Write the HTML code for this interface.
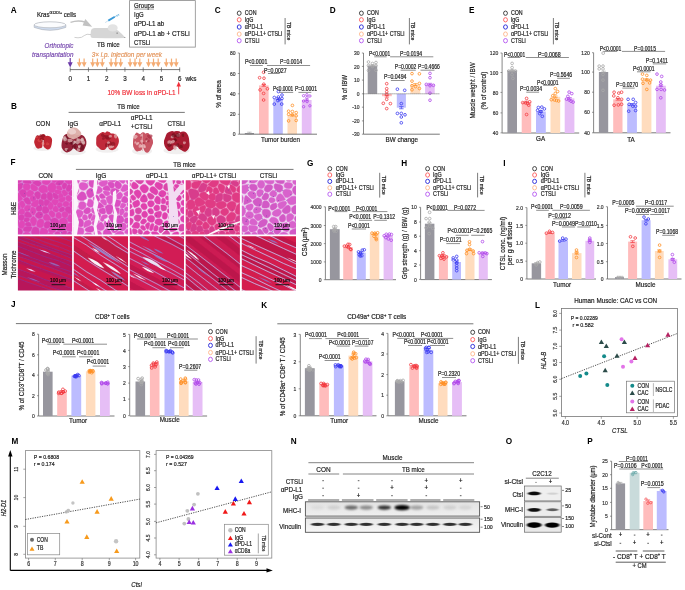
<!DOCTYPE html>
<html><head><meta charset="utf-8"><style>
html,body{margin:0;padding:0;background:#fff;width:685px;height:590px;overflow:hidden}
svg{display:block;will-change:transform}
text{font-family:"Liberation Sans",sans-serif}
</style></head><body>
<svg width="685" height="590" viewBox="0 0 685 590">
<defs><filter id="soft" x="-10%" y="-10%" width="120%" height="120%"><feGaussianBlur stdDeviation="0.45"/></filter>
<filter id="soft2" x="-5%" y="-5%" width="110%" height="110%"><feGaussianBlur stdDeviation="0.35"/></filter>
<clipPath id="clipHE0"><rect x="17.9" y="180.2" width="54.2" height="54.3"/></clipPath>
<clipPath id="clipHE1"><rect x="73.8" y="180.2" width="54.2" height="54.3"/></clipPath>
<clipPath id="clipHE2"><rect x="129.8" y="180.2" width="54.2" height="54.3"/></clipPath>
<clipPath id="clipHE3"><rect x="185.7" y="180.2" width="54.2" height="54.3"/></clipPath>
<clipPath id="clipHE4"><rect x="241.8" y="180.2" width="54.2" height="54.3"/></clipPath>
<clipPath id="clipMS0"><rect x="17.9" y="236.2" width="54.2" height="54.3"/></clipPath>
<clipPath id="clipMS1"><rect x="73.8" y="236.2" width="54.2" height="54.3"/></clipPath>
<clipPath id="clipMS2"><rect x="129.8" y="236.2" width="54.2" height="54.3"/></clipPath>
<clipPath id="clipMS3"><rect x="185.7" y="236.2" width="54.2" height="54.3"/></clipPath>
<clipPath id="clipMS4"><rect x="241.8" y="236.2" width="54.2" height="54.3"/></clipPath>
<filter id="bl1" x="-50%" y="-100%" width="200%" height="300%"><feGaussianBlur stdDeviation="0.9 0.7"/></filter>
<filter id="bl2" x="-50%" y="-100%" width="200%" height="300%"><feGaussianBlur stdDeviation="1.3 0.9"/></filter>
<linearGradient id="gN1" x1="0" y1="0" x2="0" y2="1"><stop offset="0" stop-color="#e2e2e2"/><stop offset="1" stop-color="#efefef"/></linearGradient>
<linearGradient id="gN2" x1="0" y1="0" x2="0" y2="1"><stop offset="0" stop-color="#e8e8e8"/><stop offset="1" stop-color="#f6f6f6"/></linearGradient></defs>
<rect width="685" height="590" fill="#fff"/>
<text x="10.8" y="12.8" font-size="8.2" fill="#000" font-weight="bold">A</text>
<text x="37" y="16.6" font-size="7.05" stroke="#222" stroke-width="0.2" fill="#222" textLength="39" lengthAdjust="spacingAndGlyphs">Kras<tspan font-size="4.2" dy="-2.4">G12D/+</tspan><tspan dy="2.4"> cells</tspan></text>
<path d="M34.2,24.8 L34.2,27.4 Q50,33.2 65.8,27.4 L65.8,24.8 Z" fill="#cfdcf0"/>
<ellipse cx="50" cy="24.8" rx="15.8" ry="3" fill="#fbfcfe" stroke="#b0b4bc" stroke-width="0.7"/>
<path d="M34.2,24.8 L34.2,27.4 Q50,33.2 65.8,27.4 L65.8,24.8" fill="none" stroke="#b0b4bc" stroke-width="0.7"/>
<path d="M70.5,22.4 Q78,19.6 85.5,22.2" fill="none" stroke="#c2c2c2" stroke-width="1.5"/>
<path d="M85.3,19.0 L92.2,26.7 L82.6,25.6 Z" fill="#c2c2c2"/>
<path d="M93,38.1 Q90.3,38 90.5,34.5 L90.9,31 Q91.4,27.9 95,27.9 L109,27.9 Q114,28 118,30.6 Q122,34 125.6,37.9 Q110,38.5 93,38.1 Z" fill="#d6d6d6"/>
<ellipse cx="112.7" cy="27.9" rx="5" ry="3.7" fill="#e3e3e3"/>
<circle cx="117.1" cy="33.1" r="0.6" fill="#555"/>
<circle cx="124.9" cy="37.5" r="0.45" fill="#555"/>
<path d="M91,34.6 Q86.5,33.4 84.2,35.6 Q82,37.9 78,37.8 L74.5,37.4" fill="none" stroke="#cacaca" stroke-width="0.9"/>
<line x1="105.2" y1="22.6" x2="108.4" y2="20.5" stroke="#8ab8d8" stroke-width="0.45"/>
<line x1="108.3" y1="20.6" x2="114.8" y2="16.8" stroke="#3a9ad8" stroke-width="1.9"/>
<line x1="114.8" y1="16.8" x2="119.2" y2="14.3" stroke="#5aaad8" stroke-width="0.6"/>
<line x1="116.4" y1="14.9" x2="117.5" y2="16.8" stroke="#5aaad8" stroke-width="0.5"/>
<line x1="118" y1="14" x2="119.1" y2="15.9" stroke="#5aaad8" stroke-width="0.5"/>
<text x="97" y="47.2" font-size="7.56" fill="#222" stroke="#222" stroke-width="0.2" textLength="22.8" lengthAdjust="spacingAndGlyphs">TB mice</text>
<rect x="129.6" y="0.6" width="65.7" height="46.5" fill="none" stroke="#8a8a8a" stroke-width="0.8"/>
<text x="134" y="7.9" font-size="7.28" fill="#222" stroke="#222" stroke-width="0.2" textLength="20" lengthAdjust="spacingAndGlyphs">Groups</text>
<line x1="134" y1="9.1" x2="154" y2="9.1" stroke="#444" stroke-width="0.5"/>
<text x="134" y="17" font-size="7.28" fill="#222" stroke="#222" stroke-width="0.2" textLength="9.6" lengthAdjust="spacingAndGlyphs">IgG</text>
<text x="134" y="26.3" font-size="7.28" fill="#222" stroke="#222" stroke-width="0.2" textLength="30.3" lengthAdjust="spacingAndGlyphs">&#945;PD-L1 ab</text>
<text x="134" y="35.6" font-size="7.28" fill="#222" stroke="#222" stroke-width="0.2" textLength="55.6" lengthAdjust="spacingAndGlyphs">&#945;PD-L1 ab + CTSLi</text>
<text x="134" y="44.7" font-size="7.28" fill="#222" stroke="#222" stroke-width="0.2" textLength="16.4" lengthAdjust="spacingAndGlyphs">CTSLi</text>
<text x="73.5" y="48.2" font-size="7.56" text-anchor="end" fill="#7a4db0" stroke="#7a4db0" stroke-width="0.2" font-style="italic" textLength="28.9" lengthAdjust="spacingAndGlyphs">Orthotopic</text>
<text x="73.5" y="57.2" font-size="7.56" text-anchor="end" fill="#7a4db0" stroke="#7a4db0" stroke-width="0.2" font-style="italic" textLength="41.5" lengthAdjust="spacingAndGlyphs">transplantation</text>
<text x="91.7" y="57.3" font-size="7.56" fill="#e3955c" stroke="#e3955c" stroke-width="0.2" font-style="italic" textLength="70.3" lengthAdjust="spacingAndGlyphs">3&#215; i.p. injection per week</text>
<line x1="70.2" y1="58" x2="70.2" y2="63.5" stroke="#6b3aa8" stroke-width="1.2"/>
<path d="M67.7,62.3 L72.7,62.3 L70.2,67.4 Z" fill="#6b3aa8"/>
<line x1="79.4" y1="58.6" x2="79.4" y2="63.5" stroke="#f4ac74" stroke-width="1.2"/>
<path d="M76.9,62.3 L81.9,62.3 L79.4,67.3 Z" fill="#f4ac74"/>
<line x1="84.1" y1="58.6" x2="84.1" y2="63.5" stroke="#f4ac74" stroke-width="1.2"/>
<path d="M81.6,62.3 L86.6,62.3 L84.1,67.3 Z" fill="#f4ac74"/>
<line x1="92.7" y1="58.6" x2="92.7" y2="63.5" stroke="#f4ac74" stroke-width="1.2"/>
<path d="M90.2,62.3 L95.2,62.3 L92.7,67.3 Z" fill="#f4ac74"/>
<line x1="97.4" y1="58.6" x2="97.4" y2="63.5" stroke="#f4ac74" stroke-width="1.2"/>
<path d="M94.9,62.3 L99.9,62.3 L97.4,67.3 Z" fill="#f4ac74"/>
<line x1="102.3" y1="58.6" x2="102.3" y2="63.5" stroke="#f4ac74" stroke-width="1.2"/>
<path d="M99.8,62.3 L104.8,62.3 L102.3,67.3 Z" fill="#f4ac74"/>
<line x1="111.1" y1="58.6" x2="111.1" y2="63.5" stroke="#f4ac74" stroke-width="1.2"/>
<path d="M108.6,62.3 L113.6,62.3 L111.1,67.3 Z" fill="#f4ac74"/>
<line x1="115.8" y1="58.6" x2="115.8" y2="63.5" stroke="#f4ac74" stroke-width="1.2"/>
<path d="M113.3,62.3 L118.3,62.3 L115.8,67.3 Z" fill="#f4ac74"/>
<line x1="120.7" y1="58.6" x2="120.7" y2="63.5" stroke="#f4ac74" stroke-width="1.2"/>
<path d="M118.2,62.3 L123.2,62.3 L120.7,67.3 Z" fill="#f4ac74"/>
<line x1="130.1" y1="58.6" x2="130.1" y2="63.5" stroke="#f4ac74" stroke-width="1.2"/>
<path d="M127.6,62.3 L132.6,62.3 L130.1,67.3 Z" fill="#f4ac74"/>
<line x1="135" y1="58.6" x2="135" y2="63.5" stroke="#f4ac74" stroke-width="1.2"/>
<path d="M132.5,62.3 L137.5,62.3 L135,67.3 Z" fill="#f4ac74"/>
<line x1="139.8" y1="58.6" x2="139.8" y2="63.5" stroke="#f4ac74" stroke-width="1.2"/>
<path d="M137.3,62.3 L142.3,62.3 L139.8,67.3 Z" fill="#f4ac74"/>
<line x1="148.5" y1="58.6" x2="148.5" y2="63.5" stroke="#f4ac74" stroke-width="1.2"/>
<path d="M146,62.3 L151,62.3 L148.5,67.3 Z" fill="#f4ac74"/>
<line x1="153.5" y1="58.6" x2="153.5" y2="63.5" stroke="#f4ac74" stroke-width="1.2"/>
<path d="M151,62.3 L156,62.3 L153.5,67.3 Z" fill="#f4ac74"/>
<line x1="158.2" y1="58.6" x2="158.2" y2="63.5" stroke="#f4ac74" stroke-width="1.2"/>
<path d="M155.7,62.3 L160.7,62.3 L158.2,67.3 Z" fill="#f4ac74"/>
<line x1="166.3" y1="58.6" x2="166.3" y2="63.5" stroke="#f4ac74" stroke-width="1.2"/>
<path d="M163.8,62.3 L168.8,62.3 L166.3,67.3 Z" fill="#f4ac74"/>
<line x1="171.5" y1="58.6" x2="171.5" y2="63.5" stroke="#f4ac74" stroke-width="1.2"/>
<path d="M169,62.3 L174,62.3 L171.5,67.3 Z" fill="#f4ac74"/>
<line x1="176.2" y1="58.6" x2="176.2" y2="63.5" stroke="#f4ac74" stroke-width="1.2"/>
<path d="M173.7,62.3 L178.7,62.3 L176.2,67.3 Z" fill="#f4ac74"/>
<line x1="70" y1="69.6" x2="180" y2="69.6" stroke="#555" stroke-width="0.8"/>
<line x1="70.2" y1="67.4" x2="70.2" y2="71.8" stroke="#555" stroke-width="0.7"/>
<text x="70.2" y="80.8" font-size="7.56" text-anchor="middle" fill="#222" stroke="#222" stroke-width="0.2" textLength="3.5" lengthAdjust="spacingAndGlyphs">0</text>
<line x1="88.45" y1="67.4" x2="88.45" y2="71.8" stroke="#555" stroke-width="0.7"/>
<text x="88.45" y="80.8" font-size="7.56" text-anchor="middle" fill="#222" stroke="#222" stroke-width="0.2" textLength="3.5" lengthAdjust="spacingAndGlyphs">1</text>
<line x1="106.7" y1="67.4" x2="106.7" y2="71.8" stroke="#555" stroke-width="0.7"/>
<text x="106.7" y="80.8" font-size="7.56" text-anchor="middle" fill="#222" stroke="#222" stroke-width="0.2" textLength="3.5" lengthAdjust="spacingAndGlyphs">2</text>
<line x1="124.95" y1="67.4" x2="124.95" y2="71.8" stroke="#555" stroke-width="0.7"/>
<text x="124.95" y="80.8" font-size="7.56" text-anchor="middle" fill="#222" stroke="#222" stroke-width="0.2" textLength="3.5" lengthAdjust="spacingAndGlyphs">3</text>
<line x1="143.2" y1="67.4" x2="143.2" y2="71.8" stroke="#555" stroke-width="0.7"/>
<text x="143.2" y="80.8" font-size="7.56" text-anchor="middle" fill="#222" stroke="#222" stroke-width="0.2" textLength="3.5" lengthAdjust="spacingAndGlyphs">4</text>
<line x1="161.45" y1="67.4" x2="161.45" y2="71.8" stroke="#555" stroke-width="0.7"/>
<text x="161.45" y="80.8" font-size="7.56" text-anchor="middle" fill="#222" stroke="#222" stroke-width="0.2" textLength="3.5" lengthAdjust="spacingAndGlyphs">5</text>
<line x1="179.7" y1="67.4" x2="179.7" y2="71.8" stroke="#555" stroke-width="0.7"/>
<text x="179.7" y="80.8" font-size="7.56" text-anchor="middle" fill="#222" stroke="#222" stroke-width="0.2" textLength="3.5" lengthAdjust="spacingAndGlyphs">6</text>
<text x="185.5" y="80.8" font-size="7.56" fill="#222" stroke="#222" stroke-width="0.2" textLength="11" lengthAdjust="spacingAndGlyphs">wks</text>
<text x="107.4" y="94.5" font-size="7.56" fill="#f0303a" stroke="#f0303a" stroke-width="0.2" textLength="68.1" lengthAdjust="spacingAndGlyphs">10% BW loss in &#945;PD-L1</text>
<line x1="178.7" y1="94.3" x2="178.7" y2="85" stroke="#f0303a" stroke-width="0.9"/>
<path d="M176.5,86.4 L180.9,86.4 L178.7,81.6 Z" fill="#f0303a"/>
<text x="11" y="109" font-size="8.2" fill="#000" font-weight="bold">B</text>
<text x="128.5" y="109.2" font-size="7.56" text-anchor="middle" fill="#222" stroke="#222" stroke-width="0.2" textLength="22.5" lengthAdjust="spacingAndGlyphs">TB mice</text>
<line x1="68.6" y1="112.4" x2="184.8" y2="112.4" stroke="#555" stroke-width="0.8"/>
<text x="42.9" y="125.8" font-size="7.56" text-anchor="middle" fill="#222" stroke="#222" stroke-width="0.2" textLength="14.4" lengthAdjust="spacingAndGlyphs">CON</text>
<text x="73" y="125.8" font-size="7.56" text-anchor="middle" fill="#222" stroke="#222" stroke-width="0.2" textLength="10.5" lengthAdjust="spacingAndGlyphs">IgG</text>
<text x="110.2" y="126" font-size="7.56" text-anchor="middle" fill="#222" stroke="#222" stroke-width="0.2" textLength="21.8" lengthAdjust="spacingAndGlyphs">&#945;PD-L1</text>
<text x="141.6" y="120.2" font-size="7.56" text-anchor="middle" fill="#222" stroke="#222" stroke-width="0.2" textLength="21.8" lengthAdjust="spacingAndGlyphs">&#945;PD-L1</text>
<text x="141.6" y="129" font-size="7.56" text-anchor="middle" fill="#222" stroke="#222" stroke-width="0.2" textLength="21.5" lengthAdjust="spacingAndGlyphs">+CTSLi</text>
<text x="176.2" y="125.7" font-size="7.56" text-anchor="middle" fill="#222" stroke="#222" stroke-width="0.2" textLength="17.5" lengthAdjust="spacingAndGlyphs">CTSLi</text>
<g filter="url(#soft)">
<ellipse cx="42.65" cy="148.2" rx="9.25" ry="2.77" fill="#e8e4e4" opacity="0.6"/>
<path d="M43.71,140.11 Q43.68,141.81 43.35,143.25 Q43.02,144.69 42.57,146.18 Q42.12,147.67 41.01,147.91 Q39.89,148.14 38.83,148.53 Q37.77,148.93 36.83,148.1 Q35.88,147.28 35.38,145.95 Q34.87,144.62 34.38,143.21 Q33.89,141.81 34.39,140.41 Q34.89,139.02 35.36,137.63 Q35.83,136.24 36.86,135.86 Q37.9,135.48 38.9,135.46 Q39.9,135.44 40.93,135.85 Q41.95,136.25 42.85,137.34 Q43.75,138.42 43.71,140.11 Z" fill="#c02630"/>
<path d="M52.1,140.46 Q51.95,142.12 51.78,143.55 Q51.61,144.99 51.11,146.4 Q50.61,147.82 49.63,148.79 Q48.64,149.76 47.45,149.46 Q46.27,149.15 45.32,148.33 Q44.37,147.52 43.38,146.53 Q42.39,145.54 42.67,143.83 Q42.95,142.12 42.74,140.45 Q42.52,138.78 43.48,137.82 Q44.45,136.86 45.42,136.33 Q46.39,135.8 47.4,135.82 Q48.41,135.84 49.4,136.34 Q50.38,136.83 51.31,137.82 Q52.25,138.81 52.1,140.46 Z" fill="#c02630"/>
<path d="M46.12,137.53 Q46.22,138.42 46.22,139.37 Q46.21,140.33 45.75,141.12 Q45.3,141.9 44.58,142.2 Q43.87,142.5 43.13,142.58 Q42.4,142.67 41.85,142.05 Q41.29,141.44 40.88,140.77 Q40.47,140.09 40.26,139.26 Q40.05,138.42 40.04,137.44 Q40.02,136.47 40.56,135.79 Q41.11,135.11 41.78,134.76 Q42.44,134.4 43.17,134.27 Q43.91,134.13 44.55,134.61 Q45.2,135.09 45.6,135.86 Q46.01,136.64 46.12,137.53 Z" fill="#c02630"/>
<path d="M49.06,143.35 Q49.58,143.83 49.24,144.48 Q48.89,145.13 48.2,145.21 Q47.51,145.3 46.74,145.29 Q45.97,145.27 46.03,144.55 Q46.09,143.83 46.21,143.27 Q46.32,142.71 46.91,142.34 Q47.51,141.97 48.02,142.42 Q48.53,142.87 49.06,143.35 Z" fill="#d84848" opacity="0.7"/>
<path d="M45.1,135.29 Q45.43,136.11 44.87,136.71 Q44.31,137.32 43.65,137.75 Q42.99,138.19 42.22,137.85 Q41.46,137.51 41.15,136.81 Q40.85,136.11 41.21,135.45 Q41.56,134.8 42.28,134.34 Q42.99,133.89 43.88,134.18 Q44.77,134.47 45.1,135.29 Z" fill="#8e1420" opacity="0.7"/>
<path d="M44.64,142.89 Q45.3,143.42 44.87,144.16 Q44.44,144.91 43.6,144.97 Q42.77,145.04 42.09,144.83 Q41.41,144.63 40.98,144.03 Q40.56,143.42 41.11,142.93 Q41.67,142.45 42.22,142.04 Q42.77,141.64 43.37,142 Q43.97,142.35 44.64,142.89 Z" fill="#d84848" opacity="0.7"/>
<path d="M38.36,135.89 Q38.42,136.34 38.36,136.79 Q38.31,137.23 37.9,137.21 Q37.48,137.18 37.14,137.13 Q36.8,137.07 36.64,136.71 Q36.47,136.34 36.56,135.89 Q36.65,135.44 37.07,135.27 Q37.48,135.1 37.9,135.27 Q38.31,135.45 38.36,135.89 Z" fill="#8e1420" opacity="0.7"/>
<path d="M41.65,139.96 Q42.03,140.51 41.73,141.12 Q41.42,141.72 40.65,142 Q39.87,142.28 39.07,142.02 Q38.26,141.76 37.77,141.14 Q37.27,140.51 37.6,139.75 Q37.93,138.99 38.9,138.85 Q39.87,138.7 40.57,139.06 Q41.26,139.42 41.65,139.96 Z" fill="#d84848" opacity="0.7"/>
<path d="M44.18,139.1 Q44.42,139.97 44.1,140.77 Q43.78,141.57 42.87,141.93 Q41.95,142.3 41.28,141.72 Q40.6,141.14 39.81,140.56 Q39.01,139.97 39.49,139.11 Q39.98,138.25 40.96,137.84 Q41.95,137.43 42.95,137.83 Q43.94,138.23 44.18,139.1 Z" fill="#8e1420" opacity="0.7"/>
<path d="M42.52,139.83 Q42.68,140.32 42.55,140.84 Q42.42,141.36 41.99,141.56 Q41.56,141.75 41.09,141.6 Q40.62,141.44 40.53,140.88 Q40.44,140.32 40.62,139.86 Q40.8,139.4 41.18,139.15 Q41.56,138.89 41.96,139.12 Q42.37,139.34 42.52,139.83 Z" fill="#d84848" opacity="0.7"/>
<path d="M42.3,135.35 Q42.43,135.95 42.27,136.5 Q42.1,137.06 41.62,137.29 Q41.13,137.53 40.71,137.23 Q40.28,136.92 39.83,136.43 Q39.39,135.95 39.61,135.2 Q39.82,134.45 40.48,134.36 Q41.13,134.28 41.65,134.52 Q42.17,134.76 42.3,135.35 Z" fill="#8e1420" opacity="0.7"/>
<path d="M38.19,136.4 Q38.28,136.84 38.06,137.18 Q37.83,137.51 37.43,137.94 Q37.02,138.37 36.48,138.05 Q35.94,137.74 35.86,137.29 Q35.78,136.84 35.85,136.39 Q35.93,135.95 36.48,135.92 Q37.02,135.89 37.56,135.92 Q38.1,135.95 38.19,136.4 Z" fill="#d84848" opacity="0.7"/>
</g>
<path d="M43.2,140 Q42.6,146 43.4,149.5" fill="none" stroke="#f6eeee" stroke-width="0.9"/>
<g filter="url(#soft)">
<ellipse cx="73.2" cy="151.8" rx="12.5" ry="3.47" fill="#e8e4e4" opacity="0.6"/>
<path d="M74.76,141.42 Q75.02,143.54 74.35,145.39 Q73.68,147.25 72.85,148.82 Q72.02,150.4 70.68,151.04 Q69.33,151.67 67.84,152.31 Q66.35,152.96 65.03,151.82 Q63.71,150.68 62.58,149.21 Q61.46,147.74 61.47,145.64 Q61.48,143.54 61.87,141.7 Q62.27,139.86 62.85,137.89 Q63.43,135.91 64.85,134.79 Q66.27,133.66 67.93,133.8 Q69.58,133.94 71.02,134.93 Q72.47,135.92 73.48,137.61 Q74.5,139.3 74.76,141.42 Z" fill="#942438"/>
<path d="M86.39,141.79 Q86.59,143.92 85.86,145.72 Q85.13,147.52 84.4,149.21 Q83.68,150.89 82.29,151.58 Q80.9,152.28 79.51,151.94 Q78.12,151.6 76.92,150.84 Q75.72,150.08 74.7,148.82 Q73.69,147.57 73.39,145.75 Q73.09,143.92 73.09,141.91 Q73.09,139.89 73.93,138.06 Q74.78,136.22 76.37,135.8 Q77.97,135.38 79.54,134.87 Q81.11,134.36 82.63,135.26 Q84.15,136.17 85.17,137.91 Q86.2,139.65 86.39,141.79 Z" fill="#942438"/>
<path d="M78.1,138 Q78.05,139.29 77.77,140.38 Q77.48,141.48 76.9,142.36 Q76.32,143.24 75.48,143.71 Q74.63,144.18 73.7,144.18 Q72.77,144.18 71.79,143.91 Q70.81,143.64 70.03,142.75 Q69.26,141.86 69.04,140.57 Q68.83,139.29 69.25,138.12 Q69.67,136.96 70.23,135.93 Q70.79,134.91 71.71,134.28 Q72.63,133.64 73.61,134.09 Q74.6,134.55 75.61,134.72 Q76.61,134.9 77.38,135.81 Q78.15,136.71 78.1,138 Z" fill="#942438"/>
<path d="M80.47,146.45 Q80.71,146.82 80.64,147.33 Q80.56,147.84 79.95,148.1 Q79.35,148.36 78.85,148.01 Q78.35,147.66 78.14,147.24 Q77.93,146.82 77.99,146.28 Q78.05,145.74 78.7,145.58 Q79.35,145.43 79.79,145.75 Q80.23,146.08 80.47,146.45 Z" fill="#dcb8b8" opacity="0.7"/>
<path d="M68.13,137.1 Q68.4,138.03 68.14,138.97 Q67.87,139.9 67.06,140.11 Q66.24,140.33 65.63,139.88 Q65.02,139.43 64.68,138.73 Q64.34,138.03 64.75,137.42 Q65.17,136.81 65.7,136.61 Q66.24,136.42 67.05,136.3 Q67.86,136.17 68.13,137.1 Z" fill="#6a1022" opacity="0.7"/>
<path d="M78.52,142.99 Q79,143.54 78.45,144.03 Q77.9,144.51 77.29,144.73 Q76.69,144.95 76.06,144.75 Q75.43,144.56 75.2,144.05 Q74.96,143.54 75.1,142.95 Q75.23,142.35 75.96,142.24 Q76.69,142.13 77.37,142.29 Q78.04,142.45 78.52,142.99 Z" fill="#6a1022" opacity="0.7"/>
<path d="M68.01,148.6 Q68.48,149.16 68.01,149.72 Q67.54,150.28 66.93,150.71 Q66.32,151.15 65.69,150.74 Q65.05,150.33 64.78,149.74 Q64.5,149.16 64.77,148.58 Q65.04,147.99 65.68,147.95 Q66.32,147.92 66.94,147.98 Q67.55,148.04 68.01,148.6 Z" fill="#dcb8b8" opacity="0.7"/>
<path d="M68.55,135.42 Q68.79,135.87 68.55,136.32 Q68.3,136.78 67.83,136.89 Q67.36,137.01 66.9,136.88 Q66.44,136.76 66.24,136.32 Q66.04,135.87 66.18,135.37 Q66.32,134.87 66.84,134.87 Q67.36,134.88 67.83,134.92 Q68.3,134.97 68.55,135.42 Z" fill="#6a1022" opacity="0.7"/>
<path d="M70.35,139.29 Q70.76,139.88 70.5,140.61 Q70.25,141.34 69.46,141.44 Q68.67,141.54 67.98,141.35 Q67.29,141.16 67.05,140.52 Q66.82,139.88 67.09,139.27 Q67.35,138.66 68.01,138.33 Q68.67,138 69.31,138.35 Q69.95,138.7 70.35,139.29 Z" fill="#6a1022" opacity="0.7"/>
<path d="M76.7,142.15 Q77.36,142.83 76.62,143.44 Q75.89,144.06 75.13,144.46 Q74.37,144.87 73.31,144.7 Q72.25,144.54 71.87,143.68 Q71.5,142.83 72.22,142.26 Q72.95,141.68 73.66,141.45 Q74.37,141.22 75.21,141.35 Q76.05,141.47 76.7,142.15 Z" fill="#6a1022" opacity="0.7"/>
<path d="M67.24,138.76 Q67.92,139.35 67.21,139.91 Q66.5,140.48 65.83,140.99 Q65.15,141.49 64.27,141.16 Q63.39,140.83 63.32,140.09 Q63.25,139.35 63.23,138.53 Q63.21,137.71 64.18,137.33 Q65.15,136.96 65.85,137.56 Q66.55,138.17 67.24,138.76 Z" fill="#dcb8b8" opacity="0.7"/>
<path d="M84.73,141.02 Q85.16,141.66 84.95,142.47 Q84.73,143.29 83.74,143.67 Q82.75,144.06 81.81,143.64 Q80.86,143.21 80.58,142.43 Q80.29,141.66 80.59,140.89 Q80.88,140.12 81.82,139.57 Q82.75,139.01 83.53,139.69 Q84.31,140.38 84.73,141.02 Z" fill="#dcb8b8" opacity="0.7"/>
<path d="M76.04,141.88 Q76.42,142.28 76.05,142.68 Q75.68,143.09 75.23,143.59 Q74.78,144.1 74.12,143.78 Q73.46,143.46 73.12,142.87 Q72.77,142.28 73.31,141.86 Q73.86,141.45 74.32,141.22 Q74.78,140.98 75.22,141.23 Q75.67,141.48 76.04,141.88 Z" fill="#dcb8b8" opacity="0.7"/>
<path d="M80.99,139.34 Q81.6,139.78 81.06,140.28 Q80.52,140.77 79.9,140.93 Q79.28,141.1 78.43,141.12 Q77.57,141.14 77.39,140.46 Q77.21,139.78 77.47,139.16 Q77.73,138.55 78.5,138.53 Q79.28,138.52 79.83,138.71 Q80.38,138.91 80.99,139.34 Z" fill="#dcb8b8" opacity="0.7"/>
<path d="M79.89,141.21 Q80.44,142.05 79.68,142.7 Q78.91,143.35 78.19,144.07 Q77.46,144.78 76.75,144.06 Q76.03,143.34 75.22,142.7 Q74.41,142.05 75.04,141.26 Q75.68,140.46 76.57,140.19 Q77.46,139.93 78.4,140.15 Q79.34,140.38 79.89,141.21 Z" fill="#dcb8b8" opacity="0.7"/>
<path d="M83.38,139.2 Q83.52,139.74 83.35,140.26 Q83.17,140.77 82.7,140.93 Q82.23,141.09 81.75,140.94 Q81.27,140.79 81.03,140.27 Q80.79,139.74 81,139.19 Q81.21,138.64 81.72,138.21 Q82.23,137.78 82.74,138.21 Q83.24,138.65 83.38,139.2 Z" fill="#dcb8b8" opacity="0.7"/>
<path d="M74.45,138.01 Q74.42,138.43 74.44,138.83 Q74.45,139.24 74.08,139.36 Q73.7,139.48 73.42,139.26 Q73.14,139.04 72.95,138.73 Q72.76,138.43 72.83,137.98 Q72.89,137.54 73.29,137.57 Q73.7,137.6 74.09,137.59 Q74.48,137.58 74.45,138.01 Z" fill="#dcb8b8" opacity="0.7"/>
<path d="M73.77,142.57 Q74.13,143.08 73.95,143.76 Q73.78,144.44 73.06,144.47 Q72.34,144.51 71.67,144.43 Q71,144.36 70.77,143.72 Q70.54,143.08 70.83,142.49 Q71.11,141.91 71.73,141.75 Q72.34,141.6 72.88,141.83 Q73.41,142.06 73.77,142.57 Z" fill="#6a1022" opacity="0.7"/>
<path d="M66.17,137.07 Q66.36,137.72 66.1,138.29 Q65.85,138.86 65.32,139.48 Q64.79,140.11 64,139.77 Q63.2,139.43 62.97,138.57 Q62.74,137.72 63.17,137.08 Q63.6,136.44 64.19,136.19 Q64.79,135.95 65.39,136.19 Q65.99,136.43 66.17,137.07 Z" fill="#dcb8b8" opacity="0.7"/>
<path d="M74.56,137.67 Q75.06,138.13 74.61,138.62 Q74.16,139.12 73.52,139.22 Q72.89,139.32 72.12,139.32 Q71.36,139.32 71.33,138.72 Q71.3,138.13 71.52,137.68 Q71.74,137.23 72.31,137.16 Q72.89,137.1 73.47,137.16 Q74.06,137.22 74.56,137.67 Z" fill="#dcb8b8" opacity="0.7"/>
<path d="M74.3,142.56 Q74.4,143.19 74.18,143.67 Q73.96,144.15 73.58,144.48 Q73.19,144.81 72.82,144.47 Q72.45,144.12 72.3,143.66 Q72.15,143.19 72.23,142.65 Q72.32,142.1 72.76,141.91 Q73.19,141.71 73.7,141.82 Q74.2,141.93 74.3,142.56 Z" fill="#dcb8b8" opacity="0.7"/>
<path d="M76.48,146 Q76.63,146.82 76.26,147.47 Q75.89,148.12 75.09,148.72 Q74.28,149.31 73.56,148.65 Q72.84,147.99 72.18,147.41 Q71.52,146.82 71.96,146.07 Q72.4,145.31 73.34,145.29 Q74.28,145.28 75.31,145.23 Q76.33,145.17 76.48,146 Z" fill="#6a1022" opacity="0.7"/>
<path d="M83.2,144.19 Q83.42,145.02 83.14,145.77 Q82.86,146.53 82.2,147.02 Q81.54,147.51 80.78,147.14 Q80.02,146.76 79.7,145.89 Q79.38,145.02 79.77,144.23 Q80.17,143.44 80.85,142.95 Q81.54,142.46 82.26,142.91 Q82.97,143.37 83.2,144.19 Z" fill="#6a1022" opacity="0.7"/>
<path d="M78.34,138.87 Q78.5,139.19 78.51,139.68 Q78.53,140.17 78.05,140.29 Q77.57,140.41 77.13,140.25 Q76.69,140.08 76.51,139.63 Q76.33,139.19 76.5,138.73 Q76.67,138.27 77.12,138.14 Q77.57,138.01 77.88,138.28 Q78.18,138.56 78.34,138.87 Z" fill="#dcb8b8" opacity="0.7"/>
<path d="M81.21,146.1 Q81.2,146.79 81.21,147.48 Q81.22,148.17 80.44,148.25 Q79.65,148.32 79.1,148.04 Q78.55,147.77 78.23,147.28 Q77.91,146.79 78,146.1 Q78.1,145.41 78.88,145.36 Q79.65,145.3 80.44,145.35 Q81.22,145.41 81.21,146.1 Z" fill="#dcb8b8" opacity="0.7"/>
<path d="M84.9,142.53 Q85.38,143.06 85.01,143.69 Q84.64,144.31 83.93,144.58 Q83.21,144.85 82.68,144.42 Q82.15,143.99 81.9,143.53 Q81.64,143.06 81.84,142.54 Q82.03,142.03 82.62,141.61 Q83.21,141.19 83.82,141.59 Q84.43,142 84.9,142.53 Z" fill="#dcb8b8" opacity="0.7"/>
<path d="M76.57,135.42 Q76.77,136 76.51,136.53 Q76.26,137.06 75.66,137.14 Q75.06,137.23 74.5,137.11 Q73.94,136.98 73.73,136.49 Q73.52,136 73.74,135.52 Q73.97,135.04 74.51,134.96 Q75.06,134.89 75.72,134.86 Q76.38,134.83 76.57,135.42 Z" fill="#dcb8b8" opacity="0.7"/>
<path d="M68.68,149.79 Q68.91,150.16 68.76,150.61 Q68.61,151.06 68.15,151.11 Q67.69,151.16 67.36,150.98 Q67.03,150.8 66.9,150.48 Q66.78,150.16 66.78,149.72 Q66.77,149.28 67.23,149.28 Q67.69,149.29 68.07,149.35 Q68.46,149.41 68.68,149.79 Z" fill="#6a1022" opacity="0.7"/>
<path d="M67.64,143.19 Q67.98,143.5 67.86,144 Q67.75,144.5 67.14,144.66 Q66.53,144.81 66.1,144.52 Q65.66,144.23 65.24,143.87 Q64.81,143.5 65.17,143.09 Q65.53,142.67 66.03,142.63 Q66.53,142.6 66.92,142.74 Q67.3,142.87 67.64,143.19 Z" fill="#6a1022" opacity="0.7"/>
<path d="M74.52,141.96 Q74.59,142.43 74.54,142.92 Q74.5,143.42 74.02,143.37 Q73.53,143.33 73.07,143.35 Q72.61,143.38 72.39,142.9 Q72.17,142.43 72.52,142.08 Q72.87,141.74 73.2,141.36 Q73.53,140.98 73.99,141.23 Q74.44,141.49 74.52,141.96 Z" fill="#dcb8b8" opacity="0.7"/>
<path d="M83.42,139.58 Q83.84,140.07 83.45,140.58 Q83.06,141.09 82.39,141.32 Q81.73,141.56 81.1,141.3 Q80.47,141.04 80.32,140.55 Q80.17,140.07 80.38,139.63 Q80.59,139.19 81.16,138.72 Q81.73,138.26 82.37,138.67 Q83,139.09 83.42,139.58 Z" fill="#dcb8b8" opacity="0.7"/>
<path d="M83.69,138.85 Q83.85,139.47 83.8,140.22 Q83.74,140.96 83.08,141.24 Q82.41,141.52 81.78,141.2 Q81.16,140.88 80.97,140.17 Q80.78,139.47 80.94,138.74 Q81.1,138.01 81.76,137.69 Q82.41,137.38 82.97,137.81 Q83.52,138.23 83.69,138.85 Z" fill="#dcb8b8" opacity="0.7"/>
<path d="M79.73,136.02 Q80.15,136.54 79.73,137.06 Q79.3,137.57 78.7,137.69 Q78.09,137.81 77.27,137.87 Q76.45,137.94 76.49,137.24 Q76.53,136.54 76.64,135.97 Q76.75,135.4 77.42,135.22 Q78.09,135.04 78.7,135.27 Q79.31,135.5 79.73,136.02 Z" fill="#6a1022" opacity="0.7"/>
<path d="M79.97,149.55 Q80.36,150.14 80.03,150.78 Q79.7,151.42 79.09,151.58 Q78.48,151.74 77.95,151.5 Q77.41,151.26 77.17,150.7 Q76.92,150.14 76.93,149.32 Q76.93,148.5 77.71,148.36 Q78.48,148.22 79.04,148.6 Q79.59,148.97 79.97,149.55 Z" fill="#dcb8b8" opacity="0.7"/>
<path d="M73.5,137.48 Q73.57,137.86 73.47,138.21 Q73.37,138.56 73.04,138.71 Q72.7,138.85 72.3,138.77 Q71.9,138.69 71.65,138.28 Q71.39,137.86 71.61,137.42 Q71.83,136.97 72.26,136.88 Q72.7,136.79 73.07,136.94 Q73.44,137.1 73.5,137.48 Z" fill="#dcb8b8" opacity="0.7"/>
<path d="M75.13,141.01 Q75.44,141.34 75.11,141.66 Q74.77,141.97 74.48,142.2 Q74.18,142.43 73.8,142.3 Q73.42,142.16 73.2,141.75 Q72.98,141.34 73.27,141.01 Q73.56,140.68 73.87,140.53 Q74.18,140.38 74.5,140.53 Q74.81,140.67 75.13,141.01 Z" fill="#dcb8b8" opacity="0.7"/>
<path d="M73.63,141.62 Q73.75,142.36 73.46,142.95 Q73.16,143.54 72.43,144.16 Q71.7,144.77 70.55,144.49 Q69.4,144.21 69.21,143.28 Q69.03,142.36 69.36,141.55 Q69.7,140.74 70.7,140.73 Q71.7,140.71 72.6,140.8 Q73.5,140.89 73.63,141.62 Z" fill="#6a1022" opacity="0.7"/>
<path d="M83.99,146.98 Q83.99,147.93 83.75,148.62 Q83.51,149.31 82.87,149.81 Q82.24,150.31 81.39,150.03 Q80.55,149.75 80.06,148.84 Q79.57,147.93 80.05,147 Q80.52,146.07 81.38,145.73 Q82.24,145.39 83.11,145.71 Q83.98,146.04 83.99,146.98 Z" fill="#6a1022" opacity="0.7"/>
</g>
<g filter="url(#soft)">
<path d="M80.83,132.11 Q81.52,133.2 81.23,134.43 Q80.93,135.66 79.57,136.38 Q78.21,137.09 77.01,138.06 Q75.81,139.03 74.11,138.67 Q72.42,138.31 70.6,138.16 Q68.78,138.02 67.85,136.87 Q66.91,135.71 66.84,134.46 Q66.76,133.2 67.26,132.09 Q67.76,130.99 68.65,130.03 Q69.54,129.08 70.9,128.32 Q72.25,127.56 74.01,127.52 Q75.77,127.48 77.03,128.35 Q78.3,129.23 79.22,130.13 Q80.14,131.02 80.83,132.11 Z" fill="#dcaca6" opacity="0.95"/>
<path d="M75.89,130.85 Q76.22,131.5 76.04,132.21 Q75.86,132.92 75.2,133.43 Q74.55,133.93 73.71,134.17 Q72.87,134.41 71.96,134.55 Q71.04,134.7 70.37,134.2 Q69.69,133.71 69.04,133.27 Q68.4,132.82 68.12,132.16 Q67.84,131.5 67.82,130.73 Q67.8,129.96 68.54,129.43 Q69.29,128.91 70.13,128.5 Q70.98,128.09 71.95,128.25 Q72.93,128.4 73.69,128.78 Q74.45,129.16 75,129.68 Q75.55,130.2 75.89,130.85 Z" fill="#ecd2ce" opacity="0.9"/>
<path d="M72.59,140.07 Q72.89,140.5 72.67,140.96 Q72.46,141.41 72,141.7 Q71.55,141.99 71.03,142.11 Q70.51,142.23 69.97,142.34 Q69.42,142.45 68.87,142.29 Q68.31,142.13 68.01,141.74 Q67.7,141.35 67.63,140.93 Q67.55,140.5 67.56,140.05 Q67.56,139.6 67.89,139.19 Q68.21,138.78 68.84,138.73 Q69.46,138.68 69.99,138.72 Q70.51,138.77 71.04,138.88 Q71.56,139 71.93,139.32 Q72.3,139.65 72.59,140.07 Z" fill="#d8a8a8" opacity="0.8"/>
</g>
<g filter="url(#soft)">
<ellipse cx="107.1" cy="149.2" rx="11.6" ry="3.47" fill="#e8e4e4" opacity="0.6"/>
<path d="M108.66,138.75 Q108.8,140.94 108.15,142.76 Q107.5,144.59 106.97,146.56 Q106.45,148.53 105.09,149.41 Q103.74,150.29 102.3,150.04 Q100.87,149.79 99.75,148.66 Q98.63,147.53 97.31,146.42 Q95.98,145.32 96.13,143.13 Q96.28,140.94 96.23,138.82 Q96.19,136.7 97.4,135.5 Q98.61,134.3 99.79,133.49 Q100.96,132.68 102.35,132.11 Q103.75,131.54 104.86,132.87 Q105.98,134.19 107.25,135.38 Q108.52,136.57 108.66,138.75 Z" fill="#c02c3a"/>
<path d="M118.81,139.45 Q119.19,141.32 118.67,143.1 Q118.16,144.88 117.37,146.34 Q116.58,147.8 115.44,148.8 Q114.3,149.81 112.89,150.06 Q111.49,150.32 110.05,149.67 Q108.61,149.01 108.19,146.93 Q107.77,144.85 107.3,143.08 Q106.83,141.32 107.26,139.53 Q107.68,137.74 108.13,135.66 Q108.59,133.59 110.12,133.5 Q111.66,133.41 112.92,133.5 Q114.18,133.6 115.3,134.36 Q116.43,135.11 117.43,136.34 Q118.44,137.57 118.81,139.45 Z" fill="#c02c3a"/>
<path d="M111.69,135.57 Q112.18,136.69 111.94,137.97 Q111.71,139.25 111.03,140.2 Q110.35,141.15 109.49,141.87 Q108.64,142.59 107.61,142.55 Q106.57,142.5 105.84,141.62 Q105.1,140.74 104.61,139.8 Q104.12,138.86 103.55,137.77 Q102.99,136.69 103.3,135.45 Q103.62,134.21 104.45,133.57 Q105.29,132.94 105.96,132.08 Q106.63,131.21 107.57,131.39 Q108.5,131.57 109.31,132.08 Q110.12,132.59 110.67,133.52 Q111.21,134.44 111.69,135.57 Z" fill="#c02c3a"/>
<path d="M104.85,137.92 Q105.02,138.37 104.84,138.82 Q104.67,139.27 104.09,139.62 Q103.51,139.97 102.79,139.73 Q102.07,139.5 101.94,138.93 Q101.81,138.37 102.18,138 Q102.55,137.62 103.03,137.32 Q103.51,137.02 104.1,137.24 Q104.68,137.46 104.85,137.92 Z" fill="#8c1424" opacity="0.7"/>
<path d="M116.96,135.28 Q117.3,136.05 117.16,137.05 Q117.02,138.05 116.2,138.44 Q115.39,138.83 114.84,138.11 Q114.3,137.38 114.07,136.72 Q113.85,136.05 114.06,135.37 Q114.28,134.69 114.83,133.88 Q115.39,133.08 116.01,133.8 Q116.63,134.52 116.96,135.28 Z" fill="#e6b4b4" opacity="0.7"/>
<path d="M114.12,145.72 Q114.33,146.4 113.89,146.89 Q113.45,147.38 112.82,147.76 Q112.19,148.15 111.54,147.78 Q110.89,147.41 110.64,146.9 Q110.39,146.4 110.75,145.98 Q111.11,145.56 111.65,145.08 Q112.19,144.61 113.05,144.83 Q113.92,145.05 114.12,145.72 Z" fill="#e6b4b4" opacity="0.7"/>
<path d="M111.53,146.6 Q112.03,147.05 111.75,147.71 Q111.46,148.38 110.77,148.43 Q110.09,148.49 109.6,148.24 Q109.11,148 108.83,147.52 Q108.56,147.05 108.76,146.51 Q108.97,145.98 109.53,145.59 Q110.09,145.2 110.56,145.67 Q111.03,146.14 111.53,146.6 Z" fill="#e6b4b4" opacity="0.7"/>
<path d="M115.14,143.34 Q115.52,144.05 115.18,144.78 Q114.84,145.52 114.03,145.84 Q113.22,146.17 112.2,146.03 Q111.18,145.89 111.21,144.97 Q111.23,144.05 111.47,143.36 Q111.7,142.68 112.46,142.08 Q113.22,141.48 113.99,142.06 Q114.77,142.64 115.14,143.34 Z" fill="#8c1424" opacity="0.7"/>
<path d="M111.04,137.17 Q111.36,137.99 110.85,138.68 Q110.34,139.36 109.46,139.65 Q108.58,139.94 107.46,139.83 Q106.35,139.72 105.72,138.86 Q105.09,137.99 105.75,137.16 Q106.41,136.32 107.49,136.1 Q108.58,135.88 109.64,136.11 Q110.71,136.34 111.04,137.17 Z" fill="#8c1424" opacity="0.7"/>
<path d="M111.76,142.37 Q112.02,143.1 112.05,144.09 Q112.07,145.08 110.95,145.16 Q109.83,145.24 108.85,145.05 Q107.86,144.85 107.58,143.98 Q107.3,143.1 107.5,142.16 Q107.7,141.22 108.76,141.15 Q109.83,141.08 110.67,141.35 Q111.5,141.63 111.76,142.37 Z" fill="#8c1424" opacity="0.7"/>
<path d="M104.34,134.9 Q104.71,135.46 104.64,136.35 Q104.58,137.24 103.73,137.36 Q102.87,137.48 102.28,137.09 Q101.69,136.7 101.16,136.08 Q100.64,135.46 101.02,134.7 Q101.4,133.93 102.14,133.45 Q102.87,132.96 103.42,133.64 Q103.97,134.33 104.34,134.9 Z" fill="#8c1424" opacity="0.7"/>
<path d="M108.89,144.19 Q108.96,145.23 108.63,145.94 Q108.3,146.65 107.71,146.99 Q107.13,147.33 106.24,147.36 Q105.35,147.4 105.18,146.31 Q105.01,145.23 105.2,144.17 Q105.38,143.1 106.26,143 Q107.13,142.91 107.98,143.03 Q108.83,143.16 108.89,144.19 Z" fill="#8c1424" opacity="0.7"/>
<path d="M108.58,136.09 Q108.91,137.03 108.59,137.97 Q108.27,138.92 107.46,139.06 Q106.66,139.2 105.94,138.95 Q105.23,138.7 105.06,137.86 Q104.89,137.03 105.12,136.27 Q105.36,135.51 106.01,135.16 Q106.66,134.81 107.45,134.98 Q108.25,135.16 108.58,136.09 Z" fill="#8c1424" opacity="0.7"/>
<path d="M111.84,135.64 Q112.01,136.2 111.82,136.73 Q111.62,137.26 111.02,137.44 Q110.41,137.61 109.65,137.58 Q108.88,137.55 108.68,136.87 Q108.48,136.2 108.93,135.74 Q109.37,135.28 109.89,135.08 Q110.41,134.87 111.05,134.98 Q111.68,135.09 111.84,135.64 Z" fill="#e6b4b4" opacity="0.7"/>
<path d="M109.87,142.11 Q110.1,142.59 109.83,143.04 Q109.56,143.49 109.05,143.69 Q108.53,143.88 107.82,143.86 Q107.11,143.83 107.08,143.21 Q107.04,142.59 107.19,142.07 Q107.33,141.55 107.93,141.41 Q108.53,141.26 109.09,141.44 Q109.64,141.62 109.87,142.11 Z" fill="#e6b4b4" opacity="0.7"/>
<path d="M106.11,135.71 Q106.5,136.11 106.19,136.61 Q105.88,137.12 105.48,137.48 Q105.07,137.83 104.67,137.47 Q104.27,137.11 103.96,136.61 Q103.65,136.11 103.95,135.59 Q104.25,135.08 104.66,134.98 Q105.07,134.87 105.39,135.09 Q105.71,135.31 106.11,135.71 Z" fill="#8c1424" opacity="0.7"/>
</g>
<g filter="url(#soft)">
<ellipse cx="142.1" cy="151.1" rx="10.1" ry="3.67" fill="#e8e4e4" opacity="0.6"/>
<path d="M143.35,140.08 Q143.48,142.31 143.25,144.46 Q143.03,146.61 142.36,148.57 Q141.69,150.54 140.37,150.64 Q139.05,150.73 137.88,151.33 Q136.7,151.93 135.68,150.75 Q134.66,149.57 133.85,148.02 Q133.03,146.47 133,144.39 Q132.96,142.31 133.13,140.34 Q133.3,138.36 133.92,136.57 Q134.54,134.77 135.58,133.39 Q136.62,132.01 137.84,132.92 Q139.05,133.84 140.2,134.33 Q141.35,134.83 142.29,136.34 Q143.23,137.84 143.35,140.08 Z" fill="#c85464"/>
<path d="M152.9,140.54 Q153.31,142.72 152.56,144.6 Q151.8,146.49 151.07,147.94 Q150.34,149.4 149.47,151.12 Q148.59,152.84 147.24,152.87 Q145.89,152.91 144.88,151.47 Q143.86,150.02 143.36,148.19 Q142.86,146.35 142.05,144.53 Q141.23,142.72 141.85,140.73 Q142.46,138.75 142.99,136.71 Q143.52,134.67 144.76,133.99 Q146,133.3 147.28,133.08 Q148.55,132.85 149.46,134.42 Q150.37,135.98 151.43,137.17 Q152.5,138.37 152.9,140.54 Z" fill="#c85464"/>
<path d="M145.75,136.72 Q145.99,137.82 145.9,139.03 Q145.8,140.24 145.43,141.45 Q145.06,142.66 144.26,143.24 Q143.47,143.83 142.66,143.4 Q141.85,142.97 141.17,142.47 Q140.49,141.98 139.94,141.11 Q139.4,140.24 139.18,139.03 Q138.95,137.82 139.18,136.62 Q139.42,135.41 139.98,134.58 Q140.54,133.76 141.19,133.17 Q141.84,132.59 142.65,132.27 Q143.45,131.95 144.27,132.44 Q145.08,132.93 145.3,134.27 Q145.52,135.61 145.75,136.72 Z" fill="#c85464"/>
<path d="M145.16,145.13 Q145.4,145.89 145.12,146.61 Q144.85,147.33 144.23,147.67 Q143.61,148.01 143.06,147.58 Q142.52,147.16 142.24,146.53 Q141.97,145.89 142.16,145.16 Q142.35,144.43 142.98,144.2 Q143.61,143.98 144.26,144.17 Q144.91,144.37 145.16,145.13 Z" fill="#ecc0c0" opacity="0.7"/>
<path d="M143.03,140.45 Q143.29,140.94 143.23,141.63 Q143.17,142.31 142.45,142.6 Q141.74,142.89 141.12,142.51 Q140.51,142.12 140.38,141.53 Q140.24,140.94 140.37,140.35 Q140.5,139.76 141.12,139.66 Q141.74,139.57 142.25,139.77 Q142.77,139.96 143.03,140.45 Z" fill="#ecc0c0" opacity="0.7"/>
<path d="M142.59,135.05 Q142.85,135.57 142.52,136.01 Q142.2,136.44 141.84,136.88 Q141.48,137.32 140.96,137.07 Q140.45,136.83 140.32,136.2 Q140.19,135.57 140.48,135.14 Q140.77,134.71 141.13,134.36 Q141.48,134 141.9,134.27 Q142.33,134.53 142.59,135.05 Z" fill="#ecc0c0" opacity="0.7"/>
<path d="M152.4,135.37 Q152.85,136.26 152.13,136.92 Q151.42,137.57 150.65,138.28 Q149.89,138.98 148.98,138.39 Q148.08,137.81 147.41,137.03 Q146.74,136.26 147.22,135.32 Q147.7,134.38 148.79,134.41 Q149.89,134.43 150.92,134.46 Q151.96,134.48 152.4,135.37 Z" fill="#a82c40" opacity="0.7"/>
<path d="M141.93,145.21 Q142.43,145.87 141.87,146.47 Q141.32,147.07 140.75,147.51 Q140.19,147.94 139.36,147.79 Q138.53,147.64 138.54,146.76 Q138.54,145.87 138.76,145.23 Q138.98,144.58 139.59,144.19 Q140.19,143.8 140.81,144.17 Q141.44,144.54 141.93,145.21 Z" fill="#ecc0c0" opacity="0.7"/>
<path d="M137.57,136.08 Q138.01,136.97 137.27,137.6 Q136.54,138.22 135.83,138.81 Q135.12,139.39 134.43,138.79 Q133.74,138.18 133.2,137.58 Q132.66,136.97 132.98,136.17 Q133.29,135.37 134.2,135.19 Q135.12,135 136.13,135.1 Q137.14,135.19 137.57,136.08 Z" fill="#ecc0c0" opacity="0.7"/>
<path d="M144.74,142.73 Q144.92,143.14 144.66,143.49 Q144.39,143.83 143.94,144.08 Q143.49,144.33 143.07,144.06 Q142.65,143.79 142.24,143.46 Q141.82,143.14 142.16,142.76 Q142.51,142.38 143,142.28 Q143.49,142.18 144.03,142.24 Q144.57,142.31 144.74,142.73 Z" fill="#a82c40" opacity="0.7"/>
<path d="M142.49,136.63 Q142.69,136.89 142.62,137.25 Q142.55,137.62 142.11,137.85 Q141.67,138.08 141.24,137.84 Q140.81,137.6 140.61,137.24 Q140.41,136.89 140.66,136.58 Q140.92,136.27 141.29,136.22 Q141.67,136.17 141.98,136.27 Q142.3,136.37 142.49,136.63 Z" fill="#a82c40" opacity="0.7"/>
<path d="M138.37,143.18 Q138.53,143.7 138.33,144.18 Q138.13,144.66 137.53,145.02 Q136.93,145.39 136.41,144.96 Q135.88,144.54 135.67,144.12 Q135.47,143.7 135.56,143.19 Q135.65,142.67 136.29,142.56 Q136.93,142.44 137.58,142.56 Q138.22,142.67 138.37,143.18 Z" fill="#ecc0c0" opacity="0.7"/>
<path d="M139.33,142.71 Q139.42,143.2 139.16,143.53 Q138.89,143.87 138.52,144.24 Q138.14,144.62 137.74,144.27 Q137.35,143.91 137.21,143.56 Q137.08,143.2 137.24,142.87 Q137.41,142.54 137.78,142.24 Q138.14,141.95 138.69,142.08 Q139.23,142.22 139.33,142.71 Z" fill="#ecc0c0" opacity="0.7"/>
<path d="M148.13,139.99 Q148.22,140.38 148.03,140.68 Q147.83,140.98 147.5,141.17 Q147.16,141.36 146.81,141.19 Q146.45,141.01 146.18,140.69 Q145.91,140.38 146.13,140.02 Q146.35,139.66 146.75,139.62 Q147.16,139.58 147.6,139.59 Q148.03,139.6 148.13,139.99 Z" fill="#ecc0c0" opacity="0.7"/>
<path d="M136.16,141.96 Q136.37,142.39 136.07,142.71 Q135.77,143.04 135.5,143.33 Q135.23,143.63 134.8,143.53 Q134.37,143.43 134.39,142.91 Q134.41,142.39 134.52,142.03 Q134.63,141.66 134.93,141.39 Q135.23,141.11 135.59,141.32 Q135.94,141.53 136.16,141.96 Z" fill="#ecc0c0" opacity="0.7"/>
<path d="M145.8,146.31 Q145.85,146.76 145.89,147.31 Q145.93,147.86 145.41,148.05 Q144.89,148.25 144.4,148.01 Q143.92,147.78 143.94,147.27 Q143.96,146.76 143.91,146.22 Q143.86,145.68 144.37,145.49 Q144.89,145.3 145.32,145.58 Q145.75,145.85 145.8,146.31 Z" fill="#ecc0c0" opacity="0.7"/>
<path d="M147.22,140.79 Q147.24,141.16 147.18,141.5 Q147.12,141.84 146.81,142.08 Q146.51,142.33 146.14,142.15 Q145.77,141.97 145.58,141.57 Q145.39,141.16 145.58,140.76 Q145.76,140.35 146.14,140.3 Q146.51,140.25 146.85,140.33 Q147.2,140.41 147.22,140.79 Z" fill="#ecc0c0" opacity="0.7"/>
<path d="M143.03,145.83 Q143.29,146.37 142.85,146.75 Q142.41,147.13 141.99,147.49 Q141.57,147.85 141.19,147.45 Q140.82,147.04 140.58,146.71 Q140.34,146.37 140.52,145.99 Q140.71,145.61 141.14,145.29 Q141.57,144.98 142.17,145.14 Q142.77,145.3 143.03,145.83 Z" fill="#ecc0c0" opacity="0.7"/>
<path d="M147.79,138.7 Q148.05,139.22 147.77,139.72 Q147.5,140.22 147.04,140.44 Q146.58,140.67 146.11,140.45 Q145.64,140.23 145.35,139.72 Q145.07,139.22 145.4,138.75 Q145.73,138.29 146.15,137.98 Q146.58,137.66 147.05,137.92 Q147.53,138.18 147.79,138.7 Z" fill="#a82c40" opacity="0.7"/>
<path d="M149.72,140.22 Q149.72,140.93 149.64,141.54 Q149.55,142.16 148.97,142.19 Q148.38,142.22 147.71,142.27 Q147.04,142.33 147.07,141.63 Q147.09,140.93 147.31,140.48 Q147.53,140.04 147.95,139.82 Q148.38,139.61 149.05,139.56 Q149.72,139.52 149.72,140.22 Z" fill="#a82c40" opacity="0.7"/>
</g>
<path d="M142.4,133.5 Q141.8,142 142.6,151" fill="none" stroke="#e8b0b4" stroke-width="0.8"/>
<g filter="url(#soft)">
<ellipse cx="176.5" cy="150.5" rx="13" ry="3.83" fill="#e8e4e4" opacity="0.6"/>
<path d="M177.86,138.9 Q177.78,141.28 177.29,143.26 Q176.8,145.25 175.85,146.73 Q174.9,148.22 173.66,149.09 Q172.41,149.96 170.9,150.72 Q169.39,151.49 167.94,150.42 Q166.5,149.35 165.45,147.59 Q164.4,145.82 164,143.55 Q163.6,141.28 164.48,139.33 Q165.35,137.39 165.95,135.33 Q166.55,133.28 168.03,132.56 Q169.51,131.84 171.11,131.3 Q172.7,130.77 174.22,131.81 Q175.73,132.85 176.84,134.69 Q177.94,136.52 177.86,138.9 Z" fill="#a81c30"/>
<path d="M189.13,139.68 Q189.27,141.7 189.57,144.02 Q189.86,146.33 188.83,148.23 Q187.79,150.12 186.25,151.2 Q184.71,152.27 183.14,151.31 Q181.57,150.35 180.24,149.59 Q178.91,148.82 178.08,147.19 Q177.24,145.56 176.99,143.63 Q176.74,141.7 176.44,139.4 Q176.13,137.1 177.2,135.28 Q178.28,133.47 179.82,132.66 Q181.37,131.84 183.02,131.62 Q184.66,131.4 186.08,132.6 Q187.5,133.8 188.24,135.73 Q188.98,137.67 189.13,139.68 Z" fill="#a81c30"/>
<path d="M181.23,135.29 Q181.23,136.59 181.02,137.76 Q180.81,138.93 180.45,140.23 Q180.1,141.54 179.03,141.77 Q177.97,141.99 176.99,142.07 Q176,142.15 175.07,141.66 Q174.14,141.17 173.7,140.02 Q173.27,138.88 172.93,137.74 Q172.59,136.59 172.8,135.36 Q173,134.14 173.47,132.91 Q173.93,131.69 174.96,131.32 Q175.99,130.96 176.99,130.99 Q178,131.03 179.12,131.22 Q180.24,131.41 180.73,132.7 Q181.22,134 181.23,135.29 Z" fill="#a81c30"/>
<path d="M185.88,142.12 Q186.13,142.76 185.75,143.28 Q185.36,143.8 184.83,144.15 Q184.31,144.5 183.73,144.2 Q183.15,143.9 183.04,143.33 Q182.93,142.76 182.95,142.11 Q182.97,141.45 183.64,141.48 Q184.31,141.51 184.97,141.49 Q185.63,141.47 185.88,142.12 Z" fill="#e0b0b4" opacity="0.7"/>
<path d="M171.78,144.66 Q171.85,145.09 171.75,145.5 Q171.66,145.91 171.23,145.93 Q170.8,145.94 170.43,145.87 Q170.06,145.8 169.95,145.45 Q169.83,145.09 169.88,144.68 Q169.94,144.26 170.37,144.24 Q170.8,144.21 171.26,144.22 Q171.71,144.22 171.78,144.66 Z" fill="#70101c" opacity="0.7"/>
<path d="M173.76,135.66 Q174.05,136.23 173.68,136.71 Q173.31,137.18 172.91,137.68 Q172.5,138.17 171.94,137.86 Q171.37,137.55 171.11,136.89 Q170.84,136.23 171.13,135.59 Q171.41,134.95 171.96,134.81 Q172.5,134.66 172.99,134.87 Q173.48,135.09 173.76,135.66 Z" fill="#70101c" opacity="0.7"/>
<path d="M176.22,146.39 Q176.36,147.17 176.15,147.87 Q175.94,148.57 175.38,149.22 Q174.81,149.86 174.16,149.31 Q173.52,148.76 173.31,147.96 Q173.09,147.17 173.18,146.22 Q173.27,145.28 174.04,145.25 Q174.81,145.22 175.44,145.42 Q176.07,145.61 176.22,146.39 Z" fill="#e0b0b4" opacity="0.7"/>
<path d="M179.25,144.2 Q179.35,144.97 179.05,145.53 Q178.74,146.08 178.2,146.64 Q177.66,147.2 176.95,146.81 Q176.24,146.43 175.91,145.7 Q175.58,144.97 176.07,144.41 Q176.56,143.85 177.11,143.48 Q177.66,143.12 178.4,143.28 Q179.15,143.44 179.25,144.2 Z" fill="#70101c" opacity="0.7"/>
<path d="M180.18,134.07 Q180.39,134.8 180.17,135.51 Q179.96,136.22 179.3,136.74 Q178.65,137.26 177.79,136.96 Q176.94,136.65 176.94,135.72 Q176.94,134.8 177.19,134.14 Q177.44,133.49 178.04,133.16 Q178.65,132.84 179.31,133.1 Q179.98,133.35 180.18,134.07 Z" fill="#e0b0b4" opacity="0.7"/>
<path d="M179.01,134.86 Q179.28,135.36 178.83,135.72 Q178.38,136.08 177.92,136.5 Q177.46,136.92 177,136.5 Q176.54,136.08 176.23,135.72 Q175.93,135.36 175.98,134.81 Q176.03,134.25 176.75,134.08 Q177.46,133.91 178.1,134.14 Q178.75,134.36 179.01,134.86 Z" fill="#e0b0b4" opacity="0.7"/>
<path d="M176.5,135.53 Q176.63,135.93 176.42,136.24 Q176.21,136.56 175.93,136.79 Q175.65,137.02 175.23,136.94 Q174.81,136.86 174.66,136.4 Q174.51,135.93 174.71,135.53 Q174.91,135.12 175.28,134.91 Q175.65,134.71 176.01,134.92 Q176.37,135.13 176.5,135.53 Z" fill="#70101c" opacity="0.7"/>
<path d="M171.81,141.71 Q172.02,142.53 171.72,143.28 Q171.42,144.02 170.49,144.42 Q169.55,144.82 168.68,144.37 Q167.81,143.91 167.58,143.22 Q167.34,142.53 167.44,141.73 Q167.54,140.93 168.55,140.52 Q169.55,140.1 170.58,140.5 Q171.6,140.89 171.81,141.71 Z" fill="#e0b0b4" opacity="0.7"/>
<path d="M182.65,145.97 Q182.93,146.56 182.78,147.27 Q182.63,147.98 181.9,148.03 Q181.16,148.07 180.5,147.96 Q179.84,147.84 179.39,147.2 Q178.94,146.56 179.29,145.81 Q179.64,145.07 180.4,144.8 Q181.16,144.53 181.76,144.96 Q182.37,145.38 182.65,145.97 Z" fill="#70101c" opacity="0.7"/>
<path d="M176.98,139.7 Q177.58,140.12 177.03,140.59 Q176.48,141.06 175.94,141.44 Q175.41,141.82 174.69,141.61 Q173.97,141.39 173.84,140.76 Q173.72,140.12 173.94,139.57 Q174.15,139.02 174.78,138.6 Q175.41,138.18 175.9,138.72 Q176.38,139.27 176.98,139.7 Z" fill="#70101c" opacity="0.7"/>
<path d="M179.76,134.53 Q179.87,135.36 179.78,136.21 Q179.7,137.06 178.8,137.39 Q177.9,137.72 176.94,137.45 Q175.98,137.18 175.7,136.27 Q175.43,135.36 175.74,134.48 Q176.05,133.61 176.97,133.13 Q177.9,132.66 178.78,133.18 Q179.66,133.7 179.76,134.53 Z" fill="#70101c" opacity="0.7"/>
<path d="M176.76,147.58 Q177.34,148.1 176.8,148.66 Q176.25,149.22 175.69,149.88 Q175.14,150.53 174.5,149.96 Q173.86,149.39 173.74,148.74 Q173.62,148.1 173.76,147.49 Q173.91,146.87 174.52,146.56 Q175.14,146.24 175.66,146.65 Q176.18,147.05 176.76,147.58 Z" fill="#e0b0b4" opacity="0.7"/>
<path d="M176.33,139.11 Q176.51,139.56 176.46,140.16 Q176.41,140.75 175.86,141.07 Q175.31,141.39 174.81,141.01 Q174.31,140.63 174.21,140.1 Q174.11,139.56 174.14,138.96 Q174.17,138.35 174.74,138.25 Q175.31,138.15 175.73,138.41 Q176.15,138.66 176.33,139.11 Z" fill="#70101c" opacity="0.7"/>
<path d="M170.98,144.67 Q171.3,145.33 170.89,145.9 Q170.48,146.48 169.89,147.07 Q169.29,147.65 168.65,147.11 Q168.01,146.56 167.61,145.95 Q167.2,145.33 167.44,144.55 Q167.69,143.78 168.49,143.46 Q169.29,143.14 169.97,143.58 Q170.65,144.01 170.98,144.67 Z" fill="#70101c" opacity="0.7"/>
<path d="M174.8,140.78 Q175.21,141.63 174.63,142.31 Q174.05,142.99 173.38,143.33 Q172.72,143.66 172.07,143.32 Q171.41,142.97 171.05,142.3 Q170.68,141.63 171.07,140.99 Q171.46,140.34 172.09,140.17 Q172.72,140 173.55,139.97 Q174.39,139.93 174.8,140.78 Z" fill="#e0b0b4" opacity="0.7"/>
<path d="M174.08,136.01 Q174.26,136.72 174,137.36 Q173.74,138 173.1,138.14 Q172.45,138.28 171.72,138.22 Q170.99,138.16 170.72,137.44 Q170.45,136.72 170.98,136.26 Q171.52,135.8 171.98,135.29 Q172.45,134.78 173.17,135.04 Q173.89,135.3 174.08,136.01 Z" fill="#e0b0b4" opacity="0.7"/>
<path d="M184.1,134.27 Q184.06,135.03 184.14,135.85 Q184.23,136.66 183.57,136.86 Q182.91,137.06 182.44,136.63 Q181.97,136.2 181.83,135.61 Q181.69,135.03 181.86,134.48 Q182.02,133.93 182.47,133.66 Q182.91,133.39 183.52,133.45 Q184.13,133.51 184.1,134.27 Z" fill="#70101c" opacity="0.7"/>
<path d="M175.48,134.59 Q176.03,135.23 175.61,136.01 Q175.2,136.8 174.5,137.22 Q173.81,137.63 173.09,137.24 Q172.38,136.84 171.98,136.04 Q171.58,135.23 171.94,134.37 Q172.3,133.52 173.05,133.14 Q173.81,132.76 174.37,133.36 Q174.92,133.96 175.48,134.59 Z" fill="#70101c" opacity="0.7"/>
</g>
<text x="214.8" y="13" font-size="8.2" fill="#000" font-weight="bold">C</text>
<ellipse cx="239.2" cy="13.2" rx="1.95" ry="2.15" fill="none" stroke="#333333" stroke-width="0.9"/>
<text x="244.8" y="15.2" font-size="6.36" fill="#222" stroke="#222" stroke-width="0.2" textLength="11.78" lengthAdjust="spacingAndGlyphs">CON</text>
<ellipse cx="239.2" cy="19.8" rx="1.95" ry="2.15" fill="none" stroke="#ff5a5a" stroke-width="0.9"/>
<text x="244.8" y="21.8" font-size="6.36" fill="#222" stroke="#222" stroke-width="0.2" textLength="8.54" lengthAdjust="spacingAndGlyphs">IgG</text>
<ellipse cx="239.2" cy="27" rx="1.95" ry="2.15" fill="none" stroke="#2424d8" stroke-width="0.9"/>
<text x="244.8" y="29" font-size="6.36" fill="#222" stroke="#222" stroke-width="0.2" textLength="18.09" lengthAdjust="spacingAndGlyphs">&#945;PD-L1</text>
<ellipse cx="239.2" cy="34.1" rx="1.95" ry="2.15" fill="none" stroke="#ffb58a" stroke-width="0.9"/>
<text x="244.8" y="36.1" font-size="6.36" fill="#222" stroke="#222" stroke-width="0.2" textLength="37.38" lengthAdjust="spacingAndGlyphs">&#945;PD-L1+ CTSLi</text>
<ellipse cx="239.2" cy="40.7" rx="1.95" ry="2.15" fill="none" stroke="#b456f0" stroke-width="0.9"/>
<text x="244.8" y="42.7" font-size="6.36" fill="#222" stroke="#222" stroke-width="0.2" textLength="14.72" lengthAdjust="spacingAndGlyphs">CTSLi</text>
<line x1="285.1" y1="18" x2="285.1" y2="44.4" stroke="#444" stroke-width="0.7"/>
<text x="286.8" y="31.2" font-size="6.04" text-anchor="middle" fill="#222" stroke="#222" stroke-width="0.2" textLength="18.46" lengthAdjust="spacingAndGlyphs" transform="rotate(90 286.8 31.2)">TB mice</text>
<line x1="239.4" y1="53" x2="239.4" y2="134.2" stroke="#555" stroke-width="0.7"/>
<line x1="237.8" y1="53" x2="239.4" y2="53" stroke="#555" stroke-width="0.6"/>
<text x="235.5" y="55.1" font-size="6" text-anchor="end" fill="#333" stroke="#333" stroke-width="0.2" textLength="5.56" lengthAdjust="spacingAndGlyphs">80</text>
<line x1="237.8" y1="73.5" x2="239.4" y2="73.5" stroke="#555" stroke-width="0.6"/>
<text x="235.5" y="75.6" font-size="6" text-anchor="end" fill="#333" stroke="#333" stroke-width="0.2" textLength="5.56" lengthAdjust="spacingAndGlyphs">60</text>
<line x1="237.8" y1="93.8" x2="239.4" y2="93.8" stroke="#555" stroke-width="0.6"/>
<text x="235.5" y="95.9" font-size="6" text-anchor="end" fill="#333" stroke="#333" stroke-width="0.2" textLength="5.56" lengthAdjust="spacingAndGlyphs">40</text>
<line x1="237.8" y1="114.3" x2="239.4" y2="114.3" stroke="#555" stroke-width="0.6"/>
<text x="235.5" y="116.4" font-size="6" text-anchor="end" fill="#333" stroke="#333" stroke-width="0.2" textLength="5.56" lengthAdjust="spacingAndGlyphs">20</text>
<line x1="237.8" y1="134.2" x2="239.4" y2="134.2" stroke="#555" stroke-width="0.6"/>
<text x="235.5" y="136.3" font-size="6" text-anchor="end" fill="#333" stroke="#333" stroke-width="0.2" textLength="2.78" lengthAdjust="spacingAndGlyphs">0</text>
<rect x="244.8" y="133" width="9.2" height="1.2" fill="#97969e"/>
<rect x="259" y="85.4" width="9.6" height="48.8" fill="#ffbcbc"/>
<rect x="273.3" y="98.7" width="9.5" height="35.5" fill="#bcbcff"/>
<rect x="287.5" y="115.2" width="9.5" height="19" fill="#ffdcbe"/>
<rect x="301.8" y="100" width="9.8" height="34.2" fill="#e6bef6"/>
<line x1="249.4" y1="132.2" x2="249.4" y2="133.8" stroke="#a8a8a8" stroke-width="0.7"/>
<line x1="247.2" y1="132.2" x2="251.6" y2="132.2" stroke="#a8a8a8" stroke-width="0.7"/>
<line x1="247.2" y1="133.8" x2="251.6" y2="133.8" stroke="#a8a8a8" stroke-width="0.7"/>
<line x1="263.8" y1="84.53" x2="263.8" y2="86.28" stroke="#f23a40" stroke-width="0.7"/>
<line x1="261.6" y1="84.53" x2="266" y2="84.53" stroke="#f23a40" stroke-width="0.7"/>
<line x1="261.6" y1="86.28" x2="266" y2="86.28" stroke="#f23a40" stroke-width="0.7"/>
<line x1="278.05" y1="97.9" x2="278.05" y2="99.5" stroke="#3a3af0" stroke-width="0.7"/>
<line x1="275.85" y1="97.9" x2="280.25" y2="97.9" stroke="#3a3af0" stroke-width="0.7"/>
<line x1="275.85" y1="99.5" x2="280.25" y2="99.5" stroke="#3a3af0" stroke-width="0.7"/>
<line x1="292.25" y1="114.4" x2="292.25" y2="116" stroke="#ff8f24" stroke-width="0.7"/>
<line x1="290.05" y1="114.4" x2="294.45" y2="114.4" stroke="#ff8f24" stroke-width="0.7"/>
<line x1="290.05" y1="116" x2="294.45" y2="116" stroke="#ff8f24" stroke-width="0.7"/>
<line x1="306.7" y1="99.2" x2="306.7" y2="100.8" stroke="#b048ea" stroke-width="0.7"/>
<line x1="304.5" y1="99.2" x2="308.9" y2="99.2" stroke="#b048ea" stroke-width="0.7"/>
<line x1="304.5" y1="100.8" x2="308.9" y2="100.8" stroke="#b048ea" stroke-width="0.7"/>
<circle cx="263.6" cy="72.3" r="1.35" fill="none" stroke="#f23a40" stroke-width="0.8"/>
<circle cx="259.6" cy="77.7" r="1.35" fill="none" stroke="#f23a40" stroke-width="0.8"/>
<circle cx="264" cy="78.2" r="1.35" fill="none" stroke="#f23a40" stroke-width="0.8"/>
<circle cx="260.1" cy="89.9" r="1.35" fill="none" stroke="#f23a40" stroke-width="0.8"/>
<circle cx="267.4" cy="88.8" r="1.35" fill="none" stroke="#f23a40" stroke-width="0.8"/>
<circle cx="263.6" cy="93.4" r="1.35" fill="none" stroke="#f23a40" stroke-width="0.8"/>
<circle cx="263.6" cy="100" r="1.35" fill="none" stroke="#f23a40" stroke-width="0.8"/>
<circle cx="263.8" cy="84.2" r="1.35" fill="none" stroke="#f23a40" stroke-width="0.8"/>
<circle cx="278.4" cy="91.6" r="1.35" fill="none" stroke="#3a3af0" stroke-width="0.8"/>
<circle cx="282" cy="95" r="1.35" fill="none" stroke="#3a3af0" stroke-width="0.8"/>
<circle cx="274.3" cy="97.5" r="1.35" fill="none" stroke="#3a3af0" stroke-width="0.8"/>
<circle cx="278.4" cy="97" r="1.35" fill="none" stroke="#3a3af0" stroke-width="0.8"/>
<circle cx="282" cy="98.5" r="1.35" fill="none" stroke="#3a3af0" stroke-width="0.8"/>
<circle cx="277.9" cy="100.6" r="1.35" fill="none" stroke="#3a3af0" stroke-width="0.8"/>
<circle cx="274.3" cy="104.1" r="1.35" fill="none" stroke="#3a3af0" stroke-width="0.8"/>
<circle cx="281.7" cy="104.1" r="1.35" fill="none" stroke="#3a3af0" stroke-width="0.8"/>
<circle cx="279.4" cy="99.5" r="1.35" fill="none" stroke="#3a3af0" stroke-width="0.8"/>
<circle cx="292.4" cy="105.4" r="1.35" fill="none" stroke="#ff8f24" stroke-width="0.8"/>
<circle cx="288.6" cy="111.2" r="1.35" fill="none" stroke="#ff8f24" stroke-width="0.8"/>
<circle cx="292.4" cy="111.5" r="1.35" fill="none" stroke="#ff8f24" stroke-width="0.8"/>
<circle cx="296.2" cy="112.6" r="1.35" fill="none" stroke="#ff8f24" stroke-width="0.8"/>
<circle cx="288.6" cy="114.3" r="1.35" fill="none" stroke="#ff8f24" stroke-width="0.8"/>
<circle cx="296.2" cy="115.8" r="1.35" fill="none" stroke="#ff8f24" stroke-width="0.8"/>
<circle cx="288.6" cy="120.9" r="1.35" fill="none" stroke="#ff8f24" stroke-width="0.8"/>
<circle cx="296.2" cy="120.4" r="1.35" fill="none" stroke="#ff8f24" stroke-width="0.8"/>
<circle cx="292.4" cy="114.8" r="1.35" fill="none" stroke="#ff8f24" stroke-width="0.8"/>
<circle cx="303.6" cy="95.7" r="1.2" fill="none" stroke="#b048ea" stroke-width="0.8"/>
<circle cx="306.9" cy="94.7" r="1.2" fill="none" stroke="#b048ea" stroke-width="0.8"/>
<circle cx="309.9" cy="96" r="1.2" fill="none" stroke="#b048ea" stroke-width="0.8"/>
<circle cx="306.9" cy="97.7" r="1.2" fill="none" stroke="#b048ea" stroke-width="0.8"/>
<circle cx="303.6" cy="101" r="1.2" fill="none" stroke="#b048ea" stroke-width="0.8"/>
<circle cx="307.1" cy="101.6" r="1.2" fill="none" stroke="#b048ea" stroke-width="0.8"/>
<circle cx="303.6" cy="106.7" r="1.2" fill="none" stroke="#b048ea" stroke-width="0.8"/>
<circle cx="309.9" cy="105.8" r="1.2" fill="none" stroke="#b048ea" stroke-width="0.8"/>
<line x1="239.4" y1="134.2" x2="317" y2="134.2" stroke="#555" stroke-width="0.8"/>
<text x="244.9" y="63.8" font-size="6.5" fill="#222" stroke="#222" stroke-width="0.2" textLength="22.5" lengthAdjust="spacingAndGlyphs">P&lt;0.0001</text>
<line x1="249.9" y1="65.5" x2="262.8" y2="65.5" stroke="#444" stroke-width="0.6"/>
<text x="280" y="63.8" font-size="6.5" fill="#222" stroke="#222" stroke-width="0.2" textLength="22.1" lengthAdjust="spacingAndGlyphs">P=0.0014</text>
<line x1="266.9" y1="65.5" x2="310.1" y2="65.5" stroke="#444" stroke-width="0.6"/>
<text x="264" y="72.5" font-size="6.5" fill="#222" stroke="#222" stroke-width="0.2" textLength="22.7" lengthAdjust="spacingAndGlyphs">P=0.0027</text>
<line x1="268" y1="73.5" x2="279.7" y2="73.5" stroke="#444" stroke-width="0.6"/>
<text x="272.9" y="90.6" font-size="6.5" fill="#222" stroke="#222" stroke-width="0.2" textLength="20.3" lengthAdjust="spacingAndGlyphs">P&lt;0.0001</text>
<line x1="279.7" y1="92.4" x2="293.2" y2="92.4" stroke="#444" stroke-width="0.6"/>
<text x="294.9" y="90.6" font-size="6.5" fill="#222" stroke="#222" stroke-width="0.2" textLength="22.2" lengthAdjust="spacingAndGlyphs">P=0.0001</text>
<line x1="298.4" y1="92.4" x2="311.3" y2="92.4" stroke="#444" stroke-width="0.6"/>
<text x="220.9" y="94" font-size="7.56" text-anchor="middle" fill="#222" stroke="#222" stroke-width="0.2" textLength="27.5" lengthAdjust="spacingAndGlyphs" transform="rotate(-90 220.9 94)">% of area</text>
<text x="280.5" y="141.8" font-size="7.56" text-anchor="middle" fill="#222" stroke="#222" stroke-width="0.2" textLength="38.9" lengthAdjust="spacingAndGlyphs">Tumor burden</text>
<text x="329.7" y="13" font-size="8.2" fill="#000" font-weight="bold">D</text>
<ellipse cx="361.4" cy="13.2" rx="1.95" ry="2.15" fill="none" stroke="#333333" stroke-width="0.9"/>
<text x="367" y="15.2" font-size="6.36" fill="#222" stroke="#222" stroke-width="0.2" textLength="11.78" lengthAdjust="spacingAndGlyphs">CON</text>
<ellipse cx="361.4" cy="19.8" rx="1.95" ry="2.15" fill="none" stroke="#ff5a5a" stroke-width="0.9"/>
<text x="367" y="21.8" font-size="6.36" fill="#222" stroke="#222" stroke-width="0.2" textLength="8.54" lengthAdjust="spacingAndGlyphs">IgG</text>
<ellipse cx="361.4" cy="27" rx="1.95" ry="2.15" fill="none" stroke="#2424d8" stroke-width="0.9"/>
<text x="367" y="29" font-size="6.36" fill="#222" stroke="#222" stroke-width="0.2" textLength="18.09" lengthAdjust="spacingAndGlyphs">&#945;PD-L1</text>
<ellipse cx="361.4" cy="34.1" rx="1.95" ry="2.15" fill="none" stroke="#ffb58a" stroke-width="0.9"/>
<text x="367" y="36.1" font-size="6.36" fill="#222" stroke="#222" stroke-width="0.2" textLength="37.38" lengthAdjust="spacingAndGlyphs">&#945;PD-L1+ CTSLi</text>
<ellipse cx="361.4" cy="40.7" rx="1.95" ry="2.15" fill="none" stroke="#b456f0" stroke-width="0.9"/>
<text x="367" y="42.7" font-size="6.36" fill="#222" stroke="#222" stroke-width="0.2" textLength="14.72" lengthAdjust="spacingAndGlyphs">CTSLi</text>
<line x1="409.4" y1="18" x2="409.4" y2="44.4" stroke="#444" stroke-width="0.7"/>
<text x="411" y="31.2" font-size="6.04" text-anchor="middle" fill="#222" stroke="#222" stroke-width="0.2" textLength="18.46" lengthAdjust="spacingAndGlyphs" transform="rotate(90 411 31.2)">TB mice</text>
<line x1="363.5" y1="53" x2="363.5" y2="134.2" stroke="#555" stroke-width="0.7"/>
<line x1="361.9" y1="53" x2="363.5" y2="53" stroke="#555" stroke-width="0.6"/>
<text x="359.6" y="55.1" font-size="6" text-anchor="end" fill="#333" stroke="#333" stroke-width="0.2" textLength="5.56" lengthAdjust="spacingAndGlyphs">30</text>
<line x1="361.9" y1="66.4" x2="363.5" y2="66.4" stroke="#555" stroke-width="0.6"/>
<text x="359.6" y="68.5" font-size="6" text-anchor="end" fill="#333" stroke="#333" stroke-width="0.2" textLength="5.56" lengthAdjust="spacingAndGlyphs">20</text>
<line x1="361.9" y1="80.1" x2="363.5" y2="80.1" stroke="#555" stroke-width="0.6"/>
<text x="359.6" y="82.2" font-size="6" text-anchor="end" fill="#333" stroke="#333" stroke-width="0.2" textLength="5.56" lengthAdjust="spacingAndGlyphs">10</text>
<line x1="361.9" y1="93.8" x2="363.5" y2="93.8" stroke="#555" stroke-width="0.6"/>
<text x="359.6" y="95.9" font-size="6" text-anchor="end" fill="#333" stroke="#333" stroke-width="0.2" textLength="2.78" lengthAdjust="spacingAndGlyphs">0</text>
<line x1="361.9" y1="107.2" x2="363.5" y2="107.2" stroke="#555" stroke-width="0.6"/>
<text x="359.6" y="109.3" font-size="6" text-anchor="end" fill="#333" stroke="#333" stroke-width="0.2" textLength="7.23" lengthAdjust="spacingAndGlyphs">-10</text>
<line x1="361.9" y1="120.9" x2="363.5" y2="120.9" stroke="#555" stroke-width="0.6"/>
<text x="359.6" y="123" font-size="6" text-anchor="end" fill="#333" stroke="#333" stroke-width="0.2" textLength="7.23" lengthAdjust="spacingAndGlyphs">-20</text>
<line x1="361.9" y1="134.2" x2="363.5" y2="134.2" stroke="#555" stroke-width="0.6"/>
<text x="359.6" y="136.3" font-size="6" text-anchor="end" fill="#333" stroke="#333" stroke-width="0.2" textLength="7.23" lengthAdjust="spacingAndGlyphs">-30</text>
<line x1="363.5" y1="134.2" x2="439.8" y2="134.2" stroke="#555" stroke-width="0.8"/>
<rect x="367.7" y="65.5" width="9.5" height="28.3" fill="#97969e"/>
<rect x="382" y="93.8" width="9.8" height="2.4" fill="#ffbcbc"/>
<rect x="396.8" y="93.8" width="9.1" height="13.9" fill="#bcbcff"/>
<rect x="410.4" y="84.5" width="9.9" height="9.3" fill="#ffdcbe"/>
<rect x="425.1" y="84.2" width="9.6" height="9.6" fill="#e6bef6"/>
<line x1="372.45" y1="64.7" x2="372.45" y2="66.3" stroke="#a8a8a8" stroke-width="0.7"/>
<line x1="370.25" y1="64.7" x2="374.65" y2="64.7" stroke="#a8a8a8" stroke-width="0.7"/>
<line x1="370.25" y1="66.3" x2="374.65" y2="66.3" stroke="#a8a8a8" stroke-width="0.7"/>
<line x1="386.9" y1="95.33" x2="386.9" y2="97.08" stroke="#f23a40" stroke-width="0.7"/>
<line x1="384.7" y1="95.33" x2="389.1" y2="95.33" stroke="#f23a40" stroke-width="0.7"/>
<line x1="384.7" y1="97.08" x2="389.1" y2="97.08" stroke="#f23a40" stroke-width="0.7"/>
<line x1="401.35" y1="106.65" x2="401.35" y2="108.75" stroke="#3a3af0" stroke-width="0.7"/>
<line x1="399.15" y1="106.65" x2="403.55" y2="106.65" stroke="#3a3af0" stroke-width="0.7"/>
<line x1="399.15" y1="108.75" x2="403.55" y2="108.75" stroke="#3a3af0" stroke-width="0.7"/>
<line x1="415.35" y1="83.62" x2="415.35" y2="85.38" stroke="#ff8f24" stroke-width="0.7"/>
<line x1="413.15" y1="83.62" x2="417.55" y2="83.62" stroke="#ff8f24" stroke-width="0.7"/>
<line x1="413.15" y1="85.38" x2="417.55" y2="85.38" stroke="#ff8f24" stroke-width="0.7"/>
<line x1="429.9" y1="83.33" x2="429.9" y2="85.08" stroke="#b048ea" stroke-width="0.7"/>
<line x1="427.7" y1="83.33" x2="432.1" y2="83.33" stroke="#b048ea" stroke-width="0.7"/>
<line x1="427.7" y1="85.08" x2="432.1" y2="85.08" stroke="#b048ea" stroke-width="0.7"/>
<circle cx="368.5" cy="62" r="1.35" fill="none" stroke="#a8a8a8" stroke-width="0.8"/>
<circle cx="372.5" cy="63.5" r="1.35" fill="none" stroke="#a8a8a8" stroke-width="0.8"/>
<circle cx="376" cy="62.5" r="1.35" fill="none" stroke="#a8a8a8" stroke-width="0.8"/>
<circle cx="368.5" cy="65.5" r="1.35" fill="none" stroke="#a8a8a8" stroke-width="0.8"/>
<circle cx="372.5" cy="66.5" r="1.35" fill="none" stroke="#a8a8a8" stroke-width="0.8"/>
<circle cx="376" cy="65.5" r="1.35" fill="none" stroke="#a8a8a8" stroke-width="0.8"/>
<circle cx="368.5" cy="70.5" r="1.35" fill="none" stroke="#a8a8a8" stroke-width="0.8"/>
<circle cx="376" cy="70.3" r="1.35" fill="none" stroke="#a8a8a8" stroke-width="0.8"/>
<circle cx="386.7" cy="83.7" r="1.35" fill="none" stroke="#f23a40" stroke-width="0.8"/>
<circle cx="386.7" cy="88.7" r="1.35" fill="none" stroke="#f23a40" stroke-width="0.8"/>
<circle cx="386.7" cy="91.7" r="1.35" fill="none" stroke="#f23a40" stroke-width="0.8"/>
<circle cx="386.7" cy="94.4" r="1.35" fill="none" stroke="#f23a40" stroke-width="0.8"/>
<circle cx="386.7" cy="99.3" r="1.35" fill="none" stroke="#f23a40" stroke-width="0.8"/>
<circle cx="383.3" cy="103.3" r="1.35" fill="none" stroke="#f23a40" stroke-width="0.8"/>
<circle cx="390.4" cy="103.6" r="1.35" fill="none" stroke="#f23a40" stroke-width="0.8"/>
<circle cx="386.7" cy="108.6" r="1.35" fill="none" stroke="#f23a40" stroke-width="0.8"/>
<circle cx="397.4" cy="89.2" r="1.35" fill="none" stroke="#3a3af0" stroke-width="0.8"/>
<circle cx="404.7" cy="90.3" r="1.35" fill="none" stroke="#3a3af0" stroke-width="0.8"/>
<circle cx="401.3" cy="103.6" r="1.35" fill="none" stroke="#3a3af0" stroke-width="0.8"/>
<circle cx="397.4" cy="113.4" r="1.35" fill="none" stroke="#3a3af0" stroke-width="0.8"/>
<circle cx="401.3" cy="113.4" r="1.35" fill="none" stroke="#3a3af0" stroke-width="0.8"/>
<circle cx="405" cy="114.8" r="1.35" fill="none" stroke="#3a3af0" stroke-width="0.8"/>
<circle cx="401.3" cy="117" r="1.35" fill="none" stroke="#3a3af0" stroke-width="0.8"/>
<circle cx="401.3" cy="122.8" r="1.35" fill="none" stroke="#3a3af0" stroke-width="0.8"/>
<circle cx="412" cy="73.6" r="1.35" fill="none" stroke="#ff8f24" stroke-width="0.8"/>
<circle cx="419.4" cy="73.8" r="1.35" fill="none" stroke="#ff8f24" stroke-width="0.8"/>
<circle cx="412" cy="81.1" r="1.35" fill="none" stroke="#ff8f24" stroke-width="0.8"/>
<circle cx="419.4" cy="83.4" r="1.35" fill="none" stroke="#ff8f24" stroke-width="0.8"/>
<circle cx="412" cy="85.7" r="1.35" fill="none" stroke="#ff8f24" stroke-width="0.8"/>
<circle cx="415.5" cy="86.6" r="1.35" fill="none" stroke="#ff8f24" stroke-width="0.8"/>
<circle cx="419.4" cy="88.5" r="1.35" fill="none" stroke="#ff8f24" stroke-width="0.8"/>
<circle cx="412" cy="89.8" r="1.35" fill="none" stroke="#ff8f24" stroke-width="0.8"/>
<circle cx="430" cy="73.4" r="1.35" fill="none" stroke="#b048ea" stroke-width="0.8"/>
<circle cx="430" cy="77.7" r="1.35" fill="none" stroke="#b048ea" stroke-width="0.8"/>
<circle cx="426.3" cy="84.4" r="1.35" fill="none" stroke="#b048ea" stroke-width="0.8"/>
<circle cx="433.4" cy="85.3" r="1.35" fill="none" stroke="#b048ea" stroke-width="0.8"/>
<circle cx="430" cy="85.7" r="1.35" fill="none" stroke="#b048ea" stroke-width="0.8"/>
<circle cx="430" cy="93.2" r="1.35" fill="none" stroke="#b048ea" stroke-width="0.8"/>
<circle cx="430" cy="100.2" r="1.35" fill="none" stroke="#b048ea" stroke-width="0.8"/>
<line x1="363.5" y1="93.8" x2="439.8" y2="93.8" stroke="#555" stroke-width="0.8" stroke-dasharray="1.1 0.9"/>
<text x="369.1" y="55.8" font-size="6.5" fill="#222" stroke="#222" stroke-width="0.2" textLength="21" lengthAdjust="spacingAndGlyphs">P&lt;0.0001</text>
<line x1="374.3" y1="56.8" x2="386.6" y2="56.8" stroke="#444" stroke-width="0.6"/>
<text x="400" y="55.8" font-size="6.5" fill="#222" stroke="#222" stroke-width="0.2" textLength="22.2" lengthAdjust="spacingAndGlyphs">P=0.0194</text>
<line x1="390.1" y1="56.8" x2="433.3" y2="56.8" stroke="#444" stroke-width="0.6"/>
<text x="383.9" y="79.3" font-size="6.5" fill="#222" stroke="#222" stroke-width="0.2" textLength="22.6" lengthAdjust="spacingAndGlyphs">P=0.0494</text>
<line x1="390.9" y1="80.5" x2="404.7" y2="80.5" stroke="#444" stroke-width="0.6"/>
<text x="394.8" y="68.8" font-size="6.5" fill="#222" stroke="#222" stroke-width="0.2" textLength="21.6" lengthAdjust="spacingAndGlyphs">P=0.0002</text>
<line x1="400.6" y1="70.2" x2="415.8" y2="70.2" stroke="#444" stroke-width="0.6"/>
<text x="418.1" y="68.8" font-size="6.5" fill="#222" stroke="#222" stroke-width="0.2" textLength="21.7" lengthAdjust="spacingAndGlyphs">P=0.4666</text>
<line x1="420.5" y1="70.2" x2="434.5" y2="70.2" stroke="#444" stroke-width="0.6"/>
<text x="347.2" y="87.7" font-size="7.56" text-anchor="middle" fill="#222" stroke="#222" stroke-width="0.2" textLength="25" lengthAdjust="spacingAndGlyphs" transform="rotate(-90 347.2 87.7)">% of IBW</text>
<text x="401.8" y="141.8" font-size="7.56" text-anchor="middle" fill="#222" stroke="#222" stroke-width="0.2" textLength="32.5" lengthAdjust="spacingAndGlyphs">BW change</text>
<text x="469" y="13" font-size="8.2" fill="#000" font-weight="bold">E</text>
<ellipse cx="505.5" cy="13.2" rx="1.95" ry="2.15" fill="none" stroke="#333333" stroke-width="0.9"/>
<text x="510.9" y="15.2" font-size="6.36" fill="#222" stroke="#222" stroke-width="0.2" textLength="11.78" lengthAdjust="spacingAndGlyphs">CON</text>
<ellipse cx="505.5" cy="19.8" rx="1.95" ry="2.15" fill="none" stroke="#ff5a5a" stroke-width="0.9"/>
<text x="510.9" y="21.8" font-size="6.36" fill="#222" stroke="#222" stroke-width="0.2" textLength="8.54" lengthAdjust="spacingAndGlyphs">IgG</text>
<ellipse cx="505.5" cy="27" rx="1.95" ry="2.15" fill="none" stroke="#2424d8" stroke-width="0.9"/>
<text x="510.9" y="29" font-size="6.36" fill="#222" stroke="#222" stroke-width="0.2" textLength="18.09" lengthAdjust="spacingAndGlyphs">&#945;PD-L1</text>
<ellipse cx="505.5" cy="34.1" rx="1.95" ry="2.15" fill="none" stroke="#ffb58a" stroke-width="0.9"/>
<text x="510.9" y="36.1" font-size="6.36" fill="#222" stroke="#222" stroke-width="0.2" textLength="37.38" lengthAdjust="spacingAndGlyphs">&#945;PD-L1+ CTSLi</text>
<ellipse cx="505.5" cy="40.7" rx="1.95" ry="2.15" fill="none" stroke="#b456f0" stroke-width="0.9"/>
<text x="510.9" y="42.7" font-size="6.36" fill="#222" stroke="#222" stroke-width="0.2" textLength="14.72" lengthAdjust="spacingAndGlyphs">CTSLi</text>
<line x1="553.4" y1="18" x2="553.4" y2="44.4" stroke="#444" stroke-width="0.7"/>
<text x="555.2" y="31.2" font-size="6.04" text-anchor="middle" fill="#222" stroke="#222" stroke-width="0.2" textLength="18.46" lengthAdjust="spacingAndGlyphs" transform="rotate(90 555.2 31.2)">TB mice</text>
<line x1="502.1" y1="53" x2="502.1" y2="132.9" stroke="#555" stroke-width="0.7"/>
<line x1="500.5" y1="53" x2="502.1" y2="53" stroke="#555" stroke-width="0.6"/>
<text x="498.2" y="55.1" font-size="6" text-anchor="end" fill="#333" stroke="#333" stroke-width="0.2" textLength="8.34" lengthAdjust="spacingAndGlyphs">120</text>
<line x1="500.5" y1="72.5" x2="502.1" y2="72.5" stroke="#555" stroke-width="0.6"/>
<text x="498.2" y="74.6" font-size="6" text-anchor="end" fill="#333" stroke="#333" stroke-width="0.2" textLength="8.34" lengthAdjust="spacingAndGlyphs">100</text>
<line x1="500.5" y1="92.4" x2="502.1" y2="92.4" stroke="#555" stroke-width="0.6"/>
<text x="498.2" y="94.5" font-size="6" text-anchor="end" fill="#333" stroke="#333" stroke-width="0.2" textLength="5.56" lengthAdjust="spacingAndGlyphs">80</text>
<line x1="500.5" y1="112.9" x2="502.1" y2="112.9" stroke="#555" stroke-width="0.6"/>
<text x="498.2" y="115" font-size="6" text-anchor="end" fill="#333" stroke="#333" stroke-width="0.2" textLength="5.56" lengthAdjust="spacingAndGlyphs">60</text>
<line x1="500.5" y1="132.9" x2="502.1" y2="132.9" stroke="#555" stroke-width="0.6"/>
<text x="498.2" y="135" font-size="6" text-anchor="end" fill="#333" stroke="#333" stroke-width="0.2" textLength="5.56" lengthAdjust="spacingAndGlyphs">40</text>
<line x1="502.1" y1="133" x2="579.2" y2="133" stroke="#555" stroke-width="0.8"/>
<rect x="507.4" y="70.5" width="9.6" height="62.5" fill="#97969e"/>
<rect x="521.7" y="102" width="9.5" height="31" fill="#ffbcbc"/>
<rect x="536" y="111.5" width="9.8" height="21.5" fill="#bcbcff"/>
<rect x="550.5" y="96.8" width="9.7" height="36.2" fill="#ffdcbe"/>
<rect x="564.7" y="98.4" width="9.7" height="34.6" fill="#e6bef6"/>
<line x1="512.2" y1="69.7" x2="512.2" y2="71.3" stroke="#a8a8a8" stroke-width="0.7"/>
<line x1="510" y1="69.7" x2="514.4" y2="69.7" stroke="#a8a8a8" stroke-width="0.7"/>
<line x1="510" y1="71.3" x2="514.4" y2="71.3" stroke="#a8a8a8" stroke-width="0.7"/>
<line x1="526.45" y1="101.2" x2="526.45" y2="102.8" stroke="#f23a40" stroke-width="0.7"/>
<line x1="524.25" y1="101.2" x2="528.65" y2="101.2" stroke="#f23a40" stroke-width="0.7"/>
<line x1="524.25" y1="102.8" x2="528.65" y2="102.8" stroke="#f23a40" stroke-width="0.7"/>
<line x1="540.9" y1="110.7" x2="540.9" y2="112.3" stroke="#3a3af0" stroke-width="0.7"/>
<line x1="538.7" y1="110.7" x2="543.1" y2="110.7" stroke="#3a3af0" stroke-width="0.7"/>
<line x1="538.7" y1="112.3" x2="543.1" y2="112.3" stroke="#3a3af0" stroke-width="0.7"/>
<line x1="555.35" y1="96" x2="555.35" y2="97.6" stroke="#ff8f24" stroke-width="0.7"/>
<line x1="553.15" y1="96" x2="557.55" y2="96" stroke="#ff8f24" stroke-width="0.7"/>
<line x1="553.15" y1="97.6" x2="557.55" y2="97.6" stroke="#ff8f24" stroke-width="0.7"/>
<line x1="569.55" y1="97.6" x2="569.55" y2="99.2" stroke="#b048ea" stroke-width="0.7"/>
<line x1="567.35" y1="97.6" x2="571.75" y2="97.6" stroke="#b048ea" stroke-width="0.7"/>
<line x1="567.35" y1="99.2" x2="571.75" y2="99.2" stroke="#b048ea" stroke-width="0.7"/>
<circle cx="512.1" cy="63.4" r="1.35" fill="none" stroke="#a8a8a8" stroke-width="0.8"/>
<circle cx="512.1" cy="67.6" r="1.35" fill="none" stroke="#a8a8a8" stroke-width="0.8"/>
<circle cx="508.7" cy="71" r="1.35" fill="none" stroke="#a8a8a8" stroke-width="0.8"/>
<circle cx="512.1" cy="71" r="1.35" fill="none" stroke="#a8a8a8" stroke-width="0.8"/>
<circle cx="515.5" cy="71" r="1.35" fill="none" stroke="#a8a8a8" stroke-width="0.8"/>
<circle cx="512.1" cy="74.7" r="1.35" fill="none" stroke="#a8a8a8" stroke-width="0.8"/>
<circle cx="512.9" cy="78.4" r="1.35" fill="none" stroke="#a8a8a8" stroke-width="0.8"/>
<circle cx="526.6" cy="98.4" r="1.35" fill="none" stroke="#f23a40" stroke-width="0.8"/>
<circle cx="522.7" cy="102.6" r="1.35" fill="none" stroke="#f23a40" stroke-width="0.8"/>
<circle cx="525.5" cy="102.9" r="1.35" fill="none" stroke="#f23a40" stroke-width="0.8"/>
<circle cx="529.7" cy="101.8" r="1.35" fill="none" stroke="#f23a40" stroke-width="0.8"/>
<circle cx="527.6" cy="103.6" r="1.35" fill="none" stroke="#f23a40" stroke-width="0.8"/>
<circle cx="528.7" cy="105.2" r="1.35" fill="none" stroke="#f23a40" stroke-width="0.8"/>
<circle cx="526.6" cy="114.5" r="1.35" fill="none" stroke="#f23a40" stroke-width="0.8"/>
<circle cx="538.4" cy="107.5" r="1.35" fill="none" stroke="#3a3af0" stroke-width="0.8"/>
<circle cx="541.8" cy="107.1" r="1.35" fill="none" stroke="#3a3af0" stroke-width="0.8"/>
<circle cx="544.4" cy="108.9" r="1.35" fill="none" stroke="#3a3af0" stroke-width="0.8"/>
<circle cx="537.6" cy="110.3" r="1.35" fill="none" stroke="#3a3af0" stroke-width="0.8"/>
<circle cx="540.8" cy="111.5" r="1.35" fill="none" stroke="#3a3af0" stroke-width="0.8"/>
<circle cx="539.7" cy="113.6" r="1.35" fill="none" stroke="#3a3af0" stroke-width="0.8"/>
<circle cx="542.3" cy="116.3" r="1.35" fill="none" stroke="#3a3af0" stroke-width="0.8"/>
<circle cx="555.3" cy="88.6" r="1.35" fill="none" stroke="#ff8f24" stroke-width="0.8"/>
<circle cx="557.6" cy="91.5" r="1.35" fill="none" stroke="#ff8f24" stroke-width="0.8"/>
<circle cx="555.3" cy="93.4" r="1.35" fill="none" stroke="#ff8f24" stroke-width="0.8"/>
<circle cx="552.8" cy="95.7" r="1.35" fill="none" stroke="#ff8f24" stroke-width="0.8"/>
<circle cx="551.3" cy="99.7" r="1.35" fill="none" stroke="#ff8f24" stroke-width="0.8"/>
<circle cx="554.4" cy="100" r="1.35" fill="none" stroke="#ff8f24" stroke-width="0.8"/>
<circle cx="558.6" cy="101" r="1.35" fill="none" stroke="#ff8f24" stroke-width="0.8"/>
<circle cx="556.5" cy="100.5" r="1.35" fill="none" stroke="#ff8f24" stroke-width="0.8"/>
<circle cx="569.1" cy="92.1" r="1.35" fill="none" stroke="#b048ea" stroke-width="0.8"/>
<circle cx="571.8" cy="93.6" r="1.35" fill="none" stroke="#b048ea" stroke-width="0.8"/>
<circle cx="567.9" cy="96.3" r="1.35" fill="none" stroke="#b048ea" stroke-width="0.8"/>
<circle cx="566.5" cy="99.1" r="1.35" fill="none" stroke="#b048ea" stroke-width="0.8"/>
<circle cx="569.1" cy="100" r="1.35" fill="none" stroke="#b048ea" stroke-width="0.8"/>
<circle cx="571" cy="101.2" r="1.35" fill="none" stroke="#b048ea" stroke-width="0.8"/>
<circle cx="573.1" cy="102.1" r="1.35" fill="none" stroke="#b048ea" stroke-width="0.8"/>
<text x="504.1" y="56.5" font-size="6.5" fill="#222" stroke="#222" stroke-width="0.2" textLength="21" lengthAdjust="spacingAndGlyphs">P&lt;0.0001</text>
<line x1="507.6" y1="57.5" x2="520.4" y2="57.5" stroke="#444" stroke-width="0.6"/>
<text x="538" y="56.5" font-size="6.5" fill="#222" stroke="#222" stroke-width="0.2" textLength="22.7" lengthAdjust="spacingAndGlyphs">P=0.0068</text>
<line x1="525.7" y1="57.5" x2="568.9" y2="57.5" stroke="#444" stroke-width="0.6"/>
<text x="550" y="77" font-size="6.5" fill="#222" stroke="#222" stroke-width="0.2" textLength="22.2" lengthAdjust="spacingAndGlyphs">P=0.5646</text>
<line x1="557.2" y1="78.3" x2="570" y2="78.3" stroke="#444" stroke-width="0.6"/>
<text x="537.1" y="84.5" font-size="6.5" fill="#222" stroke="#222" stroke-width="0.2" textLength="21.3" lengthAdjust="spacingAndGlyphs">P&lt;0.0001</text>
<line x1="543.2" y1="85.3" x2="554.3" y2="85.3" stroke="#444" stroke-width="0.6"/>
<text x="519.9" y="90.6" font-size="6.5" fill="#222" stroke="#222" stroke-width="0.2" textLength="22.1" lengthAdjust="spacingAndGlyphs">P=0.0034</text>
<line x1="526.3" y1="92.2" x2="539.1" y2="92.2" stroke="#444" stroke-width="0.6"/>
<text x="475.3" y="90.5" font-size="7.56" text-anchor="middle" fill="#222" stroke="#222" stroke-width="0.2" textLength="56" lengthAdjust="spacingAndGlyphs" transform="rotate(-90 475.3 90.5)">Muscle weight / IBW</text>
<text x="485.7" y="90.5" font-size="7.56" text-anchor="middle" fill="#222" stroke="#222" stroke-width="0.2" textLength="38" lengthAdjust="spacingAndGlyphs" transform="rotate(-90 485.7 90.5)">(% of control)</text>
<text x="540.6" y="140.8" font-size="7.56" text-anchor="middle" fill="#222" stroke="#222" stroke-width="0.2" textLength="9.1" lengthAdjust="spacingAndGlyphs">GA</text>
<line x1="593.6" y1="52.7" x2="593.6" y2="132.8" stroke="#555" stroke-width="0.7"/>
<line x1="592" y1="52.7" x2="593.6" y2="52.7" stroke="#555" stroke-width="0.6"/>
<text x="589.7" y="54.8" font-size="6" text-anchor="end" fill="#333" stroke="#333" stroke-width="0.2" textLength="8.34" lengthAdjust="spacingAndGlyphs">120</text>
<line x1="592" y1="72.1" x2="593.6" y2="72.1" stroke="#555" stroke-width="0.6"/>
<text x="589.7" y="74.2" font-size="6" text-anchor="end" fill="#333" stroke="#333" stroke-width="0.2" textLength="8.34" lengthAdjust="spacingAndGlyphs">100</text>
<line x1="592" y1="92.2" x2="593.6" y2="92.2" stroke="#555" stroke-width="0.6"/>
<text x="589.7" y="94.3" font-size="6" text-anchor="end" fill="#333" stroke="#333" stroke-width="0.2" textLength="5.56" lengthAdjust="spacingAndGlyphs">80</text>
<line x1="592" y1="112.3" x2="593.6" y2="112.3" stroke="#555" stroke-width="0.6"/>
<text x="589.7" y="114.4" font-size="6" text-anchor="end" fill="#333" stroke="#333" stroke-width="0.2" textLength="5.56" lengthAdjust="spacingAndGlyphs">60</text>
<line x1="592" y1="132.8" x2="593.6" y2="132.8" stroke="#555" stroke-width="0.6"/>
<text x="589.7" y="134.9" font-size="6" text-anchor="end" fill="#333" stroke="#333" stroke-width="0.2" textLength="5.56" lengthAdjust="spacingAndGlyphs">40</text>
<line x1="593.6" y1="132.8" x2="670.5" y2="132.8" stroke="#555" stroke-width="0.8"/>
<rect x="598.9" y="72" width="9.3" height="60.8" fill="#97969e"/>
<rect x="613.2" y="99.3" width="9.3" height="33.5" fill="#ffbcbc"/>
<rect x="627.2" y="104.3" width="9.7" height="28.5" fill="#bcbcff"/>
<rect x="641.7" y="79.5" width="9.7" height="53.3" fill="#ffdcbe"/>
<rect x="656.1" y="85.7" width="9.7" height="47.1" fill="#e6bef6"/>
<line x1="603.55" y1="71.2" x2="603.55" y2="72.8" stroke="#a8a8a8" stroke-width="0.7"/>
<line x1="601.35" y1="71.2" x2="605.75" y2="71.2" stroke="#a8a8a8" stroke-width="0.7"/>
<line x1="601.35" y1="72.8" x2="605.75" y2="72.8" stroke="#a8a8a8" stroke-width="0.7"/>
<line x1="617.85" y1="98.5" x2="617.85" y2="100.1" stroke="#f23a40" stroke-width="0.7"/>
<line x1="615.65" y1="98.5" x2="620.05" y2="98.5" stroke="#f23a40" stroke-width="0.7"/>
<line x1="615.65" y1="100.1" x2="620.05" y2="100.1" stroke="#f23a40" stroke-width="0.7"/>
<line x1="632.05" y1="103.5" x2="632.05" y2="105.1" stroke="#3a3af0" stroke-width="0.7"/>
<line x1="629.85" y1="103.5" x2="634.25" y2="103.5" stroke="#3a3af0" stroke-width="0.7"/>
<line x1="629.85" y1="105.1" x2="634.25" y2="105.1" stroke="#3a3af0" stroke-width="0.7"/>
<line x1="646.55" y1="78.7" x2="646.55" y2="80.3" stroke="#ff8f24" stroke-width="0.7"/>
<line x1="644.35" y1="78.7" x2="648.75" y2="78.7" stroke="#ff8f24" stroke-width="0.7"/>
<line x1="644.35" y1="80.3" x2="648.75" y2="80.3" stroke="#ff8f24" stroke-width="0.7"/>
<line x1="660.95" y1="84.9" x2="660.95" y2="86.5" stroke="#b048ea" stroke-width="0.7"/>
<line x1="658.75" y1="84.9" x2="663.15" y2="84.9" stroke="#b048ea" stroke-width="0.7"/>
<line x1="658.75" y1="86.5" x2="663.15" y2="86.5" stroke="#b048ea" stroke-width="0.7"/>
<circle cx="599.2" cy="66.1" r="1.35" fill="none" stroke="#a8a8a8" stroke-width="0.8"/>
<circle cx="603" cy="66.1" r="1.35" fill="none" stroke="#a8a8a8" stroke-width="0.8"/>
<circle cx="599.2" cy="68.9" r="1.35" fill="none" stroke="#a8a8a8" stroke-width="0.8"/>
<circle cx="603" cy="68.9" r="1.35" fill="none" stroke="#a8a8a8" stroke-width="0.8"/>
<circle cx="603" cy="74.5" r="1.35" fill="none" stroke="#a8a8a8" stroke-width="0.8"/>
<circle cx="603" cy="80.1" r="1.35" fill="none" stroke="#a8a8a8" stroke-width="0.8"/>
<circle cx="603" cy="90.3" r="1.35" fill="none" stroke="#a8a8a8" stroke-width="0.8"/>
<circle cx="614.1" cy="92.2" r="1.35" fill="none" stroke="#f23a40" stroke-width="0.8"/>
<circle cx="618.8" cy="93.1" r="1.35" fill="none" stroke="#f23a40" stroke-width="0.8"/>
<circle cx="621.6" cy="92.2" r="1.35" fill="none" stroke="#f23a40" stroke-width="0.8"/>
<circle cx="613.8" cy="95.9" r="1.35" fill="none" stroke="#f23a40" stroke-width="0.8"/>
<circle cx="617.9" cy="97.8" r="1.35" fill="none" stroke="#f23a40" stroke-width="0.8"/>
<circle cx="621.6" cy="99.3" r="1.35" fill="none" stroke="#f23a40" stroke-width="0.8"/>
<circle cx="614.1" cy="105.2" r="1.35" fill="none" stroke="#f23a40" stroke-width="0.8"/>
<circle cx="618.3" cy="104.9" r="1.35" fill="none" stroke="#f23a40" stroke-width="0.8"/>
<circle cx="621.6" cy="104.3" r="1.35" fill="none" stroke="#f23a40" stroke-width="0.8"/>
<circle cx="628.1" cy="99.3" r="1.35" fill="none" stroke="#3a3af0" stroke-width="0.8"/>
<circle cx="633.2" cy="99.3" r="1.35" fill="none" stroke="#3a3af0" stroke-width="0.8"/>
<circle cx="635.6" cy="102.5" r="1.35" fill="none" stroke="#3a3af0" stroke-width="0.8"/>
<circle cx="629.1" cy="104.3" r="1.35" fill="none" stroke="#3a3af0" stroke-width="0.8"/>
<circle cx="632.8" cy="106.2" r="1.35" fill="none" stroke="#3a3af0" stroke-width="0.8"/>
<circle cx="635.6" cy="106.2" r="1.35" fill="none" stroke="#3a3af0" stroke-width="0.8"/>
<circle cx="628.7" cy="111.2" r="1.35" fill="none" stroke="#3a3af0" stroke-width="0.8"/>
<circle cx="635.6" cy="110.5" r="1.35" fill="none" stroke="#3a3af0" stroke-width="0.8"/>
<circle cx="642.5" cy="74.1" r="1.35" fill="none" stroke="#ff8f24" stroke-width="0.8"/>
<circle cx="646.8" cy="75.4" r="1.35" fill="none" stroke="#ff8f24" stroke-width="0.8"/>
<circle cx="642.5" cy="79.2" r="1.35" fill="none" stroke="#ff8f24" stroke-width="0.8"/>
<circle cx="646.8" cy="80.1" r="1.35" fill="none" stroke="#ff8f24" stroke-width="0.8"/>
<circle cx="650.5" cy="80.1" r="1.35" fill="none" stroke="#ff8f24" stroke-width="0.8"/>
<circle cx="643" cy="83.3" r="1.35" fill="none" stroke="#ff8f24" stroke-width="0.8"/>
<circle cx="649.6" cy="82.9" r="1.35" fill="none" stroke="#ff8f24" stroke-width="0.8"/>
<circle cx="646.8" cy="89.4" r="1.35" fill="none" stroke="#ff8f24" stroke-width="0.8"/>
<circle cx="657" cy="74.1" r="1.35" fill="none" stroke="#b048ea" stroke-width="0.8"/>
<circle cx="661.7" cy="76.4" r="1.35" fill="none" stroke="#b048ea" stroke-width="0.8"/>
<circle cx="660.8" cy="82" r="1.35" fill="none" stroke="#b048ea" stroke-width="0.8"/>
<circle cx="660.8" cy="84.7" r="1.35" fill="none" stroke="#b048ea" stroke-width="0.8"/>
<circle cx="657" cy="89.4" r="1.35" fill="none" stroke="#b048ea" stroke-width="0.8"/>
<circle cx="661.1" cy="89.4" r="1.35" fill="none" stroke="#b048ea" stroke-width="0.8"/>
<circle cx="664.5" cy="90" r="1.35" fill="none" stroke="#b048ea" stroke-width="0.8"/>
<circle cx="660.8" cy="97.8" r="1.35" fill="none" stroke="#b048ea" stroke-width="0.8"/>
<text x="599.7" y="51" font-size="6.5" fill="#222" stroke="#222" stroke-width="0.2" textLength="21.6" lengthAdjust="spacingAndGlyphs">P&lt;0.0001</text>
<line x1="603.2" y1="51.4" x2="617.2" y2="51.4" stroke="#444" stroke-width="0.6"/>
<text x="634.1" y="51" font-size="6.5" fill="#222" stroke="#222" stroke-width="0.2" textLength="21.9" lengthAdjust="spacingAndGlyphs">P=0.0015</text>
<line x1="621.9" y1="51.4" x2="665.1" y2="51.4" stroke="#444" stroke-width="0.6"/>
<text x="645.8" y="63" font-size="6.5" fill="#222" stroke="#222" stroke-width="0.2" textLength="22.2" lengthAdjust="spacingAndGlyphs">P=0.1411</text>
<line x1="652.8" y1="63.9" x2="666.2" y2="63.9" stroke="#444" stroke-width="0.6"/>
<text x="633" y="70.6" font-size="6.5" fill="#222" stroke="#222" stroke-width="0.2" textLength="21.6" lengthAdjust="spacingAndGlyphs">P&lt;0.0001</text>
<line x1="637" y1="71.8" x2="650.5" y2="71.8" stroke="#444" stroke-width="0.6"/>
<text x="616" y="87" font-size="6.5" fill="#222" stroke="#222" stroke-width="0.2" textLength="22.2" lengthAdjust="spacingAndGlyphs">P=0.0270</text>
<line x1="622.4" y1="88.1" x2="634.7" y2="88.1" stroke="#444" stroke-width="0.6"/>
<circle cx="603.2" cy="53.1" r="1.4" fill="none" stroke="#a8a8a8" stroke-width="0.8"/>
<text x="631" y="141.6" font-size="7.56" text-anchor="middle" fill="#222" stroke="#222" stroke-width="0.2" textLength="7.58" lengthAdjust="spacingAndGlyphs">TA</text>
<text x="10.5" y="165.2" font-size="8.2" fill="#000" font-weight="bold">F</text>
<text x="184.4" y="166.8" font-size="7.56" text-anchor="middle" fill="#222" stroke="#222" stroke-width="0.2" textLength="22.5" lengthAdjust="spacingAndGlyphs">TB mice</text>
<line x1="75.9" y1="169.4" x2="293.5" y2="169.4" stroke="#555" stroke-width="0.8"/>
<text x="45.6" y="177.7" font-size="7.56" text-anchor="middle" fill="#222" stroke="#222" stroke-width="0.2" textLength="14.4" lengthAdjust="spacingAndGlyphs">CON</text>
<text x="101" y="177.7" font-size="7.56" text-anchor="middle" fill="#222" stroke="#222" stroke-width="0.2" textLength="10.5" lengthAdjust="spacingAndGlyphs">IgG</text>
<text x="156.8" y="177.7" font-size="7.56" text-anchor="middle" fill="#222" stroke="#222" stroke-width="0.2" textLength="21.8" lengthAdjust="spacingAndGlyphs">&#945;PD-L1</text>
<text x="214" y="177.7" font-size="7.56" text-anchor="middle" fill="#222" stroke="#222" stroke-width="0.2" textLength="44.5" lengthAdjust="spacingAndGlyphs">&#945;PD-L1+ CTSLi</text>
<text x="268.4" y="177.7" font-size="7.56" text-anchor="middle" fill="#222" stroke="#222" stroke-width="0.2" textLength="17.5" lengthAdjust="spacingAndGlyphs">CTSLi</text>
<text x="16.2" y="208.5" font-size="7.56" text-anchor="middle" fill="#222" stroke="#222" stroke-width="0.2" textLength="13.2" lengthAdjust="spacingAndGlyphs" transform="rotate(-90 16.2 208.5)">H&amp;E</text>
<text x="6.6" y="264.5" font-size="7.56" text-anchor="middle" fill="#222" stroke="#222" stroke-width="0.2" textLength="22" lengthAdjust="spacingAndGlyphs" transform="rotate(-90 6.6 264.5)">Masson</text>
<text x="16.3" y="264.6" font-size="7.56" text-anchor="middle" fill="#222" stroke="#222" stroke-width="0.2" textLength="28" lengthAdjust="spacingAndGlyphs" transform="rotate(-90 16.3 264.6)">Trichrome</text>
<g clip-path="url(#clipHE0)"><g filter="url(#soft2)">
<rect x="15.9" y="178.2" width="58.2" height="58.3" fill="#d884d4"/>
<path d="M30.3,196.4 32.4,195.2 33.6,194 33.9,192.8 33.2,191.6 31.2,190.4 29.5,190.1 28,190.9 27.1,192.5 27,195 27.5,196.5 28.6,196.8Z M62.5,212.4 64.1,211.4 65.9,211.8 67.8,213.3 68.2,215.1 66.9,217.1 65.3,217.9 63.4,217.5 62.3,216.2 61.9,214Z M42.7,219.6 43.7,220.7 43.9,222.8 43.3,225.7 42.2,227.3 40.8,227.8 39.1,227.5 37.2,226.4 36.7,224.3 37.4,221.2 38.9,219.5 41.1,219.1Z M56.1,214.2 55.8,216.1 56.4,217.6 58,218.6 59.6,218.6 61,217.7 61.5,216.2 61.2,214.2 60.4,212.9 59.3,212.3 58.1,212.3 56.9,212.9Z M43.3,185.1 45.8,185.9 47.2,187.6 47.6,190.1 47.5,191.7 46.9,192.2 45.4,192.6 42.8,192.9 40.8,192.4 39.2,191 38.6,189.6 38.9,188.2 39.8,186.8 41.3,185.4Z M53.2,204.6 51.7,202.7 50.9,201.7 50.9,201.7 49.9,202.9 48.1,205.1 47.9,207.2 49.2,209 50.3,209.8 51.2,209.7 52.3,208.6 53.4,206.6Z M69.5,203.3 69.4,205 70,206.5 71.4,207.8 73.3,208.3 75.7,208 76.9,206.5 76.9,203.8 75.6,202.1 73,201.4 71.2,201.4 70.2,202.1Z M34.5,214.2 35.7,212.4 35.9,210.7 35.3,208.9 34.1,207.7 32.3,207 31.1,207.8 30.3,210.3 30.6,212.4 32.1,214.2 33.1,215.1 33.7,215.1Z M56.8,204.3 58.1,202.6 58.6,201.1 58.1,200.1 56.8,199.4 54.5,199.2 52.8,199.7 51.7,200.9 52,202.4 53.6,204.4 54.8,205.3 55.7,205.3Z M34.7,217.3 36.2,218.8 36.6,221 35.8,223.9 34.8,225.6 33.5,225.8 32.9,226 32.9,226 32.2,224.8 30.8,222.4 30.3,220.6 30.6,219.1 31.3,217.9 32.3,217 33.1,216.6 33.7,216.6Z M30.4,196.8 32.6,195.6 34.6,196.1 36.1,198.4 35.6,200.3 33,201.7 31.1,201.1 29.9,198.7Z M67.6,195.4 66.2,196.5 65.6,197.9 65.9,199.3 66.8,200.5 68.5,201.4 69.8,201.5 70.8,200.9 71.3,199.6 71.2,197.7 70.5,196.2 69,195.3Z M39.6,236.5 40.1,231.4 41,228.6 42.5,228.1 44.2,228.3 46.3,229.1 47.5,230.2 48,231.6 47.3,233.9 45.6,237.3 43.4,239 40.7,239Z M60.1,198.2 62.8,197.3 64.3,196.9 64.6,197 65,197.9 65.2,199.4 64.6,200.8 63.1,202.1 61.6,202.4 60,201.8 59,201 58.6,199.9 58.5,199.2 58.6,198.8Z M21.5,196.9 19.1,193.8 16.6,192.2 14.3,191.9 13.1,194 13.1,198.4 14.2,201 16.3,201.7 17.6,202.1 18.1,202 19.3,201.4 21.4,200.1 22.5,199.2 22.7,198.7Z M59.9,207.4 61.8,206.4 62.6,205.3 62.3,203.9 61.4,202.9 59.9,202.3 58.5,202.8 57.2,204.6 57.2,206 58.3,207.3Z M18.1,202.8 17.7,202.9 17.2,204.6 16.5,207.9 16.7,209.7 17.7,210 18.9,209.6 20.3,208.6 20.3,206.7 19,204.1Z M54.6,237.9 54.1,235 52.5,233.2 49.9,232.6 47.7,234.1 45.9,237.6 47.4,239.4 52.4,239.4Z M59.2,220.9 59.3,222.7 60.8,224.2 63.7,225.4 65.9,225.2 67.4,223.5 67.6,221.6 66.7,219.5 65.3,218.3 63.3,217.9 61.6,218.3 59.9,219.4Z M54.9,211.8 53.1,210.4 52.7,208.8 53.9,206.9 54.9,205.9 55.8,205.8 56.8,206.4 58,207.7 58.5,209 58.5,210.4 57.8,211.5 56.5,212.2Z M62.8,190.4 62.3,190.9 62,191.6 61.9,192.3 62.4,193.6 63.7,195.3 64.5,196.2 64.8,196.3 65.7,195.8 67.1,194.7 67.8,193.7 67.8,192.9 67.1,191.9 65.8,190.7 64.6,190.1 63.5,190.1Z M58.5,197.6 58.4,195.7 59,194.3 60.6,193.3 62,193.7 63.5,195.7 62.8,197.1 60,198.1Z M74.5,222.4 70.7,222.2 68.3,221.2 67.5,219.3 67.6,217.4 68.8,215.5 69.5,214.5 69.8,214.4 71.5,215.2 74.8,216.9 76.4,218.9 76.4,221.3Z M23.7,209.4 24.7,211 24.8,212.5 24.1,213.8 22.8,214.4 20.8,214.3 19.5,213.4 18.8,211.6 19.2,210.2 20.7,209.1 21.9,208.5 22.8,208.6Z M64.4,180.3 63.7,177.9 63.4,176.4 63.5,175.8 66.8,175.4 73.4,175.4 76.7,176.4 76.7,178.5 75.1,180.7 71.7,183 69.6,184.1 68.6,184 67.3,183.4 65.6,182.1Z M33.1,201.9 35.7,200.5 37.3,199.8 37.8,200 38.2,201.2 38.5,203.6 37.8,205.4 36.2,206.7 34.3,206.9 32.3,206.1 31.2,205.6 31.1,205.4 31.2,204.6 31.6,203.2Z M24.1,226.8 22.9,228.2 21.2,228.4 19.1,227.4 18.5,225.4 19.5,222.5 20.7,220.9 22.3,220.8 23.6,221.2 24.4,222.1 24.8,223.5 24.8,225.2Z M52.8,182.1 54.2,182.7 56.8,181.5 60.7,178.4 62.6,176.5 62.7,175.8 59.8,175.5 53.8,175.5 51.2,177 51.8,180.2Z M31.4,184.2 31.9,183.8 33.6,184.5 36.6,186.4 37.9,188.1 37.6,189.4 36.7,190.4 35.3,191.1 33.6,190.9 31.7,189.7 30.8,187.9 31,185.6Z M45.2,214.3 46.9,213.9 48.6,214.9 50.2,217.3 50.7,218.9 50.1,219.9 48.5,220.5 46.1,220.6 44.4,220.1 43.4,219 43.2,217.4 43.9,215.4Z M52.5,182.6 54,183.2 55,184 55.6,184.8 55.9,186.2 55.9,188.2 55.3,189.9 54.3,191.4 53.5,192.2 52.8,192.5 51.4,192.4 49.4,191.8 48.1,190.1 47.7,187.4 48.6,185.1 50.7,183.2Z M21.7,237.4 23,233.9 25.3,232.3 28.5,232.6 30.8,234.3 32.2,237.5 29.9,239.1 24,239.1Z M62,189.7 61.5,190.2 60.1,190.1 57.7,189.4 56.5,188.2 56.5,186.5 57.6,185.7 59.8,185.8 61.2,186.8 61.9,188.6Z M60.1,190.5 57.4,189.7 55.5,190.1 54.5,191.5 55.1,192.8 57.2,194 59,194.1 60.5,193.2 61.3,192.2 61.4,191.4Z M25.6,205.9 24.3,207.5 24.2,209.1 25.1,210.7 26.5,211.5 28.3,211.3 29.6,209.9 30.4,207.3 30.8,205.8 30.7,205.7 29.5,205.5 27.3,205.3Z M75.7,201.8 73.1,201.1 71.8,199.7 71.7,197.6 73,195.9 75.7,194.7 77,196.1 77,200.1Z M55.1,214 54.7,215.9 53.8,217.1 52.3,217.5 50.8,216.6 49.3,214.4 48.9,212.7 49.7,211.4 50.5,210.7 51.4,210.5 52.7,211.1 54.4,212.4Z M55.8,227.8 56.1,229.6 55.6,231.1 54.4,232.3 52.6,232.7 50.2,232.2 48.8,231.3 48.3,230 49,228.5 50.9,226.7 52.8,226 54.7,226.6Z M41.6,179.8 42.8,177 41.7,175.7 38.3,175.7 36.6,176.6 36.7,178.4 37.8,179.8 40,180.8Z M24,189.1 25.9,190.2 27.6,190.4 29.2,189.6 30.1,187.9 30.3,185.4 28.7,183.9 25.1,183.6 23.3,184.7 23.1,187.2Z M21.6,200.7 19.7,201.9 19.4,203.8 20.8,206.5 21.9,207.9 22.8,208 23.8,207.2 25.1,205.6 24.9,203.7 23.4,201.3Z M43.7,184.1 46,184.8 48.1,184.4 49.9,182.7 50.6,180.4 50,177.5 48.4,176.1 45.8,176.1 43.9,177.5 42.7,180.3 42.2,182.2 42.5,183.2Z M62.9,203.8 63.2,205.2 63.9,206.2 64.8,206.8 66.1,206.8 67.8,206.1 68.8,204.9 68.9,203.3 68.2,202.1 66.5,201.2 64.9,201.3 63.5,202.5Z M75.3,229.4 72.7,230.8 70.4,231.4 68.6,231.1 67.2,230.5 66.3,229.6 65.8,228.5 65.7,227.1 66.4,225.5 67.8,223.8 70.6,223.1 74.6,223.3 76.7,224.7 76.7,227.4Z" fill="#e046b8" stroke="#e046b8" stroke-width="0.5" stroke-linejoin="round"/>
<path d="M18.1,225 18.9,222.4 18.8,220.4 17.7,219.2 16.2,218.5 14.3,218.6 13.3,220.7 13.3,225 14.4,227 16.6,226.6Z M50.3,226.1 48.5,227.9 46.6,228.4 44.6,227.6 44,225.8 44.6,222.9 46.2,221.5 48.6,221.3 50.2,222.2 50.9,224.2Z M22.4,177.2 22.2,180.5 19.9,182.5 15.5,183.3 13.4,181.7 13.4,177.6 15.6,175.6 20.2,175.6Z M44.6,199.7 45.9,199.1 46.6,197.4 46.6,194.6 45.4,193.3 42.9,193.6 41.4,194.9 40.9,197.4 41.4,198.9 43.1,199.6Z M31.8,216.2 30.7,217.2 28.9,217.4 26.3,216.9 24.8,216.2 24.4,215.2 24.6,214.1 25.3,212.8 26.5,212 28.3,211.9 29.9,212.8 31.5,214.7Z M24,215.4 24.4,216.4 24.2,217.8 23.5,219.5 22.3,220.5 20.7,220.6 19.3,220 18.1,218.6 18.1,217.1 19.2,215.5 20.8,214.7 22.7,214.9Z M38.1,211.3 40.4,211.2 41.8,210.1 42.3,207.8 41.6,206.3 39.8,205.6 38,205.8 36.5,206.9 36,208.5 36.7,210.4Z M42.7,207.9 42.2,210.2 42.5,212 43.5,213.2 45,213.6 46.8,213.3 48.2,212.4 49.1,210.9 48.9,209.3 47.6,207.4 46.2,206.4 44.8,206.2 43.8,206.2 43.3,206.5Z M59.9,185.2 57.5,185 56,184.6 55.4,183.7 57.1,181.8 60.9,178.6 63.2,178.2 63.8,180.4 63.4,182.5 61.8,184.3Z M58.7,220.9 58.8,222.7 58.2,224.3 56.7,225.7 55,226 52.9,225.4 51.5,224 50.7,221.9 50.7,220.3 51.3,219.2 52.5,218.4 54.2,217.9 55.9,218.2 57.8,219.4Z M23.5,182.8 23.2,182.4 23.2,180.6 23.3,177.4 24.7,175.8 27.3,175.8 29.3,177.5 30.7,180.9 31.4,182.6 31.4,182.6 31.1,182.9 30.5,183.4 28.6,183.4 25.3,183.1Z M16,202.5 14.1,201.9 13.2,203.7 13.2,207.8 13.8,209.7 15,209.5 16,207.8 16.7,204.5Z M71.5,188.3 70.7,185.7 72,183.3 75.3,180.9 77,182.6 77,188.2 75.7,190.6 73.2,189.9Z M39,199.9 39.9,199.4 41.2,199.5 42.9,200.2 43.7,201.8 43.8,204.3 43.5,205.7 43,206 41.8,205.8 40,205.1 38.9,203.6 38.6,201.3Z M40.6,184.8 39.2,186.2 37,185.9 34,183.9 32.5,182.9 32.5,182.9 33.4,182.1 35.3,180.7 37.4,180.5 39.7,181.5 41,182.5 41.2,183.6Z M60.8,237.3 60.4,234.2 59.4,232.3 57.7,231.6 56.2,231.9 55,233 54.7,234.9 55.1,237.6 56.8,238.9 59.6,238.9Z M75.8,208.3 73.4,208.7 71.6,210.1 70.4,212.5 71.6,214.7 75.2,216.5 77,215.1 77,210.5Z M24.8,221.7 24,220.9 24,219.7 24.7,218.1 26.2,217.5 28.6,217.9 29.6,218.9 29.3,220.4 28.2,221.3 26.2,221.9Z M36.7,227.3 38.6,228.4 39.3,231.4 38.9,236.3 37.5,238.7 35.1,238.7 33.1,237.1 31.7,233.9 31.6,231.1 32.6,228.6 33.8,227.2 35.1,226.9Z M56.6,227.6 56.9,229.5 57.9,230.8 59.8,231.6 61.8,231.3 64.1,229.9 65.1,228.5 65,227.1 63.5,225.9 60.6,224.7 58.5,224.7 57.1,226Z M24.6,227.1 23.5,228.4 23.1,229.6 23.6,230.8 25.4,231.6 28.6,231.8 30.7,230.7 31.8,228.3 32.2,227 32.2,227 30.4,226.8 26.9,226.6Z M66.2,190.2 67.6,191.5 69.2,191.5 70.7,190.2 71.2,188.3 70.4,185.9 69.5,184.6 68.6,184.6 67.5,185.8 66.1,188.3Z M58.2,197.5 58,195.7 57,194.3 55,193.2 53.7,192.7 53.1,193 52.9,194.5 53.3,197.2 54.6,198.7 56.8,198.9 58,198.8 58.2,198.5Z M35.7,216.4 37.1,217.8 38.8,218.4 40.9,218.1 42.2,217 42.9,215.1 42.8,213.7 41.9,212.6 40.4,212.1 38.3,212.1 36.7,213.1 35.5,214.8Z M44.9,205.8 46.2,206 47.8,205 49.7,202.6 49.7,200.9 47.8,199.8 46.2,199.5 44.8,200.1 44.1,201.8 44.1,204.4Z M66.2,207.3 68.1,206.4 69.8,206.7 71.3,208.1 71.4,210 70.2,212.5 69.5,213.7 69.2,213.8 68,213.1 66,211.5 65.1,209.9 65.2,208.4Z M29.3,199 30.4,201.2 30.7,202.8 30.4,204 29.3,204.5 27.3,204.3 25.5,203.1 24.1,200.8 23.4,199.5 23.6,199 24.4,198.4 25.9,197.6 27.2,197.4 28.2,197.8Z M36.5,198 35.1,195.9 34.5,194.3 34.9,193.1 35.8,192.2 37.2,191.5 38.7,191.8 40.1,193.1 40.6,194.8 40.1,197.2 39.4,198.6 38.6,199 37.9,199.2 37.4,199.1Z M26.4,195.1 26.6,192.4 25.7,190.5 23.9,189.4 21.7,189.6 19.3,191.2 19.3,193.6 21.8,196.6 23.9,197.7 25.5,196.9Z M49.3,192.3 51.3,192.8 52.4,194.5 52.8,197.3 52.4,199.3 51.4,200.5 50.8,201.1 50.8,201.1 49.9,200.5 48,199.4 47.1,197.4 47.2,194.5 47.5,192.8 48,192.2Z M69.4,194.7 70.9,195.7 72.9,195.6 75.5,194.4 76.7,193.2 76.7,191.9 75.5,190.9 73.1,190.3 71,190.6 69.4,191.9 68.6,192.9 68.6,193.8Z M64.3,230.6 62.2,231.9 61.3,234.1 61.7,237.2 62.7,238.8 64.4,238.8 65.7,237 66.6,233.4 66.6,231.2 65.8,230.4Z M21.1,189 19,190.5 16.9,191.1 14.9,190.8 13.8,189.2 13.8,186.1 15.9,184.3 19.9,183.5 22.1,183.3 22.3,183.6 22.4,184.9 22.3,187.2Z M75.5,230.1 73,231.5 71.8,233.9 72.1,237.3 73.4,239 75.7,239 76.8,236.6 76.8,231.8Z M62.7,188.3 62,186.5 62.3,184.7 63.8,183 65.2,182.8 66.8,183.9 66.9,185.7 65.7,188 64.5,189.1 63.5,189.2Z M59.8,211.4 61,211.9 62.3,211.8 63.7,211 64.5,209.9 64.6,208.5 64.2,207.6 63.3,206.9 62,207.1 60.2,208 59.3,209.1 59.2,210.4Z M14.6,228.2 16.8,227.8 18.9,228.1 20.8,229 22.1,230.1 22.5,231.3 22.1,233.6 20.7,237 18.4,238.7 15.1,238.7 13.5,236.1 13.5,231Z M18.4,211.8 19.1,213.5 18.9,215.2 17.8,216.9 16.2,217.7 14.1,217.7 13.1,216 13.1,212.5 13.8,210.6 15.2,210.4 16.4,210.4 17.5,210.8Z M26.9,226.1 30.5,226.3 31.6,225.3 30.2,222.8 28.4,221.9 26.3,222.4 25.3,223.5 25.2,225.1Z M67.3,233.6 66.4,237.1 67.4,238.9 70.2,238.9 71.4,237.2 71.1,234 70.2,232.3 68.6,232Z M31.4,180.5 30,177.2 30.9,175.6 34.1,175.6 35.7,176.6 35.7,178.5 34.8,180.1 33,181.5Z" fill="#da42b4" stroke="#da42b4" stroke-width="0.5" stroke-linejoin="round"/>
<circle cx="66.89" cy="218.26" r="0.45" fill="#7040b0"/>
<circle cx="33.86" cy="197.81" r="0.45" fill="#7040b0"/>
<circle cx="24.58" cy="193.37" r="0.45" fill="#7040b0"/>
<circle cx="50.67" cy="219.89" r="0.45" fill="#7040b0"/>
<circle cx="33.94" cy="198.89" r="0.45" fill="#7040b0"/>
<circle cx="61.42" cy="232.25" r="0.45" fill="#7040b0"/>
<circle cx="22.49" cy="184.07" r="0.45" fill="#7040b0"/>
<circle cx="59.05" cy="207.12" r="0.45" fill="#7040b0"/>
<circle cx="40.94" cy="214.6" r="0.45" fill="#7040b0"/>
<circle cx="59.11" cy="183.99" r="0.45" fill="#7040b0"/>
<circle cx="70.03" cy="232.22" r="0.45" fill="#7040b0"/>
<circle cx="40.48" cy="205.7" r="0.45" fill="#7040b0"/>
<circle cx="32.66" cy="212.1" r="0.45" fill="#7040b0"/>
<circle cx="29.02" cy="209.23" r="0.45" fill="#7040b0"/>
</g></g>
<g clip-path="url(#clipHE1)"><g filter="url(#soft2)">
<rect x="71.8" y="178.2" width="58.2" height="58.3" fill="#f0d8f0"/>
<path d="M98.3,180 96.8,177.1 98.7,175.6 103.8,175.6 106.3,176.5 106.2,178.2 104.4,179.6 100.8,180.8Z M115.4,181.9 116.5,180.8 118.4,181.3 121,183.4 121.7,185.8 120.3,188.4 118.4,189.1 116.2,187.9 115,186.1 114.9,183.7Z M81.7,219 83.1,220.5 83.6,222.8 83.2,225.9 81,227 77,226.1 75.7,223.9 76.9,220.3 78.4,218.5 80.1,218.4Z M95.9,213.8 97.6,212.7 99.1,212.8 100.5,214 100.7,215.9 99.7,218.4 98.6,219.4 97.3,218.9 96.2,217.6 95.4,215.4Z M99.4,198.3 98.4,196.3 97.4,195.2 96.3,194.9 94.9,195.7 93.2,197.6 93.2,199.6 94.8,201.8 96.4,202.4 98.2,201.5 99.3,200.6 99.7,199.7Z M118.9,212.9 119.3,210 119.3,208.3 119,208 117.7,207.7 115.4,207.6 113.9,208.9 113.2,211.9 113.8,213.8 115.6,214.8 117.1,215 118.2,214.6Z M106.2,185.6 103.8,187 102.8,188.3 103.1,189.6 104.9,190.4 108.2,190.8 110,190.5 110.4,189.6 109.8,188.1 108.2,185.9Z M108.1,180.8 107.5,179.7 107.3,178.2 107.5,176.4 109.9,175.4 114.7,175.4 117,176.5 116.8,178.7 116.1,180.3 115,181.5 112.9,181.9 109.9,181.6Z M124.5,196.1 126.4,196.9 127.6,198.3 128.1,200.2 127.8,201.7 126.7,202.7 125.1,202.9 122.8,202.2 121.5,201.4 121.2,200.7 121.7,199.1 122.9,196.9Z M108.9,204.6 110.8,204.6 112.1,205.3 113,206.4 113,208.6 112.3,211.7 111,213.7 109.3,214.3 108,214.3 107.2,213.8 106.4,211.8 105.5,208.5 105.1,206.8 105.1,206.8 105.8,206.2 107.2,205.1Z M70.9,196.8 73.7,196.9 76.2,195.4 78.3,192.4 78.8,189.7 77.5,187.3 75.1,186 71.4,185.8 69.5,188.5 69.5,194Z M98.6,202.3 96.7,203.2 95.6,204.2 95.5,205.2 96.2,206.5 97.8,208 100.1,208.2 102.9,207.1 104.3,206.5 104.3,206.5 103.1,205.3 100.7,203Z M105,213.7 102.7,214 100.8,213.6 99.5,212.4 98.8,211.2 98.9,210 100.3,208.8 103.1,207.7 104.9,208.7 105.7,212Z M129.8,213.4 131.8,213.2 132.8,214.8 132.8,218 131.6,218.9 129.2,217.7 128.2,216.2 128.6,214.3Z M108.5,185.7 110.1,187.8 111.8,188.5 113.6,187.7 114.5,186.1 114.3,183.7 112.8,182.3 109.9,182 108.2,182.5 107.9,184Z M124.3,221.2 124.5,219.5 125.4,218.3 127,217.8 129,218.1 131.4,219.3 132.7,220.4 132.7,221.3 131.1,222.3 128.1,223.3 126,223.4 124.7,222.5Z M115.8,217.8 115.7,220.7 114.8,222.4 112.9,222.9 111.2,221.7 109.5,218.9 108.8,217 108.9,216.1 109.8,215.3 111.4,214.7 113.1,214.9 114.9,215.9Z M86.4,196.7 85.3,193.7 83.7,192 81.6,191.8 79.4,193.2 77.3,196.2 77,198.4 78.5,199.9 80.6,200.6 83.5,200.6 85.4,200 86.4,198.8Z M110.9,189.8 110.6,190.7 110.5,192 110.8,193.6 111.7,194.9 113.1,195.8 115.3,194.9 118,192.1 119.4,190.7 119.3,190.4 118.1,189.7 115.9,188.4 113.9,188.2 112,189Z M114.1,200.5 112.9,203 112.7,204.8 113.6,206 115.3,206.7 117.8,206.8 119.6,205.7 120.6,203.2 121,201.6 120.7,200.9 119.1,200.2 116.2,199.6Z M90.7,232.2 87.2,231.8 85.3,230.8 85,229.3 86.5,227.7 89.9,226.2 92.3,225.9 93.6,226.8 94.3,227.8 94.6,228.8 94.2,230 93.1,231.6Z M85.8,181.6 82.6,181 80.8,179.5 80.4,177 82.8,175.7 88,175.7 89.9,177.3 88.2,180.3Z M76.1,208.9 73.8,210.4 71.9,211 70.3,210.9 69.5,207.8 69.5,201.8 70.9,198.8 73.6,198.8 75.7,199.6 77.2,201.1 77.8,203.4 77.4,206.6Z M101.5,193.5 99.8,194.5 99.3,196 100.3,197.9 101.9,198.7 104,198.3 105.2,197.8 105.5,197.2 104.8,195.9 103.2,194Z M123.8,221.2 124,219.4 123.6,217.9 122.5,216.5 121.3,215.7 119.9,215.3 118.6,215.4 117.3,215.9 116.7,217.8 116.6,221.1 117.2,223.1 118.3,223.8 120.1,223.6 122.4,222.6Z M86.5,214 84.9,213.5 83.9,212.6 83.5,211.3 84.2,209.8 86.1,208 87.9,207.5 89.6,208.1 90.5,209.4 90.7,211.2 89.9,212.6 88.2,213.7Z M89.8,219.2 89.2,218.9 88.6,217.8 88.1,215.9 88.6,214.4 90.2,213.4 91.4,213.3 92.3,214 92.1,215.6 90.8,218Z M92.6,187.5 90.8,187.1 89.5,185.8 88.8,183.6 89.3,180.8 91,177.5 92.7,175.8 94.1,175.8 95.7,177.4 97.3,180.6 98,182.7 97.9,184 96.8,185.4 94.6,186.9Z M112,237.4 112.3,235.3 111.5,232.9 109.7,230.2 108,228.8 106.5,228.8 105,229.5 103.7,230.9 103.1,233.3 103.4,236.7 105.6,238.4 109.8,238.4Z M94.1,194.9 92.3,196.8 90.7,197.8 89,197.8 87.6,196.2 86.5,193.1 86.9,190.7 88.7,189 90.5,188.3 92.2,188.7 93.5,190.2 94.5,192.7Z" fill="#da50c2" stroke="#da50c2" stroke-width="0.5" stroke-linejoin="round"/>
<path d="M120.7,190.2 120.6,190 121.2,188.7 122.5,186.2 123.7,184.8 124.8,184.4 127,185.1 130.2,186.8 131.8,187.7 131.8,187.8 129.6,188.9 125.3,191.2 122.5,191.8 121.3,190.8Z M128.6,228.3 131.4,229.1 132.8,227.6 132.8,224 131.3,222.7 128.2,223.7 126.9,225.1 127.1,226.9Z M75.8,217 73.6,214.2 71.7,212.8 70,212.6 69.1,216.3 69.1,223.9 70.4,227.1 73.1,226 75,223.6 76.2,220.1Z M105,190.9 108,191.2 109.7,192.2 109.9,193.7 109.1,195 107.2,195.9 105.4,195.4 103.8,193.4 103.1,192 103.4,191.2Z M93.4,205.9 91.7,207 90,207.2 88.3,206.5 87.1,205 86.4,202.7 86.6,200.9 87.6,199.7 89,199.2 90.6,199.2 92.3,200.3 93.9,202.4 94.6,204 94.4,204.9Z M120,214.9 121.4,215.2 122.8,214.5 124.2,212.6 124.5,211 123.8,209.7 122.6,208.8 120.9,208.5 119.8,209.9 119.5,213.1Z M110.5,222.6 108.8,219.8 106.8,219.4 104.5,221.6 103.9,223.8 105,226.1 106.4,227.2 108,227.3 109.4,226.5 110.7,224.8Z M131,186 127.5,184.2 126,181.3 126.4,177.5 128.1,175.6 131.2,175.6 132.7,178.5 132.7,184.1Z M129.7,201.2 131.8,201.5 132.8,199.8 132.8,196.1 131.5,195 129,196.5 128,198.2 128.5,200.1Z M91.2,218.4 92.6,215.7 93.7,214.4 94.3,214.6 95,215.7 95.8,217.7 95,219.3 92.8,220.4 91.3,220.6 90.8,220.1Z M128.1,210.8 129,208.9 130.3,207.8 132,207.7 132.8,208.9 132.8,211.5 131.8,212.9 129.8,213 128.5,212.8 127.9,212.1Z M126.7,212.3 125.8,212.2 124.6,213 123.4,214.6 123.2,216.1 124.2,217.2 125.4,217.6 126.7,217 127.6,216 128,214.3 127.9,213.2 127.5,212.7Z M88.1,186.2 87.4,184.2 85.5,183 82.5,182.4 80.3,183 79.1,184.7 79.1,186.7 80.2,188.9 81.8,190.1 83.9,190.3 85.8,189.6 87.5,188Z M101.4,221 102.3,221.4 103.9,220.6 106.1,218.5 107.3,217 107.4,216.1 107.2,215.3 106.5,214.8 105.1,214.7 103,215 101.5,216.3 100.6,218.5 100.3,219.9 100.7,220.5Z M90.5,233.1 86.9,232.7 84.4,234.1 83.1,237.4 85.3,239.1 91,239.1 93.5,237.7 92.7,234.8Z M85.6,207.4 83.7,209.2 81.7,209.7 79.4,208.8 78.5,206.8 78.9,203.4 80.6,201.8 83.5,201.8 85.4,203 86.1,205.4Z M106,185.2 103.7,186.6 101.6,186.6 99.7,185.3 98.8,184.1 98.9,182.8 100.9,181.5 104.7,180.2 106.9,180.1 107.5,181.2 107.6,182.4 107.3,183.8Z M106.3,197.5 106,198.2 106.4,199.8 107.5,202.5 109,203.9 110.9,204 112.4,202.7 113.7,200.2 114.1,198.5 113.8,197.4 112.8,196.4 111.3,195.4 109.6,195.5 107.5,196.6Z M89.6,220.2 88.9,219.9 87.5,220.2 85.5,221 84.2,222.9 83.9,225.9 83.8,227.6 84,227.8 86,227.1 89.6,225.4 91.4,223.8 91.2,222.3 90.8,221.2 90.2,220.6Z M127.7,210.5 128.5,208.8 128.3,207.5 127.2,206.7 126,206.9 124.7,208.2 124.4,209.4 125,210.6 125.9,211.2 126.8,211.3Z M102,199.6 104.2,199.2 105.8,200.2 106.7,202.6 106.6,204.4 105.3,205.4 103.5,204.8 101.3,202.7 100.3,201.1 100.7,200.3Z M102.3,189.8 102,188.6 101,187.5 99.3,186.3 97.4,186.5 95.4,187.9 94.9,189.8 95.8,192.2 96.7,193.6 97.8,193.8 99.2,193.5 100.9,192.5 102,191.6 102.3,190.8Z M83.1,228.2 83.3,228.5 83.6,229.5 84,231.1 83.5,233.7 82.1,237.3 78.4,239 72.4,239 69.4,236.5 69.4,231.4 70.7,228.2 73.4,227 76.8,226.8 80.9,227.7Z M95.6,228.6 95.3,227.5 96.4,225.7 98.9,223.1 100.8,222 101.9,222.5 103.1,224 104.4,226.5 104.2,228.5 102.7,230.1 100.4,230.5 97.3,229.6Z M81.6,216.6 82.9,214.5 83.3,212.8 82.9,211.5 81.4,210.4 79.1,209.5 76.6,209.9 74.2,211.4 74.1,213.7 76.3,216.5 78.3,217.9 80.1,217.7Z M125.7,192 130,189.8 132.2,189.9 132.2,192.4 131,194.4 128.7,195.9 126.7,196.2 125,195.5 124,194.6 123.7,193.6Z M121.1,207.8 122.6,208.2 124.1,207.7 125.4,206.3 126,205.2 125.8,204.3 124.7,203.5 122.7,202.9 121.2,203.7 120.3,205.9 119.9,207.1 120.2,207.5Z M93.9,234.6 94.6,237.4 96.7,238.8 100.2,238.8 101.8,237 101.5,233.4 100,231.3 97.2,230.5 95.2,230.8 94.1,232.4Z M118.5,192.8 116,195.3 114.8,197 115.1,198 116.6,198.8 119.3,199.3 121.1,198.6 122.2,196.6 122.6,195 122.3,194 121.6,193 120.4,192Z M124.6,232.3 125.1,233.3 127,233.7 130.5,233.3 132.2,232.4 132.2,230.8 131,229.7 128.5,229 126.5,229.4 125,230.9Z M93,213.2 92.1,212.4 91.5,211.2 91.4,209.4 92.2,208 94,206.9 95.7,207.1 97.3,208.6 98,209.9 98,211.2 97.1,212.3 95.6,213.3 94.5,213.8 93.8,213.6Z M126.8,204.1 127,205 127.6,206 128.8,206.9 130.2,207.3 131.8,207.1 132.5,205.9 132.5,203.5 131.6,202.2 129.6,201.9 128.2,202.2 127.2,203.1Z M132.4,237.8 132.4,235.3 130.6,234.2 127.1,234.5 125.1,235.8 124.8,238 126.6,239.1 130.4,239.1Z M119.7,228.5 119.4,225.9 120.4,224.1 122.6,223.1 124.4,223 125.6,223.9 126.3,225.2 126.6,227 125.9,228.8 124.3,230.5 122.6,230.9 120.8,230.2Z M87.1,219.4 85.2,220.2 83.6,219.9 82.4,218.5 82.3,216.9 83.4,215.1 84.7,214.4 86.2,214.9 87.2,216.1 87.7,218.1Z M117.9,230.9 115,232.9 112.6,232.4 110.5,229.4 110.1,226.9 111.5,225.2 113.2,224 115.2,223.5 116.8,223.6 118,224.3 118.7,226 119.1,228.6Z M79.1,177 79.6,179.7 79.2,182 77.8,183.9 75.2,184.8 71.3,184.5 69.4,182.2 69.4,177.8 71.7,175.7 76.5,175.7Z M92,222.2 92.2,223.7 92.9,224.9 94.3,226 96.1,225.2 98.5,222.8 99.5,221.2 99.1,220.6 98.3,220 97.1,219.5 95.3,219.8 93,220.9Z M123.2,183.5 124.3,183.1 125.1,181.2 125.5,177.6 123.8,175.8 120,175.8 118,176.8 117.8,178.8 119,180.8 121.4,182.7Z M118.2,231.5 115.4,233.5 113.9,235.7 113.6,238 115.9,239.1 121,239.1 123.7,237.9 124.1,235.6 124,233.8 123.4,232.6 122.3,231.7 120.5,230.9Z" fill="#de5ac8" stroke="#de5ac8" stroke-width="0.5" stroke-linejoin="round"/>
<path d="M73.8,180 L77,180 L79,188 L76.5,196 L78.5,204 L76,212 L79,222 L77,235 L73.8,235 Z M94,180 L97,180 L97.5,188 L95.5,196 L98.5,203 L97,210 L99.5,218 L96.5,226 L98,235 L95,235 L93.5,226 L95.5,216 L93,207 L94.5,198 L93,190 Z M113,192 L116,190 L116.5,198 L114.5,206 L117.5,214 L116,222 L118,229 L114.5,231 L113,222 L114,213 L112.5,204 Z M84,200 L88,199 L87,204 Z M104,219 L109,218 L107,223 Z" fill="#faf4fa"/>
<circle cx="119.29" cy="216.92" r="0.45" fill="#7040b0"/>
<circle cx="87.3" cy="183" r="0.45" fill="#7040b0"/>
<circle cx="91.46" cy="190.81" r="0.45" fill="#7040b0"/>
<circle cx="122.86" cy="209.15" r="0.45" fill="#7040b0"/>
<circle cx="113.35" cy="230.43" r="0.45" fill="#7040b0"/>
<circle cx="116.65" cy="227.24" r="0.45" fill="#7040b0"/>
</g></g>
<g clip-path="url(#clipHE2)"><g filter="url(#soft2)">
<rect x="127.8" y="178.2" width="58.2" height="58.3" fill="#f2dcf2"/>
<path d="M183.1,222.2 186.2,222.7 187.8,221.1 187.8,217.5 186.4,215.6 183.7,215.6 181.8,216.2 180.7,217.6 180.5,219.2 181.2,221Z M176.9,227.6 177,229.3 175.6,230.6 172.7,231.6 170.6,231.4 169.5,229.9 169.7,228.1 171.3,226 173.3,225.4 175.6,226.3Z M156.5,196.3 157.2,196 158.3,196.5 159.9,197.8 160.6,199.7 160.3,202.3 160.1,203.8 159.7,204 158.6,204 156.7,203.7 155.4,202.6 154.5,200.9 154.6,199.2 155.7,197.3Z M142.6,212.1 141.7,213.7 141.7,215.2 142.4,216.6 143.7,217.4 145.3,217.6 146.6,217 147.6,215.6 147.6,213.9 146.6,212 145.4,211 143.8,211.2Z M127.3,210 130.9,208.5 132.3,206.8 131.6,204.8 129.8,203.8 126.9,203.9 125.4,205.6 125.4,209Z M125.9,176.9 125.9,178.8 127.1,180.2 129.7,181 131.5,181.2 132.6,180.5 133.2,179.1 133.5,177 131.7,175.9 127.8,175.9Z M183.5,205.8 186.5,206 188,204.7 188,202.1 186.7,200.5 184,200 182.2,200.4 181.2,201.5 181,203 181.6,204.8Z M167.3,214 166.4,213 165.2,212.6 163.7,212.8 162.7,214.1 162.2,216.4 162.4,218 163.4,219 164.6,219.3 166.1,218.9 167,217.7 167.5,215.6Z M140.4,235.8 138.5,234.7 136.5,234.5 134.4,235.3 132.9,236.6 131.9,238.3 134.1,239.1 139.6,239.1 142,238.5 141.5,237.1Z M151.8,232.2 152.5,231.8 154,231.8 156.3,232 157.9,232.8 159.1,234.1 159.7,235.8 159.8,237.7 158.4,238.7 155.6,238.7 153.5,237.3 152.1,234.5 151.4,232.9 151.4,232.5Z M186.3,192.6 187.6,192.8 188.2,194.4 188.2,197.6 186.9,198.9 184.3,198.4 182.9,197.5 182.6,196.2 183.3,194.8 184.9,193.2Z M186.4,231.6 182.6,232.5 180.6,234.4 180.4,237.4 182.3,238.9 186.3,238.9 188.3,236.9 188.3,233Z M176.8,188.7 174.6,186.8 174.1,185.4 175.2,184.4 176.6,184.3 178.3,184.8 179.2,185.9 179.5,187.4 179.1,188.5 178.3,189.2Z M151.5,223.7 152.8,223.6 153.6,223.8 154,224.5 153.8,226.1 152.8,228.9 152,230.5 151.3,230.8 150.5,230.6 149.7,229.9 149.6,228.1 150.4,225.2Z M158.2,182.2 161.3,183.6 162.7,185.5 162.4,187.8 161.4,189.3 159.9,190 157.9,189.1 155.4,186.7 154.8,184.5 156.1,182.5Z M164.6,198.7 165.6,200 165.8,201.5 165.2,203 163.9,203.8 162,203.7 161.2,202.4 161.5,199.8 162.3,198.3 163.5,198.1Z M137.5,184.4 135.2,182.6 133.6,182 132.6,182.7 131.8,184.1 131.4,186.2 132,187.8 133.5,188.9 135.1,189.1 136.9,188.4 138,187.4 138.4,186Z M143.4,225.6 141.9,225.4 140.9,226.1 140.4,227.4 141,228.7 142.7,230.1 144.2,230.4 145.5,229.8 145.7,228.5 144.6,226.6Z M183.6,187.5 184,185.9 183.6,184.8 182.4,184.2 181.3,184.2 180.5,184.8 180.2,185.8 180.4,187.2 181.3,188 182.7,188.2Z M127.8,215.6 131.1,216 133.1,215.7 134,214.5 134.2,212.8 133.7,210.5 133.3,209.2 133,209.1 131.2,209.7 127.8,211.1 126.1,212.7 126.1,214.5Z M180.5,210.7 181.5,212.9 183.6,214 186.8,214 188.4,212.4 188.4,209 186.7,207.2 183.4,207.1 181.3,207.7 180.4,209Z M171.9,207.5 169.5,207.6 168.2,207.2 167.9,206.4 168.6,205.3 170.1,203.8 171.5,203.3 172.7,203.8 173.2,204.9 173.2,206.6Z M166.8,177.3 166.4,180 165.4,181.9 163.9,182.8 161.7,182.6 158.8,181.2 157.2,179.4 157,177.1 159.3,176 164.4,176Z M151.1,187 152.8,186.4 154.8,187.3 157.3,189.7 158.1,191.9 157.4,193.7 156.7,194.7 156,195 154.2,194.2 151.1,192.2 149.7,190.3 150.1,188.3Z M137.5,189.8 135.5,190.6 134.4,191.6 134,192.9 134.8,194.8 136.8,197.2 138,198.5 138.5,198.5 139.6,197.4 141.2,195.1 141.2,192.8 139.4,190.6Z M146.1,231 144.8,231.6 143.8,232.9 143.1,234.8 143,236.5 143.4,237.8 143.8,238.4 144,238.4 145.5,237.1 148.4,234.4 149.8,232.9 149.8,232.5 149.4,232 148.5,231.2 147.7,230.8 147.1,230.7Z M178.7,237.1 178.9,234.4 178.6,232.7 177.8,231.9 176,232 173.3,232.9 171.8,234.7 171.6,237.2 173.3,238.4 176.8,238.4Z M146.4,204.6 147.1,206.4 147.1,207.9 146.3,209 145.2,209.6 143.8,209.7 142.4,209 141.2,207.4 140.8,205.9 141.4,204.3 142.8,203.6 145,203.6Z M139.8,203.7 139.3,205.3 137.8,206.4 135.6,207.2 134.3,207.5 134.1,207.3 133.6,206.3 132.8,204.3 132.6,203 132.9,202.5 134.1,201.6 136.4,200.5 137.7,199.9 138.2,200 138.8,200.7 139.7,202.2Z M171.8,214.7 170.1,214.8 169,215.9 168.6,218 169.1,219.5 170.5,220.3 172,219.9 173.6,218.3 173.9,216.8 173.1,215.3Z M156.4,231.2 154.1,230.9 153.4,229.3 154.5,226.2 155.9,225.1 157.7,225.9 158.3,227.5 157.8,230Z M146.6,221 146,219.8 145,219 143.5,218.8 142.1,219.6 140.9,221.3 140.5,222.6 141,223.6 142,224.1 143.5,224.2 144.9,223.6 146.2,222.3Z M146.3,196 147.3,198.6 147.4,200.5 146.6,201.7 145,202.2 142.6,202.2 141,201.4 140.1,199.9 140.5,198.1 142.1,195.8 143.6,194.6 145,194.6Z M162.1,223.6 162.5,221.8 162.2,220.3 161.2,219.2 159.5,218.8 157.3,218.9 155.7,219.8 155,221.6 154.8,222.8 155.3,223.5 156.3,224.2 158,225 159.6,225.2 161.1,224.7Z M156.6,204.9 158.4,205.2 159.4,206.5 159.7,208.8 158.7,210.3 156.3,211 154.7,210.4 153.8,208.6 153.9,206.9 155.1,205.5Z M127.1,225.4 129.5,225.6 131.4,224.6 132.9,222.4 133.3,220.6 132.7,219 130.8,218.1 127.6,217.6 126,219.4 126,223.4Z M178,178.9 180.1,179.3 181.5,179.2 182.3,178.5 182.8,177.5 183.1,176.3 181.3,175.7 177.5,175.7 176,176.4 176.7,177.9Z M175.2,180.2 174.9,182 174.2,183.3 173.2,184.2 172.5,184.7 172.1,184.8 171,184 169.1,182.4 168.4,180.3 168.8,177.7 170.2,176.5 172.7,176.5 174.3,177.2 175,178.6Z M141.6,185.4 143.4,184.4 145.4,184.7 147.6,186.4 148.6,188.2 148.2,190 147.4,191.4 146.3,192.5 145,193 143.7,193 142.2,191.9 140.5,189.8 139.9,188.1 140.4,186.7Z M145.8,180.8 146.1,177.9 148.4,176.4 152.5,176.4 154.8,177.5 155.1,179.7 154.6,181.7 153.5,183.6 152.2,184.8 150.7,185.4 148.9,184.8 146.7,183.1Z M179.1,193.3 180.7,194.1 182.2,193.8 183.8,192.2 184.3,191 183.5,190 182.5,189.5 181,189.3 179.9,189.5 179.1,190.2 178.6,191.1 178.4,192.2Z M161,216.3 161.6,213.6 161.5,211.9 160.6,211.3 159,211.3 156.5,212 154.9,213 154.4,214.2 154.6,215.6 155.5,217.1 157.1,217.8 159.5,217.7Z M165.4,198.2 166.3,199.5 167.4,200 168.6,199.9 169.5,199.3 169.9,198.2 169.3,197.1 167.7,195.9 166.4,195.9 165.4,197Z M170.3,202.1 169.7,201.2 168.8,200.8 167.4,200.9 166.4,201.7 165.8,203.3 165.9,204.5 166.8,205.3 168.1,204.9 169.7,203.4Z M151.4,222.3 152.8,222.2 153.9,221.2 154.7,219.4 154.6,217.7 153.8,216.2 152.3,215.5 150.2,215.5 148.6,216.3 147.5,217.7 147.3,219.2 147.9,220.6 148.9,221.6 150,222.1Z M138.7,228 138,228.4 136.3,228.3 133.6,227.7 132.1,227.2 131.8,226.9 132.5,225.6 134.2,223.1 136,222.1 137.9,222.5 139.2,223.3 139.7,224.4 139.8,225.6 139.3,227.1Z M134.1,195.5 135.9,197.7 135.7,199.3 133.6,200.4 131.9,199.8 130.7,197.5 130.9,195.9 132.5,194.9Z M170.5,222.8 170.7,223.6 170.1,225.1 168.6,227.2 167.4,228.1 166.7,228.1 165.6,227.2 164.2,225.6 163.7,223.9 164.1,222.2 165.1,221.2 166.6,220.8 168.1,221 169.6,221.9Z M164.5,196.3 165.6,195.1 166.1,193.9 166.1,192.8 165.3,191.6 163.5,190.5 161.9,190.3 160.4,191 159.2,192.3 158.5,194.1 159,195.6 160.6,196.8 162.1,197.3 163.4,197.1Z M149.7,224.9 148.8,228 148.1,229.5 147.4,229.3 146.5,228.3 145.4,226.2 145.6,224.5 147.1,223 148.4,222.5 149.6,223Z M136.1,229.2 133.4,228.5 132.3,229.9 132.8,233.2 134.1,234.5 136.2,233.7 137.3,232.4 137.3,230.5Z M153.5,201.5 154.3,203.2 154.1,204.8 152.9,206.3 151.4,207 149.7,206.9 148.4,205.9 147.7,203.9 147.7,202.4 148.5,201.3 149.9,200.7 152,200.7Z M176.2,218.5 177.7,218.7 178.8,219.8 179.5,221.7 179.2,223.4 177.9,224.8 176.1,225 173.8,224.1 172.5,223.2 172.3,222.3 173,221 174.7,219.2Z M148.6,208.9 147.8,210 147.9,211.4 148.8,213.2 150.2,214.1 152.1,214.1 153.2,213.5 153.6,212.4 153.4,211 152.6,209.3 151.4,208.4 149.8,208.4Z M185.4,183.7 186.6,183.1 186.3,181.9 184.5,180.1 183.2,179.5 182.4,180.2 182.1,181.1 182.2,182.3 182.8,183.1 184.1,183.7Z M173.2,212.4 174,210.7 174.2,209.4 173.6,208.7 172,208.3 169.5,208.4 167.9,209.1 167.2,210.6 167.4,211.9 168.4,213 169.9,213.5 171.8,213.4Z M174.1,206.7 174.2,204.8 174.8,203.4 176,202.5 177.3,202.1 178.7,202.3 179.7,203.4 180.4,205.4 180.4,207.1 179.5,208.4 178.1,209.1 176.2,209.1 175,208.8 174.4,208Z M130.9,228.5 130.7,228.3 129.3,228.1 126.9,227.9 125.7,230.4 125.7,235.5 126.9,238 129.1,238 130.7,237.3 131.6,235.7 131.8,233.4 131.3,230.2Z" fill="#e042ae" stroke="#e042ae" stroke-width="0.5" stroke-linejoin="round"/>
<path d="M151.1,235 152.5,237.8 151,239.1 146.7,239.1 146,237.8 149,235Z M147.5,195.7 148.5,198.1 149.9,199.3 151.9,199.2 153.3,198.4 154.3,196.7 153.4,195 150.6,193.3 148.7,192.9 147.6,193.9Z M126.8,202.9 129.8,202.8 131.4,202.5 131.6,201.9 131.1,200.4 129.8,197.9 128.2,196.6 126.3,196.4 125.4,198 125.4,201.3Z M161.7,232.4 163.8,230.2 164.2,228.3 162.9,226.7 161.5,226.1 160.1,226.6 159.2,227.9 158.8,230.1 159.1,231.8 160.1,232.9Z M167.5,190.8 169,190 170,188.8 170.7,187 170,185.3 168,183.6 166.3,183.2 164.8,184.2 163.9,185.7 163.5,187.9 164.2,189.5 165.9,190.6Z M141.6,211.4 140.7,213.1 139.1,213.9 137,213.8 135.6,212.5 135.1,210 136,208.4 138.3,207.7 140.1,208.1 141.4,209.8Z M177.8,179.9 179.8,180.4 180.9,181.2 181,182.3 180.6,183.2 179.8,183.9 178.6,183.9 177,183.4 176.4,182.3 176.7,180.5Z M178.6,227.5 178.7,229.1 179.2,230.3 180.1,231.1 182.3,231.1 185.9,230.2 187.7,228.6 187.7,226.1 186.1,224.7 182.8,224.1 180.5,224.6 179.2,226Z M126.6,195 128.4,195.2 130.1,194.7 131.7,193.7 132.6,192.6 133,191.4 132.4,190.2 130.8,189.1 129,188.7 126.8,189.2 125.7,190.8 125.7,193.6Z M126.4,187.9 128.7,187.4 130.1,186 130.6,183.7 129.4,182.1 126.6,181.2 125.2,182.6 125.2,186.3Z M177,194.3 176.1,194.8 175.4,195.5 175.1,196.3 175.4,197.6 176.4,199.6 177.5,200.7 178.8,200.9 179.9,200.4 181,199.3 181.3,198 181,196.6 180,195.5 178.4,194.6Z M174.5,213 175.2,211.4 176.4,210.6 178,210.6 179.3,211.5 180.2,213.4 180.2,215 179.1,216.4 177.9,217 176.5,216.8 175.4,215.9 174.5,214.5Z M141.1,218.8 139.8,220.7 138.1,221.5 136.1,221 134.8,220 134.1,218.2 134.2,216.7 135.2,215.4 136.8,214.8 139.1,214.9 140.6,215.7 141.4,217.2Z M138.5,183.4 136,181.4 134.9,179.3 135.2,177 137.6,175.9 142.1,175.9 144.1,177.5 143.8,180.6 142.7,182.8 140.7,183.9Z M186.6,190.9 188,191.1 188.7,189.4 188.7,185.6 188.5,183.7 188.2,183.7 187.4,184.1 186,184.8 185,186 184.5,187.8 184.7,189.3 185.5,190.3Z M139.2,229 138.6,229.4 138.2,230.5 138.1,232.4 139,233.9 140.7,235 142,234.5 142.7,232.5 142.2,230.8 140.4,229.4Z M175.4,200.2 174.4,198.1 173.2,197.3 171.8,197.8 170.9,198.6 170.5,199.8 170.5,200.8 171,201.7 171.8,202.4 173,202.8 174.2,202.6 175.3,201.7Z M161.5,235.7 161.6,237.6 163.6,238.5 167.5,238.5 169.6,237.2 169.8,234.5 169.3,232.4 168.2,230.9 167.2,230.1 166.4,230 164.9,231.2 162.6,233.5Z M176.5,193.2 175.4,193.7 173.8,193 171.7,191.1 171.1,189.2 171.8,187.3 172.3,186.3 172.7,186.3 174.1,187.2 176.4,189.2 177.4,190.9 177.2,192.2Z M168.3,192.1 169.6,191.4 171.2,191.9 173.1,193.6 173.8,194.8 173.5,195.6 172.7,196.2 171.4,196.6 170,196.2 168.4,195 167.6,193.9 167.6,192.9Z M166.8,207.6 166.6,206.8 166,206.1 165.2,205.4 163.9,205 162.2,205 161.2,205.1 160.9,205.3 160.9,206.6 161.1,208.8 161.6,210.2 162.3,210.8 163.4,210.9 164.9,210.7 166,210 166.6,208.6Z M184.4,177.8 184.6,176.7 185.7,176.1 187.5,176.1 188.5,177.6 188.5,180.6 188.3,182.1 188.1,182.1 187,181.2 185.2,179.4Z" fill="#da46aa" stroke="#da46aa" stroke-width="0.5" stroke-linejoin="round"/>
<path d="M167,180 L172.5,180 L174,192 L180,185 L184.5,184 L184.5,188 L176,199 L178,212 L179,228 L168,228 L169,212 L168.5,196 Z" fill="#f2dcf2"/>
<circle cx="140.9" cy="233.14" r="0.45" fill="#7040b0"/>
<circle cx="149.65" cy="211.21" r="0.45" fill="#7040b0"/>
<circle cx="160.83" cy="195.49" r="0.45" fill="#7040b0"/>
<circle cx="169.61" cy="234.08" r="0.45" fill="#7040b0"/>
<circle cx="162.09" cy="184.75" r="0.45" fill="#7040b0"/>
<circle cx="173.6" cy="216.41" r="0.45" fill="#7040b0"/>
<circle cx="156.35" cy="215.73" r="0.45" fill="#7040b0"/>
<circle cx="143.97" cy="196.7" r="0.45" fill="#7040b0"/>
</g></g>
<g clip-path="url(#clipHE3)"><g filter="url(#soft2)">
<rect x="183.7" y="178.2" width="58.2" height="58.3" fill="#eea0c8"/>
<path d="M202.3,231.2 200.2,232.2 199.2,234.4 199.2,237.7 200.5,239.3 203,239.3 204.6,238.4 205.2,236.6 205,234.4 203.9,232Z M205.7,221.8 204.5,222.2 203.5,223.2 202.7,224.8 202.6,226.6 203.4,228.6 204.9,229.4 207,228.8 208.6,227.9 209.5,226.5 209,224.7 207.2,222.7Z M205.9,206.9 205,205.6 203.2,205.6 200.3,206.7 199.4,208.6 200.4,211.3 201.6,212.7 202.9,212.7 204.3,211.4 205.6,208.8Z M223.3,192.8 222.9,193 222.2,192.9 221,192.6 219.7,191.1 218.3,188.2 218,185.9 219.1,184 221.1,183.9 224,185.4 225,187.7 224,191Z M189.2,197 187.9,193.1 185.8,191.1 182.7,190.8 181.2,193.2 181.2,198.3 182.5,200.9 185.1,201.2 187.2,200.8 189,199.6Z M244.8,237.7 244.8,234.4 243.8,232.9 242,233 240.7,234.7 239.9,237.8 240.9,239.3 243.5,239.3Z M224.5,184.6 221.3,183 219.3,180.6 218.4,177.3 220.9,175.6 226.7,175.6 229.8,176.8 230.3,179.2 230.3,181.2 229.8,182.7 229.2,183.7 228.5,184.4 227.6,184.9 226.6,185.2Z M236.7,231.6 238.1,231.3 238.9,229.9 239.3,227.3 238.7,225.7 237.3,225.2 235.9,225.9 234.6,227.8 234.5,229.5 235.5,231Z M212.6,207.9 214.6,206.7 215.6,205.3 215.9,203.5 215.7,202.2 215.1,201.4 213.2,200.6 210,199.7 207.6,199.8 206.1,200.9 205.3,202.1 205.1,203.6 205.5,205 206.5,206.4 208.2,207.5 210.5,208.2Z M226.2,205.9 226.4,204.2 225.6,202.7 223.7,201.4 221.2,201.2 218,202.2 216.2,203.6 216,205.3 217,207 219,208.8 221.6,208.9 224.6,207.5Z M189.4,209.5 191.1,209.6 192.9,208.7 194.8,206.9 195.2,204.6 194.3,201.8 193,200.2 191.3,199.7 189.5,200.1 187.6,201.4 186.9,203.8 187.4,207.1 187.8,209 188.3,209.3Z M200.5,183.7 198.4,187.4 195.9,188.8 193,188.1 191.6,186.3 191.8,183.6 194.1,181.9 198.7,181 201.1,180.9 201.4,181.6Z M224.9,237.6 225.4,234 226.3,232.1 227.5,231.7 228.9,232.5 230.4,234.3 230.9,236.2 230.4,238.3 228.8,239.4 226,239.4Z M217.5,188.5 219,191.3 218.8,193.2 216.9,194.1 215.2,194 213.7,192.9 213.1,191.4 213.3,189.4 214.3,188 216,187.4Z M242.4,194 238.5,192.4 236.8,190.7 237,188.8 237.8,187.2 239.2,186 241,185.7 243.2,186.2 244.3,188.5 244.3,192.7Z M188.8,177 190.7,180.1 193.9,181.3 198.7,180.4 201.1,178.8 201.3,176.6 198,175.4 191.3,175.4Z M207.8,222.2 209.6,224.3 211.3,225.3 212.7,225.3 214.1,224.6 215.5,223.2 216.1,221.4 215.7,219 214.6,217.4 212.7,216.5 210.8,216.5 209,217.2 207.8,218.5 207.2,220.3Z M218,223.9 220.3,224.6 221.4,226.2 221.5,228.7 220.8,230.4 219.3,231.2 217.9,231.5 216.8,231.1 215.7,229.7 214.7,227.2 214.9,225.4 216.2,224.1Z M231.3,211.2 233,211.3 234.6,209.4 236,205.5 235.6,202.8 233.2,201.4 230.8,201.4 228.4,202.8 227.1,204.4 226.9,206 227.7,207.9 229.5,210.1Z M218.5,183.3 217.3,185.3 215.9,186.6 214,187.3 211.9,187 209.3,185.6 208,184.9 207.9,184.7 210,182.4 214.1,177.9 216.5,175.6 216.9,175.6 217.6,177.3 218.5,180.6Z M213.2,200.4 210.1,199.5 208.5,197.9 208.7,195.6 209.7,194.1 211.6,193.2 213.4,193.3 215.1,194.5 215.6,196.5 215.1,199.4Z M240.5,176.9 239.2,179.8 238.9,182 239.6,183.7 241.1,184.9 243.5,185.4 244.7,183.1 244.7,178.1 243.8,175.5 242,175.5Z M202,221.4 199.5,219.9 197.6,220.2 196.2,222.4 196,224 196.9,225.1 198.4,225.6 200.5,225.4 202,224.5 202.8,223Z M232.1,196.4 232.3,198.8 233.6,200.7 236.1,202.3 239.1,202.6 242.8,201.8 244.6,200 244.6,197.1 242.5,194.8 238.2,193.1 235.3,192.7 233.7,193.5 232.7,194.3 232.2,194.9Z M195.3,199.4 197.8,197.6 200.5,197.9 203.6,200.2 205.1,202.1 204.9,203.5 203.2,204.9 199.9,206.2 197.7,206.6 196.5,206.2 195.5,204.6 194.6,201.8Z M187.2,214.5 187.9,211.4 188,209.6 187.6,209.3 185.8,209.4 182.5,210 180.9,211.9 180.9,215 182.4,216.5 185.3,216.3Z M236.7,238.1 235.5,235.5 234,234.5 232.3,235 231.2,236.3 230.6,238.3 232.1,239.4 235.6,239.4Z M233.5,192.8 234.9,192 235.8,190.6 236,188.7 234.7,186.8 231.7,185 229.8,184.4 229.1,185.1 229.8,187.3 231.8,191.2Z M236.9,232.5 238.2,232.3 239.3,232.4 240.1,233 240.2,234.7 239.5,237.4 238.8,238.8 238,238.8 237.1,237.7 236,235.4 235.6,233.8 236,233Z M188.1,177.2 190.1,180.5 190.9,183.5 190.7,186.5 189.8,188.5 188.3,189.6 185.9,190.1 182.6,189.8 181,186.1 181,179.1 182.5,175.6 185.6,175.6Z M196.8,215.9 195.3,215.4 193.9,213.8 192.7,211.1 193.1,208.9 194.9,207 196.4,206.3 197.6,206.8 198.7,208.6 199.9,211.8 199.8,214 198.3,215.4Z M210.7,234.1 211.4,234.5 212,235.8 212.5,238.2 210.7,239.3 206.6,239.3 204.9,238.4 205.6,236.6 207,235.3 209.2,234.4Z M186.9,207 186.4,204 184.9,202.3 182.4,202 181.1,203.8 181.1,207.7 182.6,209.4 185.6,208.8Z M228.2,230.3 229,229.2 228.9,227.2 227.9,224.3 227.2,222.7 226.8,222.5 225.5,223 223.5,224.3 222.5,226.1 222.6,228.6 223.4,230.3 224.9,231.1 226.2,231.3 227.3,231Z M229.5,221.4 232.5,220.9 234.7,219.3 235.8,216.5 235.8,214.5 234.5,213.1 233,212.4 231.2,212.3 229.3,213.4 227.2,215.8 226.4,218.1 226.8,220.2 227.3,221.3 227.7,221.5Z M239,214.6 242.7,214.7 244.5,211.6 244.5,205.3 242.8,202.6 239.3,203.3 236.8,205.7 235.4,209.7 235.3,212.4 236.6,213.8Z M198.9,237.7 198.9,234.3 198.2,232.2 196.8,231.3 195,231.1 192.7,231.7 191.5,233.8 191.3,237.5 193.2,239.3 197,239.3Z M188.5,222.2 186.3,223.5 185.7,225.6 186.7,228.3 187.9,229.9 189.3,230.1 190.5,228.6 191.6,225.2 191.5,223 190.3,222Z M202.3,176.8 202.2,179 202.2,180.3 202.5,181 203.8,182 206.1,183.4 209.2,182 213.1,177.8 211.9,175.7 205.6,175.7Z M203.9,192.1 201.2,192.8 199.7,194 199.4,195.7 200.8,197.7 203.7,200 206,200.6 207.4,199.5 208.2,197.9 208.4,195.6 207.6,193.8 206.1,192.4Z M228.5,212.9 226.5,215.1 224.3,215.7 221.9,214.6 220.7,213.1 220.7,211.2 222,209.5 224.8,208.3 227,208.6 228.6,210.7Z M212.6,189.2 212.4,191.3 211.4,192.8 209.6,193.6 208,193.4 206.5,192 206.3,189.9 207.3,187.1 209.1,186.3 211.5,187.6Z" fill="#e03a84" stroke="#e03a84" stroke-width="0.5" stroke-linejoin="round"/>
<path d="M219.1,237.6 218.6,234.2 217.8,232.2 216.6,231.9 215,232.4 213.1,233.8 212.4,235.8 212.8,238.1 214.6,239.3 217.7,239.3Z M206.8,216.2 204.9,214.3 204.7,211.8 206.2,208.9 208.1,207.7 210.4,208.4 211.6,210.4 211.6,213.8 210.6,215.9 208.7,216.7Z M241.2,225.5 243.5,224.8 244.7,226.4 244.7,230.4 243.8,232.4 242,232.6 240.6,232.4 239.7,231.8 239.5,230.1 239.8,227.2Z M217.5,217.1 219.3,215.7 221.4,215.6 223.9,216.8 225.3,218.3 225.8,220.4 224.9,222 222.9,223.3 220.7,223.5 218.4,222.8 217.1,221.2 216.7,218.9Z M223.3,198.7 223.3,195.6 223.5,194 223.9,193.8 225.8,194.1 229.4,195 231.3,196.5 231.4,198.7 230.3,200.5 227.9,201.9 225.9,202 224.1,200.8Z M187.6,214.5 188.3,211.6 189.4,210.2 191,210.2 192.4,211.4 193.4,213.9 192.9,215.8 190.7,217.2 189,217.4 187.9,216.5Z M239,215.4 242.7,215.5 244.6,217.7 244.6,221.8 243.4,224.2 241,224.9 239.1,225 237.5,224.4 236.2,223.4 235.2,221.8 235.3,219.6 236.5,216.7Z M185.4,230.5 182.4,232.2 181,230.6 181,225.9 181.9,223.8 183.9,224.3 185.3,225.8 186.3,228.4Z M230.8,228.8 232.5,228.7 234.1,227.6 235.6,225.5 235.9,223.6 234.9,221.9 232.7,221.4 229.4,221.9 228.3,223.8 229.4,227.2Z M189.3,220.6 189.2,219.2 188.6,218 187.4,217.1 185.4,216.7 182.5,216.9 181.1,218.5 181.1,221.3 182.1,223 184.1,223.6 186.1,223.2 188.3,221.9Z M193,223.6 194.3,223.6 195.5,224.2 196.5,225.4 196.8,227.2 196.3,229.4 194.9,230.9 192.7,231.5 191.1,231.4 190.4,230.7 190.6,228.7 191.8,225.3Z M213.8,227.5 214.9,230 214.5,232 212.8,233.3 211.6,233.8 210.9,233.5 210.1,232.2 209.3,230.1 209.3,228.4 210.2,227 211.3,226.3 212.6,226.3Z M190.7,237.2 190.9,233.8 190.6,231.8 189.9,231.2 189,230.7 187.8,230.5 185.7,231.2 182.8,232.9 181.4,235 181.4,237.6 183.7,238.9 188.3,238.9Z M206,184.2 203.5,182.7 201.1,183.9 198.9,187.8 198.3,190.4 199.3,191.9 201.2,192.3 203.9,191.6 205.8,189.8 206.8,186.8 207.4,185.2 207.3,185Z M204.8,229.9 207.2,229.3 208.8,230.2 209.8,232.6 209.2,234.2 206.9,235.2 205.2,234.3 204,231.8 203.5,230.4 203.6,230.3Z M205.5,221.1 204.3,221.5 202.4,220.9 199.8,219.3 198.4,218 198.1,216.9 198.7,215.7 200,214.3 201.4,213.6 202.9,213.6 204.6,214.5 206.5,216.4 207.1,218.2 206.4,220Z M238.9,183.9 238.2,182.3 236.3,181.3 233.1,181 231.2,181.5 230.8,182.9 232,184.5 235,186.2 237.1,186.5 238.5,185.3Z M229.6,194.2 226,193.3 224.7,191.2 225.8,187.9 226.8,186 227.8,185.7 229.3,187.5 231.3,191.5 232.1,193.8 231.7,194.4Z M195.2,199.1 197.5,197.3 198.9,195.6 199.1,193.9 198.8,192.3 197.8,190.8 195.7,189.7 192.6,188.9 190.2,189 188.7,190.2 188.6,192.8 190,196.9 191.5,199.2 193.2,199.7Z M232.2,234.5 233.8,234.1 234.9,233.4 235.3,232.6 234.9,231.4 233.8,229.9 232.5,229.2 230.9,229.2 229.7,229.8 229,230.9 229.3,232.3 230.7,233.9Z M203,229 202.2,226.8 200.6,225.8 198.3,226 197,227.2 196.5,229.5 197,231.1 198.4,232 200.1,232 202.2,231 203.3,230.4 203.4,230.2Z M212.3,213.6 212.3,210.6 213.1,208.6 214.8,207.5 216.6,207.8 218.5,209.4 219.4,211.2 219.5,213.1 218.6,214.7 216.8,216.1 215,216.3 213.2,215.5Z M230.3,176.6 230.8,179.1 232.9,180.5 236.4,180.9 238.8,179.7 240.2,176.8 238.1,175.3 232.7,175.3Z M219.4,237.5 219,234.2 219.7,232 221.3,231.1 222.9,231.1 224.5,231.9 225,234 224.6,237.4 223.2,239.1 220.8,239.1Z M215.9,202.1 215.3,201.3 215.3,199.4 215.8,196.5 217.2,194.6 219.2,193.6 220.9,193.2 222.2,193.6 222.8,195.4 222.7,198.8 221.1,201 217.8,202Z M189.9,220.6 189.8,219.2 190.9,217.7 193.2,216.2 195.2,215.7 196.7,216.2 197.6,217 197.8,218.1 197.2,219.8 195.7,222.1 194.3,223.2 193,223.2 191.8,222.7 190.6,221.8Z" fill="#d83c8c" stroke="#d83c8c" stroke-width="0.5" stroke-linejoin="round"/>
<path d="M206,193 L209,191 L209.5,195 Z M196,211 L200,210 L199,215 Z M212,216 L215,215 L213.5,219 Z M205,236 Q220,227 240,221 L240,222.5 Q222,229.5 207,236 Z M227,186 L230,185 L229,189 Z" fill="#fbf4f8"/>
<circle cx="191.93" cy="199.59" r="0.45" fill="#7040b0"/>
<circle cx="232.55" cy="210.01" r="0.45" fill="#7040b0"/>
<circle cx="188.06" cy="229.45" r="0.45" fill="#7040b0"/>
<circle cx="230.35" cy="183.23" r="0.45" fill="#7040b0"/>
<circle cx="228.3" cy="190.11" r="0.45" fill="#7040b0"/>
</g></g>
<g clip-path="url(#clipHE4)"><g filter="url(#soft2)">
<rect x="239.8" y="178.2" width="58.2" height="58.3" fill="#ecd4f0"/>
<path d="M289.4,237.7 288.5,234.7 286.6,232.9 283.7,232.1 281,232.9 278.5,235.2 277.2,237.1 277.1,238.4 280.2,239.1 286.6,239.1Z M248.3,218.5 246,216.9 245.4,215 246.5,212.8 248.2,211.6 250.6,211.7 252.3,212.4 253.2,213.8 253.6,215.2 253.2,216.6 252.2,217.8 250.3,218.8Z M259.1,213.8 256.1,214.4 254.4,215.4 254.1,216.8 255,218.5 257,220.4 259.2,220.5 261.7,218.7 262.3,216.7 261.2,214.6Z M292.4,186 291.4,187.9 289.3,188.6 286.4,188.3 284.6,187.3 284.2,185.7 284.4,184.2 285.3,183 287.2,182.5 290,182.7 291.8,183.4 292.6,184.6Z M239,193.8 242,195.1 243.3,197.8 242.7,201.9 241.1,204.1 238.7,204.4 237.4,201.7 237.4,196Z M291.5,191 292.4,193.4 291.1,195.6 287.8,197.6 285.2,197.2 283.2,194.3 282.8,191.9 283.8,190 286,189.3 289.4,189.7Z M289,203.9 290.4,204.7 293.2,204.5 297.4,203 299.6,201.3 299.6,199.3 298,197.6 294.7,196.3 291.6,196.6 288.6,198.4 287.1,199.6 287,200.1 287.3,201.1 288,202.7Z M273.8,182.7 273.1,183.5 271.1,183.9 267.8,183.8 265.1,182.1 263,178.9 261.9,176.9 261.9,176 264.9,175.6 271.1,175.6 274.1,177.2 274.1,180.6Z M251.1,237.7 251.3,234.5 252.7,232.6 255.2,231.9 257.1,233.5 258.4,237.3 257,239.2 253,239.2Z M251.5,224.7 255.1,225.1 257.1,224.4 257.4,222.7 256.5,221 254.5,219.1 252.5,218.6 250.7,219.5 249.8,221.1 249.7,223.4Z M273.4,217.2 275.9,218 277.7,219.5 278.6,221.9 278.9,223.3 278.6,223.9 277.6,224.4 275.8,224.9 273.6,224.2 271,222.5 269.5,221.1 269.4,220.2 270,219 271.4,217.5Z M258.9,212.8 256.1,213.4 254.2,213 253.3,211.7 253.4,210 254.6,207.8 256.5,206.9 259.3,207.5 260.9,207.9 261.1,208.3 261,209.5 260.6,211.5Z M248.4,188.8 248,186 247.8,184.6 247.6,184.4 245.2,184.9 240.5,185.9 238.2,187.6 238.2,190.1 239.7,191.9 242.8,193.2 244.8,193.8 245.7,193.6 246.7,192.6 247.9,191Z M238.4,229.5 237.5,229.5 237.1,231.9 237.1,236.6 238.5,239 241.2,239 242.8,237.5 243.2,234.6 242.2,232.3 240,230.4Z M245.5,212.3 244.4,214.5 243.1,215.9 241.6,216.4 240,216.5 238.3,216.2 237.4,213.6 237.4,208.8 238.7,206.3 241.4,206 242.9,205.9 243.4,206.1 244.3,207.5 245.5,210Z M273.7,211 276.5,209.4 278.7,209 280.1,209.9 281,210.9 281.5,212.3 280.7,213.9 278.8,216 276.4,216.6 273.6,215.7 272.3,214.5 272.3,212.7Z M273.6,198 271.3,197.5 269.7,197.9 268.8,199.4 268.9,200.9 270.1,202.5 271.8,202.9 274.2,202.1 275.2,200.8 274.9,199.1Z M256.2,195.8 255.6,193.3 253.9,191.8 251.2,191.2 249.1,191.8 247.8,193.6 248.6,195.8 251.3,198.4 253.7,199 255.5,197.7Z M248.8,226 249.3,225.5 251.4,225.4 255.1,225.7 257.2,226.4 257.8,227.5 257.6,228.8 256.7,230.3 255,231.3 252.6,232 250.7,231.9 249.5,230.9 248.8,229.4 248.6,227.3Z M282.8,208.2 285.6,205.4 286.7,203.2 285.9,201.5 283.6,201.2 279.6,202.4 277.8,204.2 278.2,206.6 279.2,208.2 280.6,209.1Z M253.1,207.3 252.1,209.4 250.5,210.5 248.4,210.4 246.8,209.3 245.7,207 246.8,205.2 250.2,203.9 252.3,204 253.2,205.5Z M263,193.3 261.4,195.8 259.8,196.9 258.3,196.6 257.2,195.3 256.7,193.1 257,191.3 258.1,190 259.7,189.4 261.7,189.7 263,190.4 263.6,191.4Z M241.7,223.2 240.8,220.1 239.6,218.5 238,218.1 237.2,220.5 237.2,225.5 237.6,228 238.4,228 239.7,227.1 241.3,225.5Z M291.7,180.1 292.3,177.3 290.8,175.9 287.1,175.9 285.5,177.2 285.8,179.8 287.3,181.2 290.1,181.4Z M254.4,182.9 251.3,182.9 249.7,182.8 249.5,182.6 249.4,180.9 249.5,177.7 252,176.1 257.2,176.1 259.8,176.5 259.8,177.3 258.8,179 256.9,181.6Z M295.8,184.7 299,184.6 300.6,182.3 300.6,177.9 298.9,175.6 295.5,175.6 293.5,177.3 292.8,180.5 292.9,182.8 293.7,184Z M289.5,221.4 291.8,220.1 293.3,218.5 293.8,216.6 293.3,215 291.6,213.7 289.7,213.6 287.5,214.4 286.6,216.5 286.8,219.7 287.3,221.5 288,221.8Z M277.4,202 277,201.7 276.6,200.6 276.2,198.8 276.7,196.9 278,194.9 279.4,193.9 280.8,193.7 282.5,194.9 284.4,197.7 285.3,199.3 285.2,199.7 283.3,200.5 279.5,201.6Z M244.2,225.6 246.6,226 247.9,227.3 248,229.4 247,231 244.9,232.1 242.7,231.7 240.4,229.9 240.2,228 242.1,226.2Z M274.4,190.6 276.5,192.4 276.9,194.3 275.7,196.3 273.8,196.9 271.5,196.3 270.1,195.3 269.6,193.9 270.3,192.3 272.3,190.5Z M289.1,224.3 290.2,227.4 292.8,228.3 297,227.1 297.6,225 294.8,221.9 292.2,220.9 289.8,222.2Z M242.6,223 241.6,219.6 241.9,217.6 243.6,217 245.5,217.5 247.8,219.1 249,221.1 248.9,223.4 248.6,224.8 248.2,225.3 246.7,225.4 244.3,224.9Z M261.9,188.5 259.8,188.2 258.3,187 257.5,184.9 258.1,182.4 260.2,179.5 262.3,179.6 264.3,182.6 264.8,185.2 263.6,187.5Z" fill="#d862cc" stroke="#d862cc" stroke-width="0.5" stroke-linejoin="round"/>
<path d="M291.6,210.7 291.6,208 293.7,205.9 298,204.4 300.2,206.1 300.2,210.8 298.9,213.5 296.2,214.1 294,213.9 292.4,212.7Z M284.4,221.4 282,222.1 280.2,221.2 279.3,218.9 279.7,216.8 281.5,214.9 283.1,214.3 284.5,214.9 285.4,216.7 285.6,219.6Z M256,190.5 257.2,189.1 257.3,187.4 256.5,185.4 254.4,184.3 251,184.2 249.5,185.7 249.9,188.6 251.4,190.3 254.1,190.9Z M264,193.9 262.3,196.5 261.8,198.3 262.7,199.4 264.1,199.9 266.2,199.7 267.7,198.9 268.6,197.3 268.9,195.8 268.4,194.3 267.3,193.4 265.6,192.8Z M267.4,225.3 268.3,223.5 270.2,223.5 272.9,225.4 273.8,227.5 272.8,229.8 271.6,231 270.3,231 269,229.8 267.7,227.4Z M295.8,185.8 298.8,185.7 300.3,188.5 300.3,194 298.7,196.1 295.3,194.8 293.3,193 292.5,190.8 292.6,188.7 293.7,186.8Z M288.1,224.7 289,227.5 289.1,229.7 288.4,231.1 286.7,231.5 284,230.8 282.2,229.1 281.1,226.5 280.6,224.9 280.9,224.3 282.4,223.7 284.9,223 286.6,222.8 287.2,223.1Z M277.9,234.5 280.4,232.2 281,229.7 279.8,226.9 278.3,225.7 276.3,226.3 274.8,227.8 273.7,230.2 274,232.5 275.8,234.6Z M293.1,229.2 297.1,228 299.4,227.5 300,227.6 300.3,230.4 300.3,235.9 298,238.6 293.5,238.6 290.7,237.2 289.9,234.3 289.8,232.1 290.6,230.6Z M280.5,184.8 277,183.9 275,183.8 274.4,184.6 274.1,185.9 274.2,187.7 275.3,189.5 277.4,191.4 279.1,192.2 280.5,192.1 281.6,191.1 282.6,189.4 282.8,187.8 282.4,186.1Z M271.7,189.7 269.6,191.6 267.7,192.2 266,191.7 264.8,190.8 264.2,189.7 264.5,188 265.7,185.7 267.8,184.7 270.9,184.8 272.5,185.9 272.6,187.8Z M266.9,227.8 268.2,230.2 268.1,232.2 266.4,233.7 264.6,233 262.6,230.2 262.7,228.2 265.1,227.2Z M295.5,221.4 298.1,224.3 299.7,225.9 300.3,226 300.6,223.2 300.6,217.5 299.2,215 296.5,215.7 294.9,217 294.4,218.9Z M262.2,207.6 261.9,207.2 262.1,205.5 262.7,202.5 264,200.9 266.2,200.8 267.9,201.5 269.2,203.3 269.5,205.1 268.9,207.1 267,208 263.9,207.9Z M247.8,177.5 247.8,181.1 245.1,183.6 239.9,184.7 237.3,182.8 237.3,178 239.9,175.6 245.2,175.6Z M251.5,201.5 251.6,200.7 250.5,199.1 247.9,196.7 246.2,195.6 245.3,195.8 244.6,198 244,202.1 243.9,204.3 244.3,204.5 246.3,203.9 249.7,202.6Z M270.4,232.1 271.8,232 273.3,233.1 275.1,235.3 275.9,237 275.9,238.4 273.2,239.1 267.9,239.1 265.5,238.2 265.9,236.3 267,234.5 268.8,232.9Z M285.2,213.7 283.6,213 282.5,212 282.1,210.6 283.3,208.6 286,205.9 288.2,205.1 289.7,206 290.4,207.9 290.4,210.7 289.3,212.6 287.1,213.6Z M262.5,214.1 263.6,216.1 265,217.3 266.8,217.9 268.5,217.4 269.9,216 270.6,214.5 270.6,212.9 270.1,211.4 269,210.1 267.1,209.4 264.3,209.3 262.7,210.2 262.2,212.2Z M256.4,205.9 259.5,206.5 261.3,205.2 261.9,202.2 261.7,200.1 260.8,198.9 259.5,198.2 257.9,197.8 256.1,198.4 254.2,199.8 253.1,200.9 252.9,201.8 253.4,203 254.4,204.7Z M270.1,207.1 270.7,205.3 272.2,204 274.6,203.2 276,203 276.3,203.3 276.7,204.5 277.1,206.6 275.9,208.4 273.3,209.9 271.5,210 270.4,208.7Z M260.3,229 259.4,228.9 258.4,229.5 257.6,230.9 257.8,233.4 259,236.9 260.7,238.7 263,238.7 264.3,237.8 264.7,236 263.9,233.6 261.8,230.6Z M244,234.8 243.6,237.6 245.1,239 248.6,239 250.4,237.5 250.6,234.5 250.1,232.6 248.9,231.6 247.3,231.7 245.2,232.8Z M280.9,183.7 277.1,182.7 275.2,180.6 275.2,177.3 277.4,175.7 281.8,175.7 284.2,177.1 284.5,180.1 284.2,182.3 283.3,183.6Z M266.2,224.7 267.1,222.9 267.4,221.5 267.2,220.5 266.2,219.7 264.3,219.1 262.2,219.7 259.9,221.3 258.7,223 258.4,224.5 258.5,225.8 259,226.8 259.7,227.4 260.6,227.5 262.2,227.1 264.6,226.1Z" fill="#d25ac6" stroke="#d25ac6" stroke-width="0.5" stroke-linejoin="round"/>
<circle cx="288.81" cy="228.69" r="0.45" fill="#5a3aa8"/>
<circle cx="250.55" cy="181.65" r="0.45" fill="#5a3aa8"/>
<circle cx="277.07" cy="191.86" r="0.45" fill="#5a3aa8"/>
<circle cx="272.35" cy="231.5" r="0.45" fill="#5a3aa8"/>
<circle cx="262.36" cy="193.93" r="0.45" fill="#5a3aa8"/>
<circle cx="266.54" cy="215.89" r="0.45" fill="#5a3aa8"/>
<circle cx="247.28" cy="200.87" r="0.45" fill="#5a3aa8"/>
<circle cx="249.05" cy="216.17" r="0.45" fill="#5a3aa8"/>
<circle cx="286.82" cy="200.66" r="0.45" fill="#5a3aa8"/>
<circle cx="261.95" cy="209.5" r="0.45" fill="#5a3aa8"/>
<circle cx="253.46" cy="193.63" r="0.45" fill="#5a3aa8"/>
<circle cx="259.68" cy="205.04" r="0.45" fill="#5a3aa8"/>
<circle cx="246.22" cy="221.07" r="0.45" fill="#5a3aa8"/>
<circle cx="273.18" cy="196.47" r="0.45" fill="#5a3aa8"/>
<circle cx="246" cy="221.64" r="0.45" fill="#5a3aa8"/>
<circle cx="248.9" cy="187.43" r="0.45" fill="#5a3aa8"/>
<circle cx="248.88" cy="184.61" r="0.45" fill="#5a3aa8"/>
<circle cx="290.93" cy="194.82" r="0.45" fill="#5a3aa8"/>
<circle cx="258.41" cy="225.42" r="0.45" fill="#5a3aa8"/>
<circle cx="275.4" cy="190.36" r="0.45" fill="#5a3aa8"/>
<circle cx="265.37" cy="228.2" r="0.45" fill="#5a3aa8"/>
<circle cx="262.15" cy="218.8" r="0.45" fill="#5a3aa8"/>
<circle cx="247.05" cy="219.69" r="0.45" fill="#5a3aa8"/>
<circle cx="283.88" cy="225.04" r="0.45" fill="#5a3aa8"/>
<circle cx="278.34" cy="200.33" r="0.45" fill="#5a3aa8"/>
<circle cx="245.28" cy="208.37" r="0.45" fill="#5a3aa8"/>
<circle cx="282.85" cy="190.56" r="0.45" fill="#5a3aa8"/>
<circle cx="256.23" cy="209.31" r="0.45" fill="#5a3aa8"/>
<circle cx="282.36" cy="228.88" r="0.45" fill="#5a3aa8"/>
<circle cx="248.62" cy="190.21" r="0.45" fill="#5a3aa8"/>
</g></g>
<g clip-path="url(#clipMS0)"><g filter="url(#soft2)">
<rect x="15.9" y="234.2" width="58.2" height="58.3" fill="#c8184e"/>
<path d="M15.9,234.75 L74.1,255.93 L74.1,259.07 L15.9,237.88 Z M15.9,241.52 L74.1,262.71 L74.1,266.94 L15.9,245.76 Z M15.9,245.76 L74.1,266.94 L74.1,272.9 L15.9,251.71 Z M15.9,251.71 L74.1,272.9 L74.1,276.27 L15.9,255.09 Z M15.9,259.12 L74.1,280.3 L74.1,283.57 L15.9,262.39 Z M15.9,268.51 L74.1,289.7 L74.1,295.73 L15.9,274.55 Z M15.9,277.79 L74.1,298.98 L74.1,302.13 L15.9,280.95 Z M15.9,280.95 L74.1,302.13 L74.1,306.39 L15.9,285.21 Z M15.9,285.21 L74.1,306.39 L74.1,312.19 L15.9,291.01 Z" fill="#b8165a"/>
<path d="M15.9,211.12 L30.45,215.84 L45,221.26 L59.55,227.33 L74.1,231.77 M15.9,221.64 L30.45,226.67 L45,232.4 L59.55,236.92 L74.1,242.56 M15.9,226.74 L30.45,232.6 L45,237.96 L59.55,242.52 L74.1,248.16 M15.9,231.35 L30.45,236.36 L45,242.18 L59.55,247.01 L74.1,253 M15.9,234.6 L30.45,240.02 L45,245.75 L59.55,250.84 L74.1,255.77 M15.9,237.84 L30.45,243.37 L45,248.03 L59.55,253.31 L74.1,259.41 M15.9,241.11 L30.45,246.49 L45,251.64 L59.55,257.75 L74.1,262.67 M15.9,245.32 L30.45,251.15 L45,256.75 L59.55,261.17 L74.1,267.25 M15.9,251.51 L30.45,257.24 L45,262.3 L59.55,267.96 L74.1,272.62 M15.9,255.53 L30.45,260.22 L45,265.61 L59.55,270.79 L74.1,276.52 M15.9,258.86 L30.45,264.76 L45,269.95 L59.55,275.05 L74.1,280.46 M15.9,268.37 L30.45,273.47 L45,279.6 L59.55,284.04 L74.1,289.44 M15.9,274.69 L30.45,279.51 L45,285.14 L59.55,290.02 L74.1,295.84 M15.9,277.85 L30.45,283.23 L45,288.21 L59.55,293.82 L74.1,298.83 M15.9,291.27 L30.45,296.07 L45,301.89 L59.55,306.65 L74.1,311.83" fill="none" stroke="#7040b8" stroke-width="0.7" opacity="0.6"/>
<path d="M39.03,249.59 Q44.42,253 50.73,253.85 Q45.35,250.44 39.03,249.59 Z" fill="#e8c8f0"/>
<path d="M26.1,268.26 Q30.38,271.42 35.7,271.75 Q31.41,268.59 26.1,268.26 Z" fill="#e8c8f0"/>
<path d="M26.6,277.01 Q33.18,280.85 40.68,282.14 Q34.1,278.3 26.6,277.01 Z" fill="#8a78cc" opacity="0.8"/>
<path d="M48.24,262.11 Q53.79,266.02 60.55,266.59 Q55,262.68 48.24,262.11 Z" fill="#8a78cc" opacity="0.8"/>
<path d="M15.31,251.01 Q22.82,254.62 30.9,256.68 Q23.39,253.06 15.31,251.01 Z" fill="#8a78cc" opacity="0.8"/>
</g></g>
<g clip-path="url(#clipMS1)"><g filter="url(#soft2)">
<rect x="71.8" y="234.2" width="58.2" height="58.3" fill="#d41e50"/>
<path d="M71.8,216.87 L130,254.66 L130,262 L71.8,224.21 Z M71.8,224.21 L130,262 L130,267.61 L71.8,229.82 Z M71.8,243.43 L130,281.23 L130,287.79 L71.8,249.99 Z M71.8,275.24 L130,313.03 L130,317.35 L71.8,279.56 Z M71.8,290.66 L130,328.46 L130,335.4 L71.8,297.6 Z" fill="#c41a4a"/>
<path d="M71.8,194.09 L86.35,203.53 L100.9,213.15 L115.45,222.48 L130,232.37 M71.8,198.71 L86.35,208.7 L100.9,217.71 L115.45,227.31 L130,236.92 M71.8,213.11 L86.35,222.78 L100.9,231.76 L115.45,241.02 L130,251.05 M71.8,216.5 L86.35,226.58 L100.9,235.28 L115.45,245.66 L130,254.3 M71.8,230.22 L86.35,239.05 L100.9,248.44 L115.45,258.61 L130,268.06 M71.8,236.44 L86.35,245.02 L100.9,255.29 L115.45,264.34 L130,273.73 M71.8,249.73 L86.35,259.83 L100.9,269.09 L115.45,277.91 L130,287.5 M71.8,261.48 L86.35,271.67 L100.9,280.33 L115.45,290.15 L130,299.2 M71.8,268.26 L86.35,278.04 L100.9,287.55 L115.45,296.68 L130,306.37 M71.8,279.56 L86.35,288.99 L100.9,298.65 L115.45,307.65 L130,317.61 M71.8,290.17 L86.35,300.44 L100.9,309.54 L115.45,319.36 L130,328.46" fill="none" stroke="#8a58b8" stroke-width="1.4" opacity="0.5"/>
<path d="M71.8,194.09 L86.35,203.53 L100.9,213.15 L115.45,222.48 L130,232.37 M71.8,198.71 L86.35,208.7 L100.9,217.71 L115.45,227.31 L130,236.92 M71.8,213.11 L86.35,222.78 L100.9,231.76 L115.45,241.02 L130,251.05 M71.8,216.5 L86.35,226.58 L100.9,235.28 L115.45,245.66 L130,254.3 M71.8,230.22 L86.35,239.05 L100.9,248.44 L115.45,258.61 L130,268.06 M71.8,236.44 L86.35,245.02 L100.9,255.29 L115.45,264.34 L130,273.73 M71.8,249.73 L86.35,259.83 L100.9,269.09 L115.45,277.91 L130,287.5 M71.8,261.48 L86.35,271.67 L100.9,280.33 L115.45,290.15 L130,299.2 M71.8,268.26 L86.35,278.04 L100.9,287.55 L115.45,296.68 L130,306.37 M71.8,279.56 L86.35,288.99 L100.9,298.65 L115.45,307.65 L130,317.61 M71.8,290.17 L86.35,300.44 L100.9,309.54 L115.45,319.36 L130,328.46" fill="none" stroke="#f4e6f2" stroke-width="0.7" opacity="0.75"/>
<path d="M74.02,276.64 Q77.33,279.81 81.57,281.54 Q78.27,278.36 74.02,276.64 Z" fill="#f8eef6"/>
<path d="M92,247.82 Q95.12,251.72 99.96,252.98 Q96.84,249.08 92,247.82 Z" fill="#f8eef6"/>
<path d="M95.93,288.12 Q98.68,291.13 102.55,292.42 Q99.8,289.41 95.93,288.12 Z" fill="#f8eef6"/>
<path d="M115.73,256.05 Q120.93,260.83 127.41,263.63 Q122.21,258.85 115.73,256.05 Z" fill="#f8eef6"/>
<path d="M91.68,281.64 Q95.09,285.4 99.92,286.99 Q96.51,283.22 91.68,281.64 Z" fill="#f8eef6"/>
<path d="M101.09,236.4 Q103.88,239.36 107.71,240.7 Q104.92,237.75 101.09,236.4 Z" fill="#f8eef6"/>
<path d="M66.84,268.69 Q73.33,274.26 81.05,277.92 Q74.57,272.34 66.84,268.69 Z" fill="#8a78cc" opacity="0.8"/>
<path d="M87.23,242.11 Q102.58,255.18 120.77,263.89 Q105.42,250.82 87.23,242.11 Z" fill="#8e90d8" opacity="0.85"/>
<path d="M87.61,257.55 Q94.26,265.68 104.39,268.45 Q97.74,260.32 87.61,257.55 Z" fill="#f8f4f8"/>
<path d="M102.77,262.01 Q110.58,270.18 121.23,273.99 Q113.42,265.82 102.77,262.01 Z" fill="#f4eef6"/>
<path d="M110.45,271.1 Q116.91,277.68 125.55,280.9 Q119.09,274.32 110.45,271.1 Z" fill="#9a98dc" opacity="0.8"/>
</g></g>
<g clip-path="url(#clipMS2)"><g filter="url(#soft2)">
<rect x="127.8" y="234.2" width="58.2" height="58.3" fill="#d21c54"/>
<path d="M127.8,215.67 L186,246.61 L186,252.19 L127.8,221.24 Z M127.8,262.76 L186,293.7 L186,299.44 L127.8,268.49 Z M127.8,280.1 L186,311.05 L186,317.81 L127.8,286.87 Z M127.8,294.39 L186,325.34 L186,330.69 L127.8,299.74 Z" fill="#c2184e"/>
<path d="M127.8,201.57 L142.35,208.75 L156.9,216.3 L171.45,224.91 L186,232.31 M127.8,208.15 L142.35,216.41 L156.9,223.41 L171.45,231.51 L186,239.62 M127.8,215.98 L142.35,223.4 L156.9,230.89 L171.45,239.15 L186,247.09 M127.8,220.77 L142.35,229.08 L156.9,237.18 L171.45,244.07 L186,251.91 M127.8,240.91 L142.35,248.58 L156.9,255.81 L171.45,263.44 L186,271.44 M127.8,246.13 L142.35,253.43 L156.9,261.59 L171.45,269.3 L186,277.6 M127.8,250.3 L142.35,257.62 L156.9,265.97 L171.45,273.07 L186,280.97 M127.8,257.39 L142.35,264.86 L156.9,272.92 L171.45,281.12 L186,288.86 M127.8,268.72 L142.35,276.46 L156.9,283.92 L171.45,291.89 L186,299.77 M127.8,273.48 L142.35,281.14 L156.9,288.79 L171.45,296.9 L186,304.28 M127.8,294.42 L142.35,301.89 L156.9,310 L171.45,317.44 L186,325.79" fill="none" stroke="#8a58b8" stroke-width="1.3" opacity="0.5"/>
<path d="M127.8,201.57 L142.35,208.75 L156.9,216.3 L171.45,224.91 L186,232.31 M127.8,208.15 L142.35,216.41 L156.9,223.41 L171.45,231.51 L186,239.62 M127.8,215.98 L142.35,223.4 L156.9,230.89 L171.45,239.15 L186,247.09 M127.8,220.77 L142.35,229.08 L156.9,237.18 L171.45,244.07 L186,251.91 M127.8,240.91 L142.35,248.58 L156.9,255.81 L171.45,263.44 L186,271.44 M127.8,246.13 L142.35,253.43 L156.9,261.59 L171.45,269.3 L186,277.6 M127.8,250.3 L142.35,257.62 L156.9,265.97 L171.45,273.07 L186,280.97 M127.8,257.39 L142.35,264.86 L156.9,272.92 L171.45,281.12 L186,288.86 M127.8,268.72 L142.35,276.46 L156.9,283.92 L171.45,291.89 L186,299.77 M127.8,273.48 L142.35,281.14 L156.9,288.79 L171.45,296.9 L186,304.28 M127.8,294.42 L142.35,301.89 L156.9,310 L171.45,317.44 L186,325.79" fill="none" stroke="#e8d0ec" stroke-width="0.7" opacity="0.7"/>
<path d="M156.65,265.43 Q160.55,269.51 166.12,270.46 Q162.21,266.38 156.65,265.43 Z" fill="#f8eef6"/>
<path d="M127.99,274.38 Q131.77,277.26 136.27,278.78 Q132.49,275.9 127.99,274.38 Z" fill="#f8eef6"/>
<path d="M132.83,273.41 Q138.8,278.35 146.23,280.54 Q140.26,275.6 132.83,273.41 Z" fill="#f8eef6"/>
<path d="M140.19,260.48 Q144.66,264.24 150.28,265.84 Q145.81,262.09 140.19,260.48 Z" fill="#8a78cc" opacity="0.8"/>
<path d="M137.82,234.75 Q142.96,239.44 149.73,241.08 Q144.59,236.39 137.82,234.75 Z" fill="#8a78cc" opacity="0.8"/>
<path d="M153.55,248.4 Q157.77,252.57 163.58,253.74 Q159.36,249.57 153.55,248.4 Z" fill="#8a78cc" opacity="0.8"/>
<path d="M142.29,256.84 Q150.36,265.09 161.71,267.16 Q153.64,258.91 142.29,256.84 Z" fill="#e8e0f4"/>
<path d="M152.05,253.77 Q158.87,260.12 167.95,262.23 Q161.13,255.88 152.05,253.77 Z" fill="#8a86d0" opacity="0.8"/>
<path d="M141.82,266.71 Q147.06,271.77 154.18,273.29 Q148.94,268.23 141.82,266.71 Z" fill="#f6f0f8"/>
<path d="M141.17,245.31 Q149.25,251.41 158.83,254.69 Q150.75,248.59 141.17,245.31 Z" fill="#9a90d8" opacity="0.8"/>
</g></g>
<g clip-path="url(#clipMS3)"><g filter="url(#soft2)">
<rect x="183.7" y="234.2" width="58.2" height="58.3" fill="#cc1a52"/>
<path d="M183.7,186.73 L241.9,232.2 L241.9,239.79 L183.7,194.32 Z M183.7,204.86 L241.9,250.33 L241.9,257.14 L183.7,211.67 Z M183.7,219.96 L241.9,265.43 L241.9,269.95 L183.7,224.48 Z M183.7,231.38 L241.9,276.85 L241.9,284.26 L183.7,238.79 Z M183.7,243.08 L241.9,288.55 L241.9,292.18 L183.7,246.71 Z M183.7,246.71 L241.9,292.18 L241.9,296.09 L183.7,250.62 Z M183.7,250.62 L241.9,296.09 L241.9,301.91 L183.7,256.44 Z M183.7,275.5 L241.9,320.97 L241.9,328.6 L183.7,283.13 Z M183.7,287.91 L241.9,333.38 L241.9,341.37 L183.7,295.9 Z M183.7,295.9 L241.9,341.37 L241.9,347.09 L183.7,301.62 Z" fill="#bc184c"/>
<path d="M183.7,194.56 L198.25,205.25 L212.8,217.2 L227.35,228.66 L241.9,239.69 M183.7,200.63 L198.25,211.33 L212.8,222.86 L227.35,234.66 L241.9,245.68 M183.7,219.63 L198.25,231.64 L212.8,242.86 L227.35,253.84 L241.9,265.58 M183.7,243.56 L198.25,254.65 L212.8,265.88 L227.35,277.14 L241.9,288.63 M183.7,250.15 L198.25,261.85 L212.8,273.65 L227.35,284.58 L241.9,295.88 M183.7,255.98 L198.25,267.55 L212.8,278.75 L227.35,290.19 L241.9,301.66 M183.7,262.69 L198.25,274.47 L212.8,285.71 L227.35,296.87 L241.9,308.46 M183.7,271.42 L198.25,282.37 L212.8,294.34 L227.35,305.97 L241.9,316.41 M183.7,275.08 L198.25,287.12 L212.8,298.07 L227.35,309.41 L241.9,321.24 M183.7,282.78 L198.25,294.07 L212.8,305.45 L227.35,317.25 L241.9,328.47 M183.7,288.18 L198.25,299.36 L212.8,310.77 L227.35,321.54 L241.9,332.93" fill="none" stroke="#8a58b8" stroke-width="1.3" opacity="0.45"/>
<path d="M183.7,194.56 L198.25,205.25 L212.8,217.2 L227.35,228.66 L241.9,239.69 M183.7,200.63 L198.25,211.33 L212.8,222.86 L227.35,234.66 L241.9,245.68 M183.7,219.63 L198.25,231.64 L212.8,242.86 L227.35,253.84 L241.9,265.58 M183.7,243.56 L198.25,254.65 L212.8,265.88 L227.35,277.14 L241.9,288.63 M183.7,250.15 L198.25,261.85 L212.8,273.65 L227.35,284.58 L241.9,295.88 M183.7,255.98 L198.25,267.55 L212.8,278.75 L227.35,290.19 L241.9,301.66 M183.7,262.69 L198.25,274.47 L212.8,285.71 L227.35,296.87 L241.9,308.46 M183.7,271.42 L198.25,282.37 L212.8,294.34 L227.35,305.97 L241.9,316.41 M183.7,275.08 L198.25,287.12 L212.8,298.07 L227.35,309.41 L241.9,321.24 M183.7,282.78 L198.25,294.07 L212.8,305.45 L227.35,317.25 L241.9,328.47 M183.7,288.18 L198.25,299.36 L212.8,310.77 L227.35,321.54 L241.9,332.93" fill="none" stroke="#f4e6f2" stroke-width="0.65" opacity="0.75"/>
<path d="M192.71,255.16 Q195.44,258.9 199.72,260.65 Q196.99,256.91 192.71,255.16 Z" fill="#f8eef6"/>
<path d="M186.54,249.75 Q191.78,256.01 199.12,259.58 Q193.88,253.31 186.54,249.75 Z" fill="#f8eef6"/>
<path d="M180.77,250.68 Q185.41,256.36 192.05,259.49 Q187.41,253.81 180.77,250.68 Z" fill="#f8eef6"/>
<path d="M195.18,266.08 Q201.99,272.93 210.27,277.87 Q203.47,271.03 195.18,266.08 Z" fill="#8a78cc" opacity="0.8"/>
</g></g>
<g clip-path="url(#clipMS4)"><g filter="url(#soft2)">
<rect x="239.8" y="234.2" width="58.2" height="58.3" fill="#d41c4e"/>
<path d="M239.8,216.72 L298,243.86 L298,248.87 L239.8,221.73 Z M239.8,228.4 L298,255.54 L298,259.17 L239.8,232.03 Z M239.8,232.03 L298,259.17 L298,264.53 L239.8,237.39 Z M239.8,249.68 L298,276.82 L298,281.26 L239.8,254.12 Z M239.8,254.12 L298,281.26 L298,285.48 L239.8,258.34 Z M239.8,295.1 L298,322.24 L298,329.91 L239.8,302.77 Z" fill="#c01848"/>
<path d="M239.8,204.91 L254.35,211.39 L268.9,218.7 L283.45,225.06 L298,232.42 M239.8,221.6 L254.35,228.61 L268.9,235.05 L283.45,242.39 L298,248.63 M239.8,228.26 L254.35,234.85 L268.9,241.73 L283.45,248.45 L298,255.08 M239.8,237.66 L254.35,244.54 L268.9,251.02 L283.45,257.58 L298,264.88 M239.8,242.4 L254.35,249.56 L268.9,256.43 L283.45,263.4 L298,269.64 M239.8,249.25 L254.35,256.66 L268.9,262.81 L283.45,270 L298,277.32 M239.8,253.88 L254.35,260.6 L268.9,267.45 L283.45,274.28 L298,281.21 M239.8,257.87 L254.35,265.09 L268.9,272.03 L283.45,278.67 L298,285.64 M239.8,264.78 L254.35,271.32 L268.9,278.36 L283.45,284.98 L298,291.96 M239.8,271.86 L254.35,278.36 L268.9,285.61 L283.45,292.45 L298,298.77 M239.8,276.63 L254.35,283.44 L268.9,289.5 L283.45,296.47 L298,303.92 M239.8,288.56 L254.35,295.99 L268.9,302.99 L283.45,309.54 L298,316.2 M239.8,295.38 L254.35,301.88 L268.9,308.73 L283.45,314.98 L298,322.54" fill="none" stroke="#8050b0" stroke-width="1.4" opacity="0.5"/>
<path d="M239.8,204.91 L254.35,211.39 L268.9,218.7 L283.45,225.06 L298,232.42 M239.8,221.6 L254.35,228.61 L268.9,235.05 L283.45,242.39 L298,248.63 M239.8,228.26 L254.35,234.85 L268.9,241.73 L283.45,248.45 L298,255.08 M239.8,237.66 L254.35,244.54 L268.9,251.02 L283.45,257.58 L298,264.88 M239.8,242.4 L254.35,249.56 L268.9,256.43 L283.45,263.4 L298,269.64 M239.8,249.25 L254.35,256.66 L268.9,262.81 L283.45,270 L298,277.32 M239.8,253.88 L254.35,260.6 L268.9,267.45 L283.45,274.28 L298,281.21 M239.8,257.87 L254.35,265.09 L268.9,272.03 L283.45,278.67 L298,285.64 M239.8,264.78 L254.35,271.32 L268.9,278.36 L283.45,284.98 L298,291.96 M239.8,271.86 L254.35,278.36 L268.9,285.61 L283.45,292.45 L298,298.77 M239.8,276.63 L254.35,283.44 L268.9,289.5 L283.45,296.47 L298,303.92 M239.8,288.56 L254.35,295.99 L268.9,302.99 L283.45,309.54 L298,316.2 M239.8,295.38 L254.35,301.88 L268.9,308.73 L283.45,314.98 L298,322.54" fill="none" stroke="#f4e8f4" stroke-width="0.75" opacity="0.8"/>
<path d="M285.78,284.95 Q292.02,289.46 299.49,291.34 Q293.25,286.83 285.78,284.95 Z" fill="#f8eef6"/>
<path d="M246.69,244.82 Q251.02,247.82 256.11,249.21 Q251.78,246.2 246.69,244.82 Z" fill="#f8eef6"/>
<path d="M287.12,257.39 Q292.81,261.01 299.23,263.04 Q293.55,259.42 287.12,257.39 Z" fill="#f8eef6"/>
<path d="M266.98,238.59 Q272.2,242.81 278.8,244.1 Q273.57,239.88 266.98,238.59 Z" fill="#8a78cc" opacity="0.8"/>
<path d="M257.82,276.77 Q264.63,281.38 272.53,283.63 Q265.72,279.02 257.82,276.77 Z" fill="#8a78cc" opacity="0.8"/>
</g></g>
<text x="66.1" y="227.2" font-size="6" text-anchor="end" stroke="#111" stroke-width="0.2" textLength="16" lengthAdjust="spacingAndGlyphs">100 &#956;m</text>
<line x1="51.6" y1="229.5" x2="65.5" y2="229.5" stroke="#111" stroke-width="0.9"/>
<text x="66.1" y="282.4" font-size="6" text-anchor="end" stroke="#111" stroke-width="0.2" textLength="16" lengthAdjust="spacingAndGlyphs">100 &#956;m</text>
<line x1="51.6" y1="284.7" x2="65.5" y2="284.7" stroke="#111" stroke-width="0.9"/>
<text x="122" y="227.2" font-size="6" text-anchor="end" stroke="#111" stroke-width="0.2" textLength="16" lengthAdjust="spacingAndGlyphs">100 &#956;m</text>
<line x1="107.5" y1="229.5" x2="121.4" y2="229.5" stroke="#111" stroke-width="0.9"/>
<text x="122" y="282.4" font-size="6" text-anchor="end" stroke="#111" stroke-width="0.2" textLength="16" lengthAdjust="spacingAndGlyphs">100 &#956;m</text>
<line x1="107.5" y1="284.7" x2="121.4" y2="284.7" stroke="#111" stroke-width="0.9"/>
<text x="178" y="227.2" font-size="6" text-anchor="end" stroke="#111" stroke-width="0.2" textLength="16" lengthAdjust="spacingAndGlyphs">100 &#956;m</text>
<line x1="163.5" y1="229.5" x2="177.4" y2="229.5" stroke="#111" stroke-width="0.9"/>
<text x="178" y="282.4" font-size="6" text-anchor="end" stroke="#111" stroke-width="0.2" textLength="16" lengthAdjust="spacingAndGlyphs">100 &#956;m</text>
<line x1="163.5" y1="284.7" x2="177.4" y2="284.7" stroke="#111" stroke-width="0.9"/>
<text x="233.9" y="227.2" font-size="6" text-anchor="end" stroke="#111" stroke-width="0.2" textLength="16" lengthAdjust="spacingAndGlyphs">100 &#956;m</text>
<line x1="219.4" y1="229.5" x2="233.3" y2="229.5" stroke="#111" stroke-width="0.9"/>
<text x="233.9" y="282.4" font-size="6" text-anchor="end" stroke="#111" stroke-width="0.2" textLength="16" lengthAdjust="spacingAndGlyphs">100 &#956;m</text>
<line x1="219.4" y1="284.7" x2="233.3" y2="284.7" stroke="#111" stroke-width="0.9"/>
<text x="290" y="227.2" font-size="6" text-anchor="end" stroke="#111" stroke-width="0.2" textLength="16" lengthAdjust="spacingAndGlyphs">100 &#956;m</text>
<line x1="275.5" y1="229.5" x2="289.4" y2="229.5" stroke="#111" stroke-width="0.9"/>
<text x="290" y="282.4" font-size="6" text-anchor="end" stroke="#111" stroke-width="0.2" textLength="16" lengthAdjust="spacingAndGlyphs">100 &#956;m</text>
<line x1="275.5" y1="284.7" x2="289.4" y2="284.7" stroke="#111" stroke-width="0.9"/>
<text x="306.9" y="165.7" font-size="8.2" fill="#000" font-weight="bold">G</text>
<ellipse cx="329.8" cy="168.7" rx="1.95" ry="2.15" fill="none" stroke="#333333" stroke-width="0.9"/>
<text x="335.7" y="170.7" font-size="6.48" fill="#222" stroke="#222" stroke-width="0.2" textLength="12" lengthAdjust="spacingAndGlyphs">CON</text>
<ellipse cx="329.8" cy="175" rx="1.95" ry="2.15" fill="none" stroke="#ff5a5a" stroke-width="0.9"/>
<text x="335.7" y="177" font-size="6.48" fill="#222" stroke="#222" stroke-width="0.2" textLength="8.7" lengthAdjust="spacingAndGlyphs">IgG</text>
<ellipse cx="329.8" cy="181.4" rx="1.95" ry="2.15" fill="none" stroke="#2424d8" stroke-width="0.9"/>
<text x="335.7" y="183.4" font-size="6.48" fill="#222" stroke="#222" stroke-width="0.2" textLength="18.43" lengthAdjust="spacingAndGlyphs">&#945;PD-L1</text>
<ellipse cx="329.8" cy="187.8" rx="1.95" ry="2.15" fill="none" stroke="#ffb58a" stroke-width="0.9"/>
<text x="335.7" y="189.8" font-size="6.48" fill="#222" stroke="#222" stroke-width="0.2" textLength="38.08" lengthAdjust="spacingAndGlyphs">&#945;PD-L1+ CTSLi</text>
<ellipse cx="329.8" cy="194.2" rx="1.95" ry="2.15" fill="none" stroke="#b456f0" stroke-width="0.9"/>
<text x="335.7" y="196.2" font-size="6.48" fill="#222" stroke="#222" stroke-width="0.2" textLength="15" lengthAdjust="spacingAndGlyphs">CTSLi</text>
<line x1="379.7" y1="172.8" x2="379.7" y2="197.6" stroke="#444" stroke-width="0.7"/>
<text x="381.8" y="185.2" font-size="6.16" text-anchor="middle" fill="#222" stroke="#222" stroke-width="0.2" textLength="18.81" lengthAdjust="spacingAndGlyphs" transform="rotate(90 381.8 185.2)">TB mice</text>
<line x1="325.4" y1="206.8" x2="325.4" y2="279.7" stroke="#555" stroke-width="0.7"/>
<line x1="323.8" y1="206.8" x2="325.4" y2="206.8" stroke="#555" stroke-width="0.6"/>
<text x="321.5" y="208.9" font-size="6" text-anchor="end" fill="#333" stroke="#333" stroke-width="0.2" textLength="11.12" lengthAdjust="spacingAndGlyphs">4000</text>
<line x1="323.8" y1="225.5" x2="325.4" y2="225.5" stroke="#555" stroke-width="0.6"/>
<text x="321.5" y="227.6" font-size="6" text-anchor="end" fill="#333" stroke="#333" stroke-width="0.2" textLength="11.12" lengthAdjust="spacingAndGlyphs">3000</text>
<line x1="323.8" y1="243.6" x2="325.4" y2="243.6" stroke="#555" stroke-width="0.6"/>
<text x="321.5" y="245.7" font-size="6" text-anchor="end" fill="#333" stroke="#333" stroke-width="0.2" textLength="11.12" lengthAdjust="spacingAndGlyphs">2000</text>
<line x1="323.8" y1="261.9" x2="325.4" y2="261.9" stroke="#555" stroke-width="0.6"/>
<text x="321.5" y="264" font-size="6" text-anchor="end" fill="#333" stroke="#333" stroke-width="0.2" textLength="11.12" lengthAdjust="spacingAndGlyphs">1000</text>
<line x1="323.8" y1="279.7" x2="325.4" y2="279.7" stroke="#555" stroke-width="0.6"/>
<text x="321.5" y="281.8" font-size="6" text-anchor="end" fill="#333" stroke="#333" stroke-width="0.2" textLength="2.78" lengthAdjust="spacingAndGlyphs">0</text>
<line x1="325.4" y1="279.7" x2="396" y2="279.7" stroke="#555" stroke-width="0.8"/>
<rect x="329.9" y="229.2" width="9.8" height="50.5" fill="#97969e"/>
<rect x="343.2" y="247" width="9.5" height="32.7" fill="#ffbcbc"/>
<rect x="356.8" y="252.6" width="9" height="27.1" fill="#bcbcff"/>
<rect x="369.8" y="233.8" width="9.5" height="45.9" fill="#ffdcbe"/>
<rect x="383.6" y="235.8" width="9.3" height="43.9" fill="#e6bef6"/>
<line x1="334.8" y1="228.4" x2="334.8" y2="230" stroke="#a8a8a8" stroke-width="0.7"/>
<line x1="332.6" y1="228.4" x2="337" y2="228.4" stroke="#a8a8a8" stroke-width="0.7"/>
<line x1="332.6" y1="230" x2="337" y2="230" stroke="#a8a8a8" stroke-width="0.7"/>
<line x1="347.95" y1="246.2" x2="347.95" y2="247.8" stroke="#f23a40" stroke-width="0.7"/>
<line x1="345.75" y1="246.2" x2="350.15" y2="246.2" stroke="#f23a40" stroke-width="0.7"/>
<line x1="345.75" y1="247.8" x2="350.15" y2="247.8" stroke="#f23a40" stroke-width="0.7"/>
<line x1="361.3" y1="251.8" x2="361.3" y2="253.4" stroke="#3a3af0" stroke-width="0.7"/>
<line x1="359.1" y1="251.8" x2="363.5" y2="251.8" stroke="#3a3af0" stroke-width="0.7"/>
<line x1="359.1" y1="253.4" x2="363.5" y2="253.4" stroke="#3a3af0" stroke-width="0.7"/>
<line x1="374.55" y1="233" x2="374.55" y2="234.6" stroke="#ff8f24" stroke-width="0.7"/>
<line x1="372.35" y1="233" x2="376.75" y2="233" stroke="#ff8f24" stroke-width="0.7"/>
<line x1="372.35" y1="234.6" x2="376.75" y2="234.6" stroke="#ff8f24" stroke-width="0.7"/>
<line x1="388.25" y1="235" x2="388.25" y2="236.6" stroke="#b048ea" stroke-width="0.7"/>
<line x1="386.05" y1="235" x2="390.45" y2="235" stroke="#b048ea" stroke-width="0.7"/>
<line x1="386.05" y1="236.6" x2="390.45" y2="236.6" stroke="#b048ea" stroke-width="0.7"/>
<circle cx="333.7" cy="226.6" r="1.35" fill="none" stroke="#a8a8a8" stroke-width="0.8"/>
<circle cx="335.7" cy="226.6" r="1.35" fill="none" stroke="#a8a8a8" stroke-width="0.8"/>
<circle cx="334.2" cy="229.7" r="1.35" fill="none" stroke="#a8a8a8" stroke-width="0.8"/>
<circle cx="336.2" cy="231.2" r="1.35" fill="none" stroke="#a8a8a8" stroke-width="0.8"/>
<circle cx="334" cy="231" r="1.35" fill="none" stroke="#a8a8a8" stroke-width="0.8"/>
<circle cx="348" cy="244.3" r="1.35" fill="none" stroke="#f23a40" stroke-width="0.8"/>
<circle cx="349.7" cy="244.5" r="1.35" fill="none" stroke="#f23a40" stroke-width="0.8"/>
<circle cx="344.4" cy="246.1" r="1.35" fill="none" stroke="#f23a40" stroke-width="0.8"/>
<circle cx="346.4" cy="246.1" r="1.35" fill="none" stroke="#f23a40" stroke-width="0.8"/>
<circle cx="348.5" cy="247.4" r="1.35" fill="none" stroke="#f23a40" stroke-width="0.8"/>
<circle cx="350.5" cy="249.1" r="1.35" fill="none" stroke="#f23a40" stroke-width="0.8"/>
<circle cx="351" cy="249.6" r="1.35" fill="none" stroke="#f23a40" stroke-width="0.8"/>
<circle cx="364.3" cy="249.8" r="1.35" fill="none" stroke="#3a3af0" stroke-width="0.8"/>
<circle cx="362.3" cy="250.1" r="1.35" fill="none" stroke="#3a3af0" stroke-width="0.8"/>
<circle cx="358.5" cy="251.9" r="1.35" fill="none" stroke="#3a3af0" stroke-width="0.8"/>
<circle cx="360.2" cy="253.2" r="1.35" fill="none" stroke="#3a3af0" stroke-width="0.8"/>
<circle cx="359.2" cy="254.7" r="1.35" fill="none" stroke="#3a3af0" stroke-width="0.8"/>
<circle cx="361.8" cy="255.8" r="1.35" fill="none" stroke="#3a3af0" stroke-width="0.8"/>
<circle cx="360.2" cy="256" r="1.35" fill="none" stroke="#3a3af0" stroke-width="0.8"/>
<circle cx="372" cy="233.1" r="1.35" fill="none" stroke="#ff8f24" stroke-width="0.8"/>
<circle cx="374.8" cy="233.1" r="1.35" fill="none" stroke="#ff8f24" stroke-width="0.8"/>
<circle cx="377.6" cy="232.8" r="1.35" fill="none" stroke="#ff8f24" stroke-width="0.8"/>
<circle cx="376.1" cy="234.5" r="1.35" fill="none" stroke="#ff8f24" stroke-width="0.8"/>
<circle cx="374" cy="236.3" r="1.35" fill="none" stroke="#ff8f24" stroke-width="0.8"/>
<circle cx="376.1" cy="238.4" r="1.35" fill="none" stroke="#ff8f24" stroke-width="0.8"/>
<circle cx="376.3" cy="239.6" r="1.35" fill="none" stroke="#ff8f24" stroke-width="0.8"/>
<circle cx="386.3" cy="234.3" r="1.35" fill="none" stroke="#b048ea" stroke-width="0.8"/>
<circle cx="389.4" cy="234.1" r="1.35" fill="none" stroke="#b048ea" stroke-width="0.8"/>
<circle cx="391.4" cy="234.5" r="1.35" fill="none" stroke="#b048ea" stroke-width="0.8"/>
<circle cx="384.2" cy="235.8" r="1.35" fill="none" stroke="#b048ea" stroke-width="0.8"/>
<circle cx="385.8" cy="237.6" r="1.35" fill="none" stroke="#b048ea" stroke-width="0.8"/>
<circle cx="388.3" cy="238.9" r="1.35" fill="none" stroke="#b048ea" stroke-width="0.8"/>
<circle cx="391.2" cy="240.2" r="1.35" fill="none" stroke="#b048ea" stroke-width="0.8"/>
<text x="328.3" y="210.9" font-size="6.5" fill="#222" stroke="#222" stroke-width="0.2" textLength="22.1" lengthAdjust="spacingAndGlyphs">P&lt;0.0001</text>
<line x1="334.6" y1="211.6" x2="347.4" y2="211.6" stroke="#444" stroke-width="0.6"/>
<text x="355.9" y="210.9" font-size="6.5" fill="#222" stroke="#222" stroke-width="0.2" textLength="21.4" lengthAdjust="spacingAndGlyphs">P&lt;0.0001</text>
<line x1="352.4" y1="211.6" x2="387.4" y2="211.6" stroke="#444" stroke-width="0.6"/>
<text x="349.3" y="218.6" font-size="6.5" fill="#222" stroke="#222" stroke-width="0.2" textLength="21.9" lengthAdjust="spacingAndGlyphs">P&lt;0.0001</text>
<line x1="358.9" y1="220.3" x2="372.1" y2="220.3" stroke="#444" stroke-width="0.6"/>
<text x="373.2" y="218.6" font-size="6.5" fill="#222" stroke="#222" stroke-width="0.2" textLength="21.9" lengthAdjust="spacingAndGlyphs">P=0.1312</text>
<line x1="374.3" y1="220.3" x2="386.9" y2="220.3" stroke="#444" stroke-width="0.6"/>
<text x="348" y="227.9" font-size="6.5" fill="#222" stroke="#222" stroke-width="0.2" textLength="21.9" lengthAdjust="spacingAndGlyphs">P&lt;0.0001</text>
<line x1="351.8" y1="229" x2="366" y2="229" stroke="#444" stroke-width="0.6"/>
<text x="307.4" y="241.7" font-size="7.05" stroke="#222" stroke-width="0.2" text-anchor="middle" fill="#222" textLength="28.5" lengthAdjust="spacingAndGlyphs" transform="rotate(-90 307.4 241.7)">CSA (&#956;m<tspan font-size="4.5" dy="-2.2">2</tspan><tspan dy="2.2">)</tspan></text>
<text x="401.2" y="165.7" font-size="8.2" fill="#000" font-weight="bold">H</text>
<ellipse cx="427.6" cy="168.7" rx="1.95" ry="2.15" fill="none" stroke="#333333" stroke-width="0.9"/>
<text x="433.1" y="170.7" font-size="6.48" fill="#222" stroke="#222" stroke-width="0.2" textLength="12" lengthAdjust="spacingAndGlyphs">CON</text>
<ellipse cx="427.6" cy="175" rx="1.95" ry="2.15" fill="none" stroke="#ff5a5a" stroke-width="0.9"/>
<text x="433.1" y="177" font-size="6.48" fill="#222" stroke="#222" stroke-width="0.2" textLength="8.7" lengthAdjust="spacingAndGlyphs">IgG</text>
<ellipse cx="427.6" cy="181.4" rx="1.95" ry="2.15" fill="none" stroke="#2424d8" stroke-width="0.9"/>
<text x="433.1" y="183.4" font-size="6.48" fill="#222" stroke="#222" stroke-width="0.2" textLength="18.43" lengthAdjust="spacingAndGlyphs">&#945;PD-L1</text>
<ellipse cx="427.6" cy="187.8" rx="1.95" ry="2.15" fill="none" stroke="#ffb58a" stroke-width="0.9"/>
<text x="433.1" y="189.8" font-size="6.48" fill="#222" stroke="#222" stroke-width="0.2" textLength="38.08" lengthAdjust="spacingAndGlyphs">&#945;PD-L1+ CTSLi</text>
<ellipse cx="427.6" cy="194.2" rx="1.95" ry="2.15" fill="none" stroke="#b456f0" stroke-width="0.9"/>
<text x="433.1" y="196.2" font-size="6.48" fill="#222" stroke="#222" stroke-width="0.2" textLength="15" lengthAdjust="spacingAndGlyphs">CTSLi</text>
<line x1="477.6" y1="172.8" x2="477.6" y2="197.4" stroke="#444" stroke-width="0.7"/>
<text x="479.6" y="185.1" font-size="6.16" text-anchor="middle" fill="#222" stroke="#222" stroke-width="0.2" textLength="18.81" lengthAdjust="spacingAndGlyphs" transform="rotate(90 479.6 185.1)">TB mice</text>
<line x1="420.6" y1="207.3" x2="420.6" y2="279.4" stroke="#555" stroke-width="0.7"/>
<line x1="419" y1="207.3" x2="420.6" y2="207.3" stroke="#555" stroke-width="0.6"/>
<text x="416.7" y="209.4" font-size="6" text-anchor="end" fill="#333" stroke="#333" stroke-width="0.2" textLength="5.56" lengthAdjust="spacingAndGlyphs">10</text>
<line x1="419" y1="222" x2="420.6" y2="222" stroke="#555" stroke-width="0.6"/>
<text x="416.7" y="224.1" font-size="6" text-anchor="end" fill="#333" stroke="#333" stroke-width="0.2" textLength="2.78" lengthAdjust="spacingAndGlyphs">8</text>
<line x1="419" y1="236.2" x2="420.6" y2="236.2" stroke="#555" stroke-width="0.6"/>
<text x="416.7" y="238.3" font-size="6" text-anchor="end" fill="#333" stroke="#333" stroke-width="0.2" textLength="2.78" lengthAdjust="spacingAndGlyphs">6</text>
<line x1="419" y1="250.7" x2="420.6" y2="250.7" stroke="#555" stroke-width="0.6"/>
<text x="416.7" y="252.8" font-size="6" text-anchor="end" fill="#333" stroke="#333" stroke-width="0.2" textLength="2.78" lengthAdjust="spacingAndGlyphs">4</text>
<line x1="419" y1="265" x2="420.6" y2="265" stroke="#555" stroke-width="0.6"/>
<text x="416.7" y="267.1" font-size="6" text-anchor="end" fill="#333" stroke="#333" stroke-width="0.2" textLength="2.78" lengthAdjust="spacingAndGlyphs">2</text>
<line x1="419" y1="279.4" x2="420.6" y2="279.4" stroke="#555" stroke-width="0.6"/>
<text x="416.7" y="281.5" font-size="6" text-anchor="end" fill="#333" stroke="#333" stroke-width="0.2" textLength="2.78" lengthAdjust="spacingAndGlyphs">0</text>
<line x1="420.6" y1="279.6" x2="491.9" y2="279.6" stroke="#555" stroke-width="0.8"/>
<rect x="424.9" y="223.7" width="9.5" height="55.9" fill="#97969e"/>
<rect x="438.9" y="255.4" width="9" height="24.2" fill="#ffbcbc"/>
<rect x="452.2" y="262" width="8.8" height="17.6" fill="#bcbcff"/>
<rect x="465.3" y="249.7" width="9.2" height="29.9" fill="#ffdcbe"/>
<rect x="478.8" y="252.8" width="9" height="26.8" fill="#e6bef6"/>
<line x1="429.65" y1="222.9" x2="429.65" y2="224.5" stroke="#a8a8a8" stroke-width="0.7"/>
<line x1="427.45" y1="222.9" x2="431.85" y2="222.9" stroke="#a8a8a8" stroke-width="0.7"/>
<line x1="427.45" y1="224.5" x2="431.85" y2="224.5" stroke="#a8a8a8" stroke-width="0.7"/>
<line x1="443.4" y1="254.6" x2="443.4" y2="256.2" stroke="#f23a40" stroke-width="0.7"/>
<line x1="441.2" y1="254.6" x2="445.6" y2="254.6" stroke="#f23a40" stroke-width="0.7"/>
<line x1="441.2" y1="256.2" x2="445.6" y2="256.2" stroke="#f23a40" stroke-width="0.7"/>
<line x1="456.6" y1="261.12" x2="456.6" y2="262.88" stroke="#3a3af0" stroke-width="0.7"/>
<line x1="454.4" y1="261.12" x2="458.8" y2="261.12" stroke="#3a3af0" stroke-width="0.7"/>
<line x1="454.4" y1="262.88" x2="458.8" y2="262.88" stroke="#3a3af0" stroke-width="0.7"/>
<line x1="469.9" y1="248.9" x2="469.9" y2="250.5" stroke="#ff8f24" stroke-width="0.7"/>
<line x1="467.7" y1="248.9" x2="472.1" y2="248.9" stroke="#ff8f24" stroke-width="0.7"/>
<line x1="467.7" y1="250.5" x2="472.1" y2="250.5" stroke="#ff8f24" stroke-width="0.7"/>
<line x1="483.3" y1="252" x2="483.3" y2="253.6" stroke="#b048ea" stroke-width="0.7"/>
<line x1="481.1" y1="252" x2="485.5" y2="252" stroke="#b048ea" stroke-width="0.7"/>
<line x1="481.1" y1="253.6" x2="485.5" y2="253.6" stroke="#b048ea" stroke-width="0.7"/>
<circle cx="426.1" cy="218.6" r="1.35" fill="none" stroke="#a8a8a8" stroke-width="0.8"/>
<circle cx="429.7" cy="218.6" r="1.35" fill="none" stroke="#a8a8a8" stroke-width="0.8"/>
<circle cx="429.2" cy="222.2" r="1.35" fill="none" stroke="#a8a8a8" stroke-width="0.8"/>
<circle cx="426.1" cy="227.8" r="1.35" fill="none" stroke="#a8a8a8" stroke-width="0.8"/>
<circle cx="429.7" cy="226.2" r="1.35" fill="none" stroke="#a8a8a8" stroke-width="0.8"/>
<circle cx="432.7" cy="228.3" r="1.35" fill="none" stroke="#a8a8a8" stroke-width="0.8"/>
<circle cx="429.2" cy="233.6" r="1.35" fill="none" stroke="#a8a8a8" stroke-width="0.8"/>
<circle cx="442.9" cy="252.8" r="1.35" fill="none" stroke="#f23a40" stroke-width="0.8"/>
<circle cx="439.4" cy="255.7" r="1.35" fill="none" stroke="#f23a40" stroke-width="0.8"/>
<circle cx="441.9" cy="255.9" r="1.35" fill="none" stroke="#f23a40" stroke-width="0.8"/>
<circle cx="446.5" cy="256.9" r="1.35" fill="none" stroke="#f23a40" stroke-width="0.8"/>
<circle cx="440.9" cy="258.4" r="1.35" fill="none" stroke="#f23a40" stroke-width="0.8"/>
<circle cx="444" cy="259.1" r="1.35" fill="none" stroke="#f23a40" stroke-width="0.8"/>
<circle cx="442.9" cy="257.4" r="1.35" fill="none" stroke="#f23a40" stroke-width="0.8"/>
<circle cx="453.2" cy="257.9" r="1.35" fill="none" stroke="#3a3af0" stroke-width="0.8"/>
<circle cx="456.7" cy="256.4" r="1.35" fill="none" stroke="#3a3af0" stroke-width="0.8"/>
<circle cx="453.2" cy="260" r="1.35" fill="none" stroke="#3a3af0" stroke-width="0.8"/>
<circle cx="456.7" cy="260" r="1.35" fill="none" stroke="#3a3af0" stroke-width="0.8"/>
<circle cx="456.7" cy="263" r="1.35" fill="none" stroke="#3a3af0" stroke-width="0.8"/>
<circle cx="456.7" cy="265.6" r="1.35" fill="none" stroke="#3a3af0" stroke-width="0.8"/>
<circle cx="456.7" cy="268.1" r="1.35" fill="none" stroke="#3a3af0" stroke-width="0.8"/>
<circle cx="456.7" cy="270.7" r="1.35" fill="none" stroke="#3a3af0" stroke-width="0.8"/>
<circle cx="469.5" cy="241.8" r="1.35" fill="none" stroke="#ff8f24" stroke-width="0.8"/>
<circle cx="469.5" cy="244.6" r="1.35" fill="none" stroke="#ff8f24" stroke-width="0.8"/>
<circle cx="467" cy="250.3" r="1.35" fill="none" stroke="#ff8f24" stroke-width="0.8"/>
<circle cx="469.8" cy="249.2" r="1.35" fill="none" stroke="#ff8f24" stroke-width="0.8"/>
<circle cx="473.1" cy="251" r="1.35" fill="none" stroke="#ff8f24" stroke-width="0.8"/>
<circle cx="466.5" cy="253.6" r="1.35" fill="none" stroke="#ff8f24" stroke-width="0.8"/>
<circle cx="473.6" cy="253.6" r="1.35" fill="none" stroke="#ff8f24" stroke-width="0.8"/>
<circle cx="482.5" cy="241.6" r="1.35" fill="none" stroke="#b048ea" stroke-width="0.8"/>
<circle cx="479.2" cy="252.8" r="1.35" fill="none" stroke="#b048ea" stroke-width="0.8"/>
<circle cx="482.3" cy="253.3" r="1.35" fill="none" stroke="#b048ea" stroke-width="0.8"/>
<circle cx="485.4" cy="253" r="1.35" fill="none" stroke="#b048ea" stroke-width="0.8"/>
<circle cx="486.9" cy="253.6" r="1.35" fill="none" stroke="#b048ea" stroke-width="0.8"/>
<circle cx="482.8" cy="256.4" r="1.35" fill="none" stroke="#b048ea" stroke-width="0.8"/>
<text x="426.4" y="209.6" font-size="6.5" fill="#222" stroke="#222" stroke-width="0.2" textLength="21.5" lengthAdjust="spacingAndGlyphs">P&lt;0.0001</text>
<line x1="432.6" y1="210.4" x2="445.7" y2="210.4" stroke="#444" stroke-width="0.6"/>
<text x="453.9" y="209.6" font-size="6.5" fill="#222" stroke="#222" stroke-width="0.2" textLength="22.2" lengthAdjust="spacingAndGlyphs">P=0.0272</text>
<line x1="447.4" y1="210.4" x2="484.6" y2="210.4" stroke="#444" stroke-width="0.6"/>
<text x="447.6" y="233.4" font-size="6.5" fill="#222" stroke="#222" stroke-width="0.2" textLength="22.2" lengthAdjust="spacingAndGlyphs">P&lt;0.0001</text>
<line x1="455.6" y1="235.3" x2="468.7" y2="235.3" stroke="#444" stroke-width="0.6"/>
<text x="470.1" y="233.4" font-size="6.5" fill="#222" stroke="#222" stroke-width="0.2" textLength="22.2" lengthAdjust="spacingAndGlyphs">P=0.2665</text>
<line x1="471.2" y1="235.3" x2="484.6" y2="235.3" stroke="#444" stroke-width="0.6"/>
<text x="439.7" y="242.2" font-size="6.5" fill="#222" stroke="#222" stroke-width="0.2" textLength="21.9" lengthAdjust="spacingAndGlyphs">P=0.0121</text>
<line x1="446.3" y1="243.6" x2="460" y2="243.6" stroke="#444" stroke-width="0.6"/>
<circle cx="429.6" cy="212.3" r="1.4" fill="none" stroke="#a8a8a8" stroke-width="0.8"/>
<text x="407.4" y="243.2" font-size="7.56" text-anchor="middle" fill="#222" stroke="#222" stroke-width="0.2" textLength="71.5" lengthAdjust="spacingAndGlyphs" transform="rotate(-90 407.4 243.2)">Grip strength (g) / IBW (g)</text>
<text x="503.2" y="165.7" font-size="8.2" fill="#000" font-weight="bold">I</text>
<ellipse cx="534.6" cy="168.7" rx="1.95" ry="2.15" fill="none" stroke="#333333" stroke-width="0.9"/>
<text x="540.8" y="170.7" font-size="6.48" fill="#222" stroke="#222" stroke-width="0.2" textLength="12" lengthAdjust="spacingAndGlyphs">CON</text>
<ellipse cx="534.6" cy="175" rx="1.95" ry="2.15" fill="none" stroke="#ff5a5a" stroke-width="0.9"/>
<text x="540.8" y="177" font-size="6.48" fill="#222" stroke="#222" stroke-width="0.2" textLength="8.7" lengthAdjust="spacingAndGlyphs">IgG</text>
<ellipse cx="534.6" cy="181.4" rx="1.95" ry="2.15" fill="none" stroke="#2424d8" stroke-width="0.9"/>
<text x="540.8" y="183.4" font-size="6.48" fill="#222" stroke="#222" stroke-width="0.2" textLength="18.43" lengthAdjust="spacingAndGlyphs">&#945;PD-L1</text>
<ellipse cx="534.6" cy="187.8" rx="1.95" ry="2.15" fill="none" stroke="#ffb58a" stroke-width="0.9"/>
<text x="540.8" y="189.8" font-size="6.48" fill="#222" stroke="#222" stroke-width="0.2" textLength="38.08" lengthAdjust="spacingAndGlyphs">&#945;PD-L1+ CTSLi</text>
<ellipse cx="534.6" cy="194.2" rx="1.95" ry="2.15" fill="none" stroke="#b456f0" stroke-width="0.9"/>
<text x="540.8" y="196.2" font-size="6.48" fill="#222" stroke="#222" stroke-width="0.2" textLength="15" lengthAdjust="spacingAndGlyphs">CTSLi</text>
<line x1="584.9" y1="172.8" x2="584.9" y2="197.4" stroke="#444" stroke-width="0.7"/>
<text x="586.8" y="185.1" font-size="6.16" text-anchor="middle" fill="#222" stroke="#222" stroke-width="0.2" textLength="18.81" lengthAdjust="spacingAndGlyphs" transform="rotate(90 586.8 185.1)">TB mice</text>
<text x="504.8" y="243.5" font-size="7.56" text-anchor="middle" fill="#222" stroke="#222" stroke-width="0.2" textLength="53.3" lengthAdjust="spacingAndGlyphs" transform="rotate(-90 504.8 243.5)">CTSL conc. (ng/ml)</text>
<text x="512.4" y="243.5" font-size="7.56" text-anchor="middle" fill="#222" stroke="#222" stroke-width="0.2" textLength="43.6" lengthAdjust="spacingAndGlyphs" transform="rotate(-90 512.4 243.5)">per g of tissue</text>
<line x1="526.9" y1="207.6" x2="526.9" y2="279" stroke="#555" stroke-width="0.7"/>
<line x1="525.3" y1="207.6" x2="526.9" y2="207.6" stroke="#555" stroke-width="0.6"/>
<text x="523" y="209.7" font-size="6" text-anchor="end" fill="#333" stroke="#333" stroke-width="0.2" textLength="6.95" lengthAdjust="spacingAndGlyphs">2.0</text>
<line x1="525.3" y1="225.4" x2="526.9" y2="225.4" stroke="#555" stroke-width="0.6"/>
<text x="523" y="227.5" font-size="6" text-anchor="end" fill="#333" stroke="#333" stroke-width="0.2" textLength="6.95" lengthAdjust="spacingAndGlyphs">1.5</text>
<line x1="525.3" y1="243.2" x2="526.9" y2="243.2" stroke="#555" stroke-width="0.6"/>
<text x="523" y="245.3" font-size="6" text-anchor="end" fill="#333" stroke="#333" stroke-width="0.2" textLength="6.95" lengthAdjust="spacingAndGlyphs">1.0</text>
<line x1="525.3" y1="261.2" x2="526.9" y2="261.2" stroke="#555" stroke-width="0.6"/>
<text x="523" y="263.3" font-size="6" text-anchor="end" fill="#333" stroke="#333" stroke-width="0.2" textLength="6.95" lengthAdjust="spacingAndGlyphs">0.5</text>
<line x1="525.3" y1="279" x2="526.9" y2="279" stroke="#555" stroke-width="0.6"/>
<text x="523" y="281.1" font-size="6" text-anchor="end" fill="#333" stroke="#333" stroke-width="0.2" textLength="2.78" lengthAdjust="spacingAndGlyphs">0</text>
<line x1="526.9" y1="279" x2="596" y2="279" stroke="#555" stroke-width="0.8"/>
<rect x="531.7" y="263.3" width="9.4" height="15.7" fill="#97969e"/>
<rect x="545.4" y="232.7" width="9.3" height="46.3" fill="#ffbcbc"/>
<rect x="558.5" y="240.3" width="9.5" height="38.7" fill="#bcbcff"/>
<rect x="572" y="253.1" width="9.5" height="25.9" fill="#ffdcbe"/>
<rect x="585.4" y="240.8" width="8.8" height="38.2" fill="#e6bef6"/>
<line x1="536.4" y1="262.5" x2="536.4" y2="264.1" stroke="#a8a8a8" stroke-width="0.7"/>
<line x1="534.2" y1="262.5" x2="538.6" y2="262.5" stroke="#a8a8a8" stroke-width="0.7"/>
<line x1="534.2" y1="264.1" x2="538.6" y2="264.1" stroke="#a8a8a8" stroke-width="0.7"/>
<line x1="550.05" y1="231.9" x2="550.05" y2="233.5" stroke="#f23a40" stroke-width="0.7"/>
<line x1="547.85" y1="231.9" x2="552.25" y2="231.9" stroke="#f23a40" stroke-width="0.7"/>
<line x1="547.85" y1="233.5" x2="552.25" y2="233.5" stroke="#f23a40" stroke-width="0.7"/>
<line x1="563.25" y1="239.5" x2="563.25" y2="241.1" stroke="#3a3af0" stroke-width="0.7"/>
<line x1="561.05" y1="239.5" x2="565.45" y2="239.5" stroke="#3a3af0" stroke-width="0.7"/>
<line x1="561.05" y1="241.1" x2="565.45" y2="241.1" stroke="#3a3af0" stroke-width="0.7"/>
<line x1="576.75" y1="252.05" x2="576.75" y2="254.15" stroke="#ff8f24" stroke-width="0.7"/>
<line x1="574.55" y1="252.05" x2="578.95" y2="252.05" stroke="#ff8f24" stroke-width="0.7"/>
<line x1="574.55" y1="254.15" x2="578.95" y2="254.15" stroke="#ff8f24" stroke-width="0.7"/>
<line x1="589.8" y1="240" x2="589.8" y2="241.6" stroke="#b048ea" stroke-width="0.7"/>
<line x1="587.6" y1="240" x2="592" y2="240" stroke="#b048ea" stroke-width="0.7"/>
<line x1="587.6" y1="241.6" x2="592" y2="241.6" stroke="#b048ea" stroke-width="0.7"/>
<circle cx="536.2" cy="264.9" r="1.35" fill="none" stroke="#a8a8a8" stroke-width="0.8"/>
<circle cx="537.7" cy="262.6" r="1.35" fill="none" stroke="#a8a8a8" stroke-width="0.8"/>
<circle cx="539.8" cy="262" r="1.35" fill="none" stroke="#a8a8a8" stroke-width="0.8"/>
<circle cx="546.4" cy="233.2" r="1.35" fill="none" stroke="#f23a40" stroke-width="0.8"/>
<circle cx="549.5" cy="231.3" r="1.35" fill="none" stroke="#f23a40" stroke-width="0.8"/>
<circle cx="552.5" cy="232.4" r="1.35" fill="none" stroke="#f23a40" stroke-width="0.8"/>
<circle cx="559.7" cy="241.1" r="1.35" fill="none" stroke="#3a3af0" stroke-width="0.8"/>
<circle cx="562.7" cy="238.1" r="1.35" fill="none" stroke="#3a3af0" stroke-width="0.8"/>
<circle cx="566" cy="239.1" r="1.35" fill="none" stroke="#3a3af0" stroke-width="0.8"/>
<circle cx="576.5" cy="250" r="1.35" fill="none" stroke="#ff8f24" stroke-width="0.8"/>
<circle cx="576.5" cy="252.6" r="1.35" fill="none" stroke="#ff8f24" stroke-width="0.8"/>
<circle cx="576.5" cy="257.5" r="1.35" fill="none" stroke="#ff8f24" stroke-width="0.8"/>
<circle cx="589.8" cy="238.1" r="1.35" fill="none" stroke="#b048ea" stroke-width="0.8"/>
<circle cx="589.8" cy="240.1" r="1.35" fill="none" stroke="#b048ea" stroke-width="0.8"/>
<circle cx="589.8" cy="242.4" r="1.35" fill="none" stroke="#b048ea" stroke-width="0.8"/>
<text x="531.1" y="208.9" font-size="6.5" fill="#222" stroke="#222" stroke-width="0.2" textLength="22.1" lengthAdjust="spacingAndGlyphs">P&lt;0.0001</text>
<line x1="536.2" y1="210.3" x2="548.8" y2="210.3" stroke="#444" stroke-width="0.6"/>
<text x="560" y="208.9" font-size="6.5" fill="#222" stroke="#222" stroke-width="0.2" textLength="22.7" lengthAdjust="spacingAndGlyphs">P=0.0059</text>
<line x1="552.3" y1="210.3" x2="589.9" y2="210.3" stroke="#444" stroke-width="0.6"/>
<text x="548.3" y="217.9" font-size="6.5" fill="#222" stroke="#222" stroke-width="0.2" textLength="22.6" lengthAdjust="spacingAndGlyphs">P=0.0012</text>
<line x1="553.2" y1="218.8" x2="566.3" y2="218.8" stroke="#444" stroke-width="0.6"/>
<text x="551.9" y="225.9" font-size="6.5" fill="#222" stroke="#222" stroke-width="0.2" textLength="23.2" lengthAdjust="spacingAndGlyphs">P=0.0049</text>
<line x1="561.9" y1="227" x2="575.1" y2="227" stroke="#444" stroke-width="0.6"/>
<text x="575.1" y="225.9" font-size="6.5" fill="#222" stroke="#222" stroke-width="0.2" textLength="21.9" lengthAdjust="spacingAndGlyphs">P=0.0110</text>
<line x1="577.3" y1="227" x2="590.4" y2="227" stroke="#444" stroke-width="0.6"/>
<text x="562" y="286.6" font-size="7.56" text-anchor="middle" fill="#222" stroke="#222" stroke-width="0.2" textLength="18" lengthAdjust="spacingAndGlyphs">Tumor</text>
<line x1="607.5" y1="206.7" x2="607.5" y2="279" stroke="#555" stroke-width="0.7"/>
<line x1="605.9" y1="206.7" x2="607.5" y2="206.7" stroke="#555" stroke-width="0.6"/>
<text x="603.6" y="208.8" font-size="6" text-anchor="end" fill="#333" stroke="#333" stroke-width="0.2" textLength="6.95" lengthAdjust="spacingAndGlyphs">2.0</text>
<line x1="605.9" y1="225.4" x2="607.5" y2="225.4" stroke="#555" stroke-width="0.6"/>
<text x="603.6" y="227.5" font-size="6" text-anchor="end" fill="#333" stroke="#333" stroke-width="0.2" textLength="6.95" lengthAdjust="spacingAndGlyphs">1.5</text>
<line x1="605.9" y1="243.5" x2="607.5" y2="243.5" stroke="#555" stroke-width="0.6"/>
<text x="603.6" y="245.6" font-size="6" text-anchor="end" fill="#333" stroke="#333" stroke-width="0.2" textLength="6.95" lengthAdjust="spacingAndGlyphs">1.0</text>
<line x1="605.9" y1="261.7" x2="607.5" y2="261.7" stroke="#555" stroke-width="0.6"/>
<text x="603.6" y="263.8" font-size="6" text-anchor="end" fill="#333" stroke="#333" stroke-width="0.2" textLength="6.95" lengthAdjust="spacingAndGlyphs">0.5</text>
<line x1="605.9" y1="279" x2="607.5" y2="279" stroke="#555" stroke-width="0.6"/>
<text x="603.6" y="281.1" font-size="6" text-anchor="end" fill="#333" stroke="#333" stroke-width="0.2" textLength="2.78" lengthAdjust="spacingAndGlyphs">0</text>
<line x1="607.5" y1="279" x2="681.5" y2="279" stroke="#555" stroke-width="0.8"/>
<rect x="615" y="277.1" width="9" height="1.9" fill="#97969e"/>
<rect x="628.1" y="241.6" width="9" height="37.4" fill="#ffbcbc"/>
<rect x="641.6" y="220.2" width="9" height="58.8" fill="#bcbcff"/>
<rect x="654.9" y="251" width="8.8" height="28" fill="#ffdcbe"/>
<rect x="668.4" y="259.3" width="8.8" height="19.7" fill="#e6bef6"/>
<line x1="619.5" y1="276.3" x2="619.5" y2="277.9" stroke="#a8a8a8" stroke-width="0.7"/>
<line x1="617.3" y1="276.3" x2="621.7" y2="276.3" stroke="#a8a8a8" stroke-width="0.7"/>
<line x1="617.3" y1="277.9" x2="621.7" y2="277.9" stroke="#a8a8a8" stroke-width="0.7"/>
<line x1="632.6" y1="240.72" x2="632.6" y2="242.47" stroke="#f23a40" stroke-width="0.7"/>
<line x1="630.4" y1="240.72" x2="634.8" y2="240.72" stroke="#f23a40" stroke-width="0.7"/>
<line x1="630.4" y1="242.47" x2="634.8" y2="242.47" stroke="#f23a40" stroke-width="0.7"/>
<line x1="646.1" y1="219.4" x2="646.1" y2="221" stroke="#3a3af0" stroke-width="0.7"/>
<line x1="643.9" y1="219.4" x2="648.3" y2="219.4" stroke="#3a3af0" stroke-width="0.7"/>
<line x1="643.9" y1="221" x2="648.3" y2="221" stroke="#3a3af0" stroke-width="0.7"/>
<line x1="659.3" y1="249.95" x2="659.3" y2="252.05" stroke="#ff8f24" stroke-width="0.7"/>
<line x1="657.1" y1="249.95" x2="661.5" y2="249.95" stroke="#ff8f24" stroke-width="0.7"/>
<line x1="657.1" y1="252.05" x2="661.5" y2="252.05" stroke="#ff8f24" stroke-width="0.7"/>
<line x1="672.8" y1="258.43" x2="672.8" y2="260.18" stroke="#b048ea" stroke-width="0.7"/>
<line x1="670.6" y1="258.43" x2="675" y2="258.43" stroke="#b048ea" stroke-width="0.7"/>
<line x1="670.6" y1="260.18" x2="675" y2="260.18" stroke="#b048ea" stroke-width="0.7"/>
<circle cx="617.5" cy="277.3" r="0.9" fill="none" stroke="#a8a8a8" stroke-width="0.8"/>
<circle cx="620.5" cy="277.6" r="0.9" fill="none" stroke="#a8a8a8" stroke-width="0.8"/>
<circle cx="622.5" cy="277.2" r="0.9" fill="none" stroke="#a8a8a8" stroke-width="0.8"/>
<circle cx="630.5" cy="236.8" r="1.35" fill="none" stroke="#f23a40" stroke-width="0.8"/>
<circle cx="635.2" cy="238" r="1.35" fill="none" stroke="#f23a40" stroke-width="0.8"/>
<circle cx="632.8" cy="246.3" r="1.35" fill="none" stroke="#f23a40" stroke-width="0.8"/>
<circle cx="644" cy="217.1" r="1.35" fill="none" stroke="#3a3af0" stroke-width="0.8"/>
<circle cx="648.3" cy="219" r="1.35" fill="none" stroke="#3a3af0" stroke-width="0.8"/>
<circle cx="645.9" cy="223.8" r="1.35" fill="none" stroke="#3a3af0" stroke-width="0.8"/>
<circle cx="659.6" cy="245.1" r="1.35" fill="none" stroke="#ff8f24" stroke-width="0.8"/>
<circle cx="659.6" cy="251" r="1.35" fill="none" stroke="#ff8f24" stroke-width="0.8"/>
<circle cx="659.6" cy="257.4" r="1.35" fill="none" stroke="#ff8f24" stroke-width="0.8"/>
<circle cx="672.4" cy="254.6" r="1.35" fill="none" stroke="#b048ea" stroke-width="0.8"/>
<circle cx="672.4" cy="259.3" r="1.35" fill="none" stroke="#b048ea" stroke-width="0.8"/>
<circle cx="674.3" cy="262.2" r="1.35" fill="none" stroke="#b048ea" stroke-width="0.8"/>
<text x="612.2" y="205.4" font-size="6.5" fill="#222" stroke="#222" stroke-width="0.2" textLength="22.3" lengthAdjust="spacingAndGlyphs">P=0.0005</text>
<line x1="617.9" y1="206.2" x2="629.9" y2="206.2" stroke="#444" stroke-width="0.6"/>
<text x="644.7" y="205.4" font-size="6.5" fill="#222" stroke="#222" stroke-width="0.2" textLength="22.4" lengthAdjust="spacingAndGlyphs">P=0.0117</text>
<line x1="635.9" y1="206.2" x2="673.7" y2="206.2" stroke="#444" stroke-width="0.6"/>
<text x="625" y="212.5" font-size="6.5" fill="#222" stroke="#222" stroke-width="0.2" textLength="23" lengthAdjust="spacingAndGlyphs">P=0.0059</text>
<line x1="635.9" y1="214.5" x2="649.1" y2="214.5" stroke="#444" stroke-width="0.6"/>
<text x="648" y="212.5" font-size="6.5" fill="#222" stroke="#222" stroke-width="0.2" textLength="21.9" lengthAdjust="spacingAndGlyphs">P=0.0017</text>
<line x1="650.2" y1="214.5" x2="663.8" y2="214.5" stroke="#444" stroke-width="0.6"/>
<text x="656" y="233.9" font-size="6.5" fill="#222" stroke="#222" stroke-width="0.2" textLength="22.1" lengthAdjust="spacingAndGlyphs">P=0.1068</text>
<line x1="662.2" y1="235.3" x2="674.8" y2="235.3" stroke="#444" stroke-width="0.6"/>
<text x="645.4" y="286.6" font-size="7.56" text-anchor="middle" fill="#222" stroke="#222" stroke-width="0.2" textLength="20" lengthAdjust="spacingAndGlyphs">Muscle</text>
<text x="11" y="307.3" font-size="8.2" fill="#000" font-weight="bold">J</text>
<text x="112.3" y="319.2" font-size="7.05" stroke="#222" stroke-width="0.2" text-anchor="middle" fill="#222" textLength="34.7" lengthAdjust="spacingAndGlyphs">CD8<tspan font-size="4.5" dy="-2.2">+</tspan><tspan dy="2.2"> T cells</tspan></text>
<line x1="15.9" y1="323.6" x2="212" y2="323.6" stroke="#666" stroke-width="0.9"/>
<line x1="38.6" y1="334.2" x2="38.6" y2="416" stroke="#555" stroke-width="0.7"/>
<line x1="37" y1="334.2" x2="38.6" y2="334.2" stroke="#555" stroke-width="0.6"/>
<text x="34.7" y="336.3" font-size="6" text-anchor="end" fill="#333" stroke="#333" stroke-width="0.2" textLength="2.78" lengthAdjust="spacingAndGlyphs">8</text>
<line x1="37" y1="354.8" x2="38.6" y2="354.8" stroke="#555" stroke-width="0.6"/>
<text x="34.7" y="356.9" font-size="6" text-anchor="end" fill="#333" stroke="#333" stroke-width="0.2" textLength="2.78" lengthAdjust="spacingAndGlyphs">6</text>
<line x1="37" y1="375.1" x2="38.6" y2="375.1" stroke="#555" stroke-width="0.6"/>
<text x="34.7" y="377.2" font-size="6" text-anchor="end" fill="#333" stroke="#333" stroke-width="0.2" textLength="2.78" lengthAdjust="spacingAndGlyphs">4</text>
<line x1="37" y1="395.7" x2="38.6" y2="395.7" stroke="#555" stroke-width="0.6"/>
<text x="34.7" y="397.8" font-size="6" text-anchor="end" fill="#333" stroke="#333" stroke-width="0.2" textLength="2.78" lengthAdjust="spacingAndGlyphs">2</text>
<line x1="37" y1="416" x2="38.6" y2="416" stroke="#555" stroke-width="0.6"/>
<text x="34.7" y="418.1" font-size="6" text-anchor="end" fill="#333" stroke="#333" stroke-width="0.2" textLength="2.78" lengthAdjust="spacingAndGlyphs">0</text>
<line x1="38.6" y1="416" x2="114.5" y2="416" stroke="#555" stroke-width="0.8"/>
<rect x="43" y="371.7" width="9.6" height="44.3" fill="#97969e"/>
<rect x="57.2" y="391.5" width="9.6" height="24.5" fill="#ffbcbc"/>
<rect x="71.4" y="375.6" width="9.8" height="40.4" fill="#bcbcff"/>
<rect x="85.9" y="371.3" width="9.5" height="44.7" fill="#ffdcbe"/>
<rect x="100" y="383" width="9.8" height="33" fill="#e6bef6"/>
<line x1="47.8" y1="370.3" x2="47.8" y2="373.1" stroke="#a8a8a8" stroke-width="0.7"/>
<line x1="45.6" y1="370.3" x2="50" y2="370.3" stroke="#a8a8a8" stroke-width="0.7"/>
<line x1="45.6" y1="373.1" x2="50" y2="373.1" stroke="#a8a8a8" stroke-width="0.7"/>
<circle cx="48.01" cy="373.09" r="1.4" fill="none" stroke="#a8a8a8" stroke-width="0.8"/>
<circle cx="47.38" cy="373.44" r="1.4" fill="none" stroke="#a8a8a8" stroke-width="0.8"/>
<circle cx="48.17" cy="374.46" r="1.4" fill="none" stroke="#a8a8a8" stroke-width="0.8"/>
<circle cx="45.99" cy="370" r="1.4" fill="none" stroke="#a8a8a8" stroke-width="0.8"/>
<circle cx="47.75" cy="369.1" r="1.4" fill="none" stroke="#a8a8a8" stroke-width="0.8"/>
<circle cx="47.58" cy="368.52" r="1.4" fill="none" stroke="#a8a8a8" stroke-width="0.8"/>
<circle cx="47.74" cy="369.14" r="1.4" fill="none" stroke="#a8a8a8" stroke-width="0.8"/>
<circle cx="48.07" cy="371.69" r="1.4" fill="none" stroke="#a8a8a8" stroke-width="0.8"/>
<line x1="62" y1="390.52" x2="62" y2="392.48" stroke="#f23a40" stroke-width="0.7"/>
<line x1="59.8" y1="390.52" x2="64.2" y2="390.52" stroke="#f23a40" stroke-width="0.7"/>
<line x1="59.8" y1="392.48" x2="64.2" y2="392.48" stroke="#f23a40" stroke-width="0.7"/>
<circle cx="58.64" cy="393.33" r="1.4" fill="none" stroke="#f23a40" stroke-width="0.8"/>
<circle cx="61.78" cy="393.22" r="1.4" fill="none" stroke="#f23a40" stroke-width="0.8"/>
<circle cx="63.12" cy="391.82" r="1.4" fill="none" stroke="#f23a40" stroke-width="0.8"/>
<circle cx="61.15" cy="393.22" r="1.4" fill="none" stroke="#f23a40" stroke-width="0.8"/>
<circle cx="65.13" cy="391.09" r="1.4" fill="none" stroke="#f23a40" stroke-width="0.8"/>
<circle cx="62.93" cy="389.36" r="1.4" fill="none" stroke="#f23a40" stroke-width="0.8"/>
<circle cx="58.79" cy="392.19" r="1.4" fill="none" stroke="#f23a40" stroke-width="0.8"/>
<circle cx="63.24" cy="392.05" r="1.4" fill="none" stroke="#f23a40" stroke-width="0.8"/>
<line x1="76.3" y1="374.8" x2="76.3" y2="376.4" stroke="#3a3af0" stroke-width="0.7"/>
<line x1="74.1" y1="374.8" x2="78.5" y2="374.8" stroke="#3a3af0" stroke-width="0.7"/>
<line x1="74.1" y1="376.4" x2="78.5" y2="376.4" stroke="#3a3af0" stroke-width="0.7"/>
<circle cx="75.15" cy="376.53" r="1.4" fill="none" stroke="#3a3af0" stroke-width="0.8"/>
<circle cx="76.37" cy="376.64" r="1.4" fill="none" stroke="#3a3af0" stroke-width="0.8"/>
<circle cx="79" cy="375.57" r="1.4" fill="none" stroke="#3a3af0" stroke-width="0.8"/>
<circle cx="77.78" cy="374.59" r="1.4" fill="none" stroke="#3a3af0" stroke-width="0.8"/>
<circle cx="75.2" cy="375.87" r="1.4" fill="none" stroke="#3a3af0" stroke-width="0.8"/>
<circle cx="75.39" cy="376.38" r="1.4" fill="none" stroke="#3a3af0" stroke-width="0.8"/>
<circle cx="76.47" cy="375.54" r="1.4" fill="none" stroke="#3a3af0" stroke-width="0.8"/>
<circle cx="74.33" cy="376.18" r="1.4" fill="none" stroke="#3a3af0" stroke-width="0.8"/>
<line x1="90.65" y1="370.5" x2="90.65" y2="372.1" stroke="#ff8f24" stroke-width="0.7"/>
<line x1="88.45" y1="370.5" x2="92.85" y2="370.5" stroke="#ff8f24" stroke-width="0.7"/>
<line x1="88.45" y1="372.1" x2="92.85" y2="372.1" stroke="#ff8f24" stroke-width="0.7"/>
<circle cx="90.12" cy="371.11" r="1.4" fill="none" stroke="#ff8f24" stroke-width="0.8"/>
<circle cx="92.87" cy="371.46" r="1.4" fill="none" stroke="#ff8f24" stroke-width="0.8"/>
<circle cx="92.88" cy="370.7" r="1.4" fill="none" stroke="#ff8f24" stroke-width="0.8"/>
<circle cx="90.68" cy="371.02" r="1.4" fill="none" stroke="#ff8f24" stroke-width="0.8"/>
<circle cx="90.69" cy="370.64" r="1.4" fill="none" stroke="#ff8f24" stroke-width="0.8"/>
<circle cx="91.7" cy="372.67" r="1.4" fill="none" stroke="#ff8f24" stroke-width="0.8"/>
<circle cx="89.5" cy="372.14" r="1.4" fill="none" stroke="#ff8f24" stroke-width="0.8"/>
<circle cx="89.28" cy="370.77" r="1.4" fill="none" stroke="#ff8f24" stroke-width="0.8"/>
<line x1="104.9" y1="382.2" x2="104.9" y2="383.8" stroke="#b048ea" stroke-width="0.7"/>
<line x1="102.7" y1="382.2" x2="107.1" y2="382.2" stroke="#b048ea" stroke-width="0.7"/>
<line x1="102.7" y1="383.8" x2="107.1" y2="383.8" stroke="#b048ea" stroke-width="0.7"/>
<circle cx="105.82" cy="383.22" r="1.4" fill="none" stroke="#b048ea" stroke-width="0.8"/>
<circle cx="101.77" cy="383.72" r="1.4" fill="none" stroke="#b048ea" stroke-width="0.8"/>
<circle cx="107.52" cy="383.56" r="1.4" fill="none" stroke="#b048ea" stroke-width="0.8"/>
<circle cx="101.84" cy="383.11" r="1.4" fill="none" stroke="#b048ea" stroke-width="0.8"/>
<circle cx="101.54" cy="382.5" r="1.4" fill="none" stroke="#b048ea" stroke-width="0.8"/>
<circle cx="107.77" cy="382.22" r="1.4" fill="none" stroke="#b048ea" stroke-width="0.8"/>
<circle cx="105.97" cy="383.27" r="1.4" fill="none" stroke="#b048ea" stroke-width="0.8"/>
<circle cx="107.69" cy="383.73" r="1.4" fill="none" stroke="#b048ea" stroke-width="0.8"/>
<text x="41.8" y="342.6" font-size="6.5" fill="#222" stroke="#222" stroke-width="0.2" textLength="22.5" lengthAdjust="spacingAndGlyphs">P&lt;0.0001</text>
<line x1="47.3" y1="344.2" x2="59.9" y2="344.2" stroke="#444" stroke-width="0.6"/>
<text x="71.9" y="342.6" font-size="6.5" fill="#222" stroke="#222" stroke-width="0.2" textLength="22.2" lengthAdjust="spacingAndGlyphs">P&lt;0.0001</text>
<line x1="63.4" y1="344.2" x2="107" y2="344.2" stroke="#444" stroke-width="0.6"/>
<text x="52.8" y="354.6" font-size="6.5" fill="#222" stroke="#222" stroke-width="0.2" textLength="22.4" lengthAdjust="spacingAndGlyphs">P&lt;0.0001</text>
<line x1="62.1" y1="356.8" x2="75.8" y2="356.8" stroke="#444" stroke-width="0.6"/>
<text x="76.9" y="354.6" font-size="6.5" fill="#222" stroke="#222" stroke-width="0.2" textLength="22.4" lengthAdjust="spacingAndGlyphs">P&lt;0.0001</text>
<line x1="79.1" y1="356.8" x2="92.7" y2="356.8" stroke="#444" stroke-width="0.6"/>
<text x="86.7" y="364.2" font-size="6.5" fill="#222" stroke="#222" stroke-width="0.2" textLength="22.5" lengthAdjust="spacingAndGlyphs">P&lt;0.0001</text>
<line x1="92.7" y1="366.1" x2="105.9" y2="366.1" stroke="#444" stroke-width="0.6"/>
<text x="23.6" y="376" font-size="7.05" stroke="#222" stroke-width="0.2" text-anchor="middle" fill="#222" textLength="68.9" lengthAdjust="spacingAndGlyphs" transform="rotate(-90 23.6 376)">% of CD3<tspan font-size="4.5" dy="-2.2">+</tspan><tspan dy="2.2">CD8</tspan><tspan font-size="4.5" dy="-2.2">+</tspan><tspan dy="2.2">T / CD45</tspan></text>
<text x="78" y="422.9" font-size="7.56" text-anchor="middle" fill="#222" stroke="#222" stroke-width="0.2" textLength="18" lengthAdjust="spacingAndGlyphs">Tumor</text>
<line x1="129.7" y1="334.4" x2="129.7" y2="415.6" stroke="#555" stroke-width="0.7"/>
<line x1="128.1" y1="334.4" x2="129.7" y2="334.4" stroke="#555" stroke-width="0.6"/>
<text x="125.8" y="336.5" font-size="6" text-anchor="end" fill="#333" stroke="#333" stroke-width="0.2" textLength="2.78" lengthAdjust="spacingAndGlyphs">5</text>
<line x1="128.1" y1="350.4" x2="129.7" y2="350.4" stroke="#555" stroke-width="0.6"/>
<text x="125.8" y="352.5" font-size="6" text-anchor="end" fill="#333" stroke="#333" stroke-width="0.2" textLength="2.78" lengthAdjust="spacingAndGlyphs">4</text>
<line x1="128.1" y1="366.6" x2="129.7" y2="366.6" stroke="#555" stroke-width="0.6"/>
<text x="125.8" y="368.7" font-size="6" text-anchor="end" fill="#333" stroke="#333" stroke-width="0.2" textLength="2.78" lengthAdjust="spacingAndGlyphs">3</text>
<line x1="128.1" y1="383.1" x2="129.7" y2="383.1" stroke="#555" stroke-width="0.6"/>
<text x="125.8" y="385.2" font-size="6" text-anchor="end" fill="#333" stroke="#333" stroke-width="0.2" textLength="2.78" lengthAdjust="spacingAndGlyphs">2</text>
<line x1="128.1" y1="399.1" x2="129.7" y2="399.1" stroke="#555" stroke-width="0.6"/>
<text x="125.8" y="401.2" font-size="6" text-anchor="end" fill="#333" stroke="#333" stroke-width="0.2" textLength="2.78" lengthAdjust="spacingAndGlyphs">1</text>
<line x1="128.1" y1="415.6" x2="129.7" y2="415.6" stroke="#555" stroke-width="0.6"/>
<text x="125.8" y="417.7" font-size="6" text-anchor="end" fill="#333" stroke="#333" stroke-width="0.2" textLength="2.78" lengthAdjust="spacingAndGlyphs">0</text>
<line x1="129.7" y1="416" x2="207.1" y2="416" stroke="#555" stroke-width="0.8"/>
<rect x="135.5" y="381.5" width="9.6" height="34.5" fill="#97969e"/>
<rect x="149.9" y="364.8" width="9.6" height="51.2" fill="#ffbcbc"/>
<rect x="164.5" y="351.8" width="9.9" height="64.2" fill="#bcbcff"/>
<rect x="179" y="380.8" width="9.6" height="35.2" fill="#ffdcbe"/>
<rect x="192.7" y="382" width="9.8" height="34" fill="#e6bef6"/>
<line x1="140.3" y1="380.1" x2="140.3" y2="382.9" stroke="#a8a8a8" stroke-width="0.7"/>
<line x1="138.1" y1="380.1" x2="142.5" y2="380.1" stroke="#a8a8a8" stroke-width="0.7"/>
<line x1="138.1" y1="382.9" x2="142.5" y2="382.9" stroke="#a8a8a8" stroke-width="0.7"/>
<circle cx="141.09" cy="382.3" r="1.4" fill="none" stroke="#a8a8a8" stroke-width="0.8"/>
<circle cx="141.64" cy="382.41" r="1.4" fill="none" stroke="#a8a8a8" stroke-width="0.8"/>
<circle cx="141.53" cy="382.19" r="1.4" fill="none" stroke="#a8a8a8" stroke-width="0.8"/>
<circle cx="141.44" cy="379.43" r="1.4" fill="none" stroke="#a8a8a8" stroke-width="0.8"/>
<circle cx="142.09" cy="381.2" r="1.4" fill="none" stroke="#a8a8a8" stroke-width="0.8"/>
<circle cx="138.13" cy="378.63" r="1.4" fill="none" stroke="#a8a8a8" stroke-width="0.8"/>
<circle cx="142.17" cy="378.17" r="1.4" fill="none" stroke="#a8a8a8" stroke-width="0.8"/>
<circle cx="141.36" cy="384.48" r="1.4" fill="none" stroke="#a8a8a8" stroke-width="0.8"/>
<line x1="154.7" y1="363.4" x2="154.7" y2="366.2" stroke="#f23a40" stroke-width="0.7"/>
<line x1="152.5" y1="363.4" x2="156.9" y2="363.4" stroke="#f23a40" stroke-width="0.7"/>
<line x1="152.5" y1="366.2" x2="156.9" y2="366.2" stroke="#f23a40" stroke-width="0.7"/>
<circle cx="156.89" cy="363.86" r="1.4" fill="none" stroke="#f23a40" stroke-width="0.8"/>
<circle cx="155.12" cy="366.86" r="1.4" fill="none" stroke="#f23a40" stroke-width="0.8"/>
<circle cx="153.35" cy="363.06" r="1.4" fill="none" stroke="#f23a40" stroke-width="0.8"/>
<circle cx="153.47" cy="364.24" r="1.4" fill="none" stroke="#f23a40" stroke-width="0.8"/>
<circle cx="155.66" cy="364.3" r="1.4" fill="none" stroke="#f23a40" stroke-width="0.8"/>
<circle cx="151.67" cy="367.92" r="1.4" fill="none" stroke="#f23a40" stroke-width="0.8"/>
<circle cx="151.57" cy="365.29" r="1.4" fill="none" stroke="#f23a40" stroke-width="0.8"/>
<circle cx="156.81" cy="362.06" r="1.4" fill="none" stroke="#f23a40" stroke-width="0.8"/>
<line x1="169.45" y1="351" x2="169.45" y2="352.6" stroke="#3a3af0" stroke-width="0.7"/>
<line x1="167.25" y1="351" x2="171.65" y2="351" stroke="#3a3af0" stroke-width="0.7"/>
<line x1="167.25" y1="352.6" x2="171.65" y2="352.6" stroke="#3a3af0" stroke-width="0.7"/>
<circle cx="172.3" cy="351.99" r="1.4" fill="none" stroke="#3a3af0" stroke-width="0.8"/>
<circle cx="166.15" cy="351.67" r="1.4" fill="none" stroke="#3a3af0" stroke-width="0.8"/>
<circle cx="170.08" cy="351.52" r="1.4" fill="none" stroke="#3a3af0" stroke-width="0.8"/>
<circle cx="172.72" cy="352.9" r="1.4" fill="none" stroke="#3a3af0" stroke-width="0.8"/>
<circle cx="168.85" cy="351.74" r="1.4" fill="none" stroke="#3a3af0" stroke-width="0.8"/>
<circle cx="170.43" cy="350.8" r="1.4" fill="none" stroke="#3a3af0" stroke-width="0.8"/>
<circle cx="167.08" cy="351.07" r="1.4" fill="none" stroke="#3a3af0" stroke-width="0.8"/>
<circle cx="166.08" cy="350.58" r="1.4" fill="none" stroke="#3a3af0" stroke-width="0.8"/>
<line x1="183.8" y1="379.75" x2="183.8" y2="381.85" stroke="#ff8f24" stroke-width="0.7"/>
<line x1="181.6" y1="379.75" x2="186" y2="379.75" stroke="#ff8f24" stroke-width="0.7"/>
<line x1="181.6" y1="381.85" x2="186" y2="381.85" stroke="#ff8f24" stroke-width="0.7"/>
<circle cx="181.23" cy="381.79" r="1.4" fill="none" stroke="#ff8f24" stroke-width="0.8"/>
<circle cx="181" cy="383.32" r="1.4" fill="none" stroke="#ff8f24" stroke-width="0.8"/>
<circle cx="181.28" cy="382.8" r="1.4" fill="none" stroke="#ff8f24" stroke-width="0.8"/>
<circle cx="185.29" cy="378.2" r="1.4" fill="none" stroke="#ff8f24" stroke-width="0.8"/>
<circle cx="185.39" cy="379.41" r="1.4" fill="none" stroke="#ff8f24" stroke-width="0.8"/>
<circle cx="180.74" cy="379.11" r="1.4" fill="none" stroke="#ff8f24" stroke-width="0.8"/>
<circle cx="185.25" cy="382.28" r="1.4" fill="none" stroke="#ff8f24" stroke-width="0.8"/>
<circle cx="185.36" cy="382.72" r="1.4" fill="none" stroke="#ff8f24" stroke-width="0.8"/>
<line x1="197.6" y1="381.09" x2="197.6" y2="382.91" stroke="#b048ea" stroke-width="0.7"/>
<line x1="195.4" y1="381.09" x2="199.8" y2="381.09" stroke="#b048ea" stroke-width="0.7"/>
<line x1="195.4" y1="382.91" x2="199.8" y2="382.91" stroke="#b048ea" stroke-width="0.7"/>
<circle cx="198.47" cy="380.05" r="1.4" fill="none" stroke="#b048ea" stroke-width="0.8"/>
<circle cx="197.33" cy="382.98" r="1.4" fill="none" stroke="#b048ea" stroke-width="0.8"/>
<circle cx="195.93" cy="384.02" r="1.4" fill="none" stroke="#b048ea" stroke-width="0.8"/>
<circle cx="199.08" cy="384.17" r="1.4" fill="none" stroke="#b048ea" stroke-width="0.8"/>
<circle cx="194.3" cy="379.71" r="1.4" fill="none" stroke="#b048ea" stroke-width="0.8"/>
<circle cx="199.76" cy="382.71" r="1.4" fill="none" stroke="#b048ea" stroke-width="0.8"/>
<circle cx="196.32" cy="380.03" r="1.4" fill="none" stroke="#b048ea" stroke-width="0.8"/>
<circle cx="195.33" cy="383.07" r="1.4" fill="none" stroke="#b048ea" stroke-width="0.8"/>
<text x="133.8" y="337.6" font-size="6.5" fill="#222" stroke="#222" stroke-width="0.2" textLength="22.5" lengthAdjust="spacingAndGlyphs">P&lt;0.0001</text>
<line x1="137.1" y1="339" x2="150.8" y2="339" stroke="#444" stroke-width="0.6"/>
<text x="167" y="337.6" font-size="6.5" fill="#222" stroke="#222" stroke-width="0.2" textLength="22.1" lengthAdjust="spacingAndGlyphs">P&lt;0.0001</text>
<line x1="154.1" y1="339" x2="197.9" y2="339" stroke="#444" stroke-width="0.6"/>
<text x="144" y="346.4" font-size="6.5" fill="#222" stroke="#222" stroke-width="0.2" textLength="22.1" lengthAdjust="spacingAndGlyphs">P&lt;0.0001</text>
<line x1="152.4" y1="347.7" x2="165.6" y2="347.7" stroke="#444" stroke-width="0.6"/>
<text x="168.1" y="346.4" font-size="6.5" fill="#222" stroke="#222" stroke-width="0.2" textLength="22.1" lengthAdjust="spacingAndGlyphs">P&lt;0.0001</text>
<line x1="170" y1="347.7" x2="183.7" y2="347.7" stroke="#444" stroke-width="0.6"/>
<text x="179.1" y="368.7" font-size="6.5" fill="#222" stroke="#222" stroke-width="0.2" textLength="22.1" lengthAdjust="spacingAndGlyphs">P=0.2607</text>
<line x1="184.2" y1="370.2" x2="197.3" y2="370.2" stroke="#444" stroke-width="0.6"/>
<text x="169.8" y="422" font-size="7.56" text-anchor="middle" fill="#222" stroke="#222" stroke-width="0.2" textLength="20" lengthAdjust="spacingAndGlyphs">Muscle</text>
<ellipse cx="210.5" cy="331.6" rx="1.95" ry="2.15" fill="none" stroke="#333333" stroke-width="0.9"/>
<text x="215.6" y="333.6" font-size="6.48" fill="#222" stroke="#222" stroke-width="0.2" textLength="12" lengthAdjust="spacingAndGlyphs">CON</text>
<ellipse cx="210.5" cy="338.6" rx="1.95" ry="2.15" fill="none" stroke="#ff5a5a" stroke-width="0.9"/>
<text x="215.6" y="340.6" font-size="6.48" fill="#222" stroke="#222" stroke-width="0.2" textLength="8.7" lengthAdjust="spacingAndGlyphs">IgG</text>
<ellipse cx="210.5" cy="345.4" rx="1.95" ry="2.15" fill="none" stroke="#2424d8" stroke-width="0.9"/>
<text x="215.6" y="347.4" font-size="6.48" fill="#222" stroke="#222" stroke-width="0.2" textLength="18.43" lengthAdjust="spacingAndGlyphs">&#945;PD-L1</text>
<ellipse cx="210.5" cy="352.5" rx="1.95" ry="2.15" fill="none" stroke="#ffb58a" stroke-width="0.9"/>
<text x="215.6" y="354.5" font-size="6.48" fill="#222" stroke="#222" stroke-width="0.2" textLength="38.08" lengthAdjust="spacingAndGlyphs">&#945;PD-L1+ CTSLi</text>
<ellipse cx="210.5" cy="359.4" rx="1.95" ry="2.15" fill="none" stroke="#b456f0" stroke-width="0.9"/>
<text x="215.6" y="361.4" font-size="6.48" fill="#222" stroke="#222" stroke-width="0.2" textLength="15" lengthAdjust="spacingAndGlyphs">CTSLi</text>
<line x1="256.1" y1="336.2" x2="256.1" y2="363.6" stroke="#444" stroke-width="0.7"/>
<text x="258.6" y="349.9" font-size="6.16" text-anchor="middle" fill="#222" stroke="#222" stroke-width="0.2" textLength="18.81" lengthAdjust="spacingAndGlyphs" transform="rotate(90 258.6 349.9)">TB mice</text>
<text x="261.3" y="307.6" font-size="8.2" fill="#000" font-weight="bold">K</text>
<text x="376.7" y="319" font-size="7.05" stroke="#222" stroke-width="0.2" text-anchor="middle" fill="#222" textLength="59" lengthAdjust="spacingAndGlyphs">CD49a<tspan font-size="4.5" dy="-2.2">+</tspan><tspan dy="2.2"> CD8</tspan><tspan font-size="4.5" dy="-2.2">+</tspan><tspan dy="2.2"> T cells</tspan></text>
<line x1="277.3" y1="323.8" x2="473.4" y2="323.8" stroke="#666" stroke-width="0.9"/>
<line x1="300.3" y1="334.4" x2="300.3" y2="415.8" stroke="#555" stroke-width="0.7"/>
<line x1="298.7" y1="334.4" x2="300.3" y2="334.4" stroke="#555" stroke-width="0.6"/>
<text x="296.4" y="336.5" font-size="6" text-anchor="end" fill="#333" stroke="#333" stroke-width="0.2" textLength="2.78" lengthAdjust="spacingAndGlyphs">3</text>
<line x1="298.7" y1="361.8" x2="300.3" y2="361.8" stroke="#555" stroke-width="0.6"/>
<text x="296.4" y="363.9" font-size="6" text-anchor="end" fill="#333" stroke="#333" stroke-width="0.2" textLength="2.78" lengthAdjust="spacingAndGlyphs">2</text>
<line x1="298.7" y1="388.8" x2="300.3" y2="388.8" stroke="#555" stroke-width="0.6"/>
<text x="296.4" y="390.9" font-size="6" text-anchor="end" fill="#333" stroke="#333" stroke-width="0.2" textLength="2.78" lengthAdjust="spacingAndGlyphs">1</text>
<line x1="298.7" y1="415.8" x2="300.3" y2="415.8" stroke="#555" stroke-width="0.6"/>
<text x="296.4" y="417.9" font-size="6" text-anchor="end" fill="#333" stroke="#333" stroke-width="0.2" textLength="2.78" lengthAdjust="spacingAndGlyphs">0</text>
<line x1="300.3" y1="415.8" x2="376.5" y2="415.8" stroke="#555" stroke-width="0.8"/>
<rect x="304.9" y="368.2" width="9.8" height="47.6" fill="#97969e"/>
<rect x="319.3" y="384.2" width="9.6" height="31.6" fill="#ffbcbc"/>
<rect x="333.9" y="365.5" width="9.9" height="50.3" fill="#bcbcff"/>
<rect x="348.4" y="355.6" width="9.8" height="60.2" fill="#ffdcbe"/>
<rect x="362.8" y="361.4" width="9.6" height="54.4" fill="#e6bef6"/>
<line x1="309.8" y1="367.15" x2="309.8" y2="369.25" stroke="#a8a8a8" stroke-width="0.7"/>
<line x1="307.6" y1="367.15" x2="312" y2="367.15" stroke="#a8a8a8" stroke-width="0.7"/>
<line x1="307.6" y1="369.25" x2="312" y2="369.25" stroke="#a8a8a8" stroke-width="0.7"/>
<circle cx="309.71" cy="370.15" r="1.4" fill="none" stroke="#a8a8a8" stroke-width="0.8"/>
<circle cx="308.9" cy="365.82" r="1.4" fill="none" stroke="#a8a8a8" stroke-width="0.8"/>
<circle cx="309.38" cy="368.6" r="1.4" fill="none" stroke="#a8a8a8" stroke-width="0.8"/>
<circle cx="307.39" cy="369.16" r="1.4" fill="none" stroke="#a8a8a8" stroke-width="0.8"/>
<circle cx="308.87" cy="369.81" r="1.4" fill="none" stroke="#a8a8a8" stroke-width="0.8"/>
<circle cx="310.68" cy="368.98" r="1.4" fill="none" stroke="#a8a8a8" stroke-width="0.8"/>
<circle cx="309.02" cy="367.76" r="1.4" fill="none" stroke="#a8a8a8" stroke-width="0.8"/>
<circle cx="312.83" cy="369.75" r="1.4" fill="none" stroke="#a8a8a8" stroke-width="0.8"/>
<line x1="324.1" y1="383.4" x2="324.1" y2="385" stroke="#f23a40" stroke-width="0.7"/>
<line x1="321.9" y1="383.4" x2="326.3" y2="383.4" stroke="#f23a40" stroke-width="0.7"/>
<line x1="321.9" y1="385" x2="326.3" y2="385" stroke="#f23a40" stroke-width="0.7"/>
<circle cx="324.55" cy="385.22" r="1.4" fill="none" stroke="#f23a40" stroke-width="0.8"/>
<circle cx="321.11" cy="383.45" r="1.4" fill="none" stroke="#f23a40" stroke-width="0.8"/>
<circle cx="325.48" cy="385.91" r="1.4" fill="none" stroke="#f23a40" stroke-width="0.8"/>
<circle cx="322.96" cy="385.38" r="1.4" fill="none" stroke="#f23a40" stroke-width="0.8"/>
<circle cx="327.35" cy="384.58" r="1.4" fill="none" stroke="#f23a40" stroke-width="0.8"/>
<circle cx="324.79" cy="385.39" r="1.4" fill="none" stroke="#f23a40" stroke-width="0.8"/>
<circle cx="323.61" cy="383.51" r="1.4" fill="none" stroke="#f23a40" stroke-width="0.8"/>
<circle cx="323.26" cy="385.6" r="1.4" fill="none" stroke="#f23a40" stroke-width="0.8"/>
<line x1="338.85" y1="364.7" x2="338.85" y2="366.3" stroke="#3a3af0" stroke-width="0.7"/>
<line x1="336.65" y1="364.7" x2="341.05" y2="364.7" stroke="#3a3af0" stroke-width="0.7"/>
<line x1="336.65" y1="366.3" x2="341.05" y2="366.3" stroke="#3a3af0" stroke-width="0.7"/>
<circle cx="339.54" cy="366.03" r="1.4" fill="none" stroke="#3a3af0" stroke-width="0.8"/>
<circle cx="340.94" cy="366.64" r="1.4" fill="none" stroke="#3a3af0" stroke-width="0.8"/>
<circle cx="335.46" cy="364.88" r="1.4" fill="none" stroke="#3a3af0" stroke-width="0.8"/>
<circle cx="338.32" cy="364.82" r="1.4" fill="none" stroke="#3a3af0" stroke-width="0.8"/>
<circle cx="341" cy="365.75" r="1.4" fill="none" stroke="#3a3af0" stroke-width="0.8"/>
<circle cx="335.74" cy="366.62" r="1.4" fill="none" stroke="#3a3af0" stroke-width="0.8"/>
<circle cx="340.97" cy="366.46" r="1.4" fill="none" stroke="#3a3af0" stroke-width="0.8"/>
<circle cx="339.34" cy="366.56" r="1.4" fill="none" stroke="#3a3af0" stroke-width="0.8"/>
<line x1="353.3" y1="354.03" x2="353.3" y2="357.18" stroke="#ff8f24" stroke-width="0.7"/>
<line x1="351.1" y1="354.03" x2="355.5" y2="354.03" stroke="#ff8f24" stroke-width="0.7"/>
<line x1="351.1" y1="357.18" x2="355.5" y2="357.18" stroke="#ff8f24" stroke-width="0.7"/>
<circle cx="355.69" cy="353.77" r="1.4" fill="none" stroke="#ff8f24" stroke-width="0.8"/>
<circle cx="354.56" cy="358.09" r="1.4" fill="none" stroke="#ff8f24" stroke-width="0.8"/>
<circle cx="352.26" cy="358.95" r="1.4" fill="none" stroke="#ff8f24" stroke-width="0.8"/>
<circle cx="353.66" cy="352.24" r="1.4" fill="none" stroke="#ff8f24" stroke-width="0.8"/>
<circle cx="351.26" cy="358.01" r="1.4" fill="none" stroke="#ff8f24" stroke-width="0.8"/>
<circle cx="356.24" cy="357.63" r="1.4" fill="none" stroke="#ff8f24" stroke-width="0.8"/>
<circle cx="354.03" cy="353.45" r="1.4" fill="none" stroke="#ff8f24" stroke-width="0.8"/>
<circle cx="353.06" cy="357.04" r="1.4" fill="none" stroke="#ff8f24" stroke-width="0.8"/>
<line x1="367.6" y1="360" x2="367.6" y2="362.8" stroke="#b048ea" stroke-width="0.7"/>
<line x1="365.4" y1="360" x2="369.8" y2="360" stroke="#b048ea" stroke-width="0.7"/>
<line x1="365.4" y1="362.8" x2="369.8" y2="362.8" stroke="#b048ea" stroke-width="0.7"/>
<circle cx="365.93" cy="359.29" r="1.4" fill="none" stroke="#b048ea" stroke-width="0.8"/>
<circle cx="369.58" cy="363.21" r="1.4" fill="none" stroke="#b048ea" stroke-width="0.8"/>
<circle cx="364.8" cy="361.11" r="1.4" fill="none" stroke="#b048ea" stroke-width="0.8"/>
<circle cx="369.45" cy="363.61" r="1.4" fill="none" stroke="#b048ea" stroke-width="0.8"/>
<circle cx="368.14" cy="359.48" r="1.4" fill="none" stroke="#b048ea" stroke-width="0.8"/>
<circle cx="370.22" cy="364.26" r="1.4" fill="none" stroke="#b048ea" stroke-width="0.8"/>
<circle cx="367.44" cy="361.56" r="1.4" fill="none" stroke="#b048ea" stroke-width="0.8"/>
<circle cx="365.49" cy="362.04" r="1.4" fill="none" stroke="#b048ea" stroke-width="0.8"/>
<text x="304.9" y="336.8" font-size="6.5" fill="#222" stroke="#222" stroke-width="0.2" textLength="21.9" lengthAdjust="spacingAndGlyphs">P&lt;0.0001</text>
<line x1="309" y1="338.6" x2="321.9" y2="338.6" stroke="#444" stroke-width="0.6"/>
<text x="337.2" y="336.8" font-size="6.5" fill="#222" stroke="#222" stroke-width="0.2" textLength="21.9" lengthAdjust="spacingAndGlyphs">P&lt;0.0001</text>
<line x1="325.4" y1="338.6" x2="369" y2="338.6" stroke="#444" stroke-width="0.6"/>
<text x="328.7" y="345" font-size="6.5" fill="#222" stroke="#222" stroke-width="0.2" textLength="21.9" lengthAdjust="spacingAndGlyphs">P&lt;0.0001</text>
<line x1="336.7" y1="346.1" x2="349.8" y2="346.1" stroke="#444" stroke-width="0.6"/>
<text x="352" y="345" font-size="6.5" fill="#222" stroke="#222" stroke-width="0.2" textLength="21.4" lengthAdjust="spacingAndGlyphs">P=0.0107</text>
<line x1="354.7" y1="346.1" x2="368.4" y2="346.1" stroke="#444" stroke-width="0.6"/>
<text x="318.8" y="359.2" font-size="6.5" fill="#222" stroke="#222" stroke-width="0.2" textLength="21.7" lengthAdjust="spacingAndGlyphs">P&lt;0.0001</text>
<line x1="324.6" y1="360.5" x2="338.9" y2="360.5" stroke="#444" stroke-width="0.6"/>
<text x="285" y="376.8" font-size="7.05" stroke="#222" stroke-width="0.2" text-anchor="middle" fill="#222" textLength="79" lengthAdjust="spacingAndGlyphs" transform="rotate(-90 285 376.8)">% of CD49a<tspan font-size="4.5" dy="-2.2">+</tspan><tspan dy="2.2"> CD8</tspan><tspan font-size="4.5" dy="-2.2">+</tspan><tspan dy="2.2"> T / CD45</tspan></text>
<text x="339.2" y="422.7" font-size="7.56" text-anchor="middle" fill="#222" stroke="#222" stroke-width="0.2" textLength="18" lengthAdjust="spacingAndGlyphs">Tumor</text>
<line x1="387.9" y1="333.4" x2="387.9" y2="415.8" stroke="#555" stroke-width="0.7"/>
<line x1="386.3" y1="333.4" x2="387.9" y2="333.4" stroke="#555" stroke-width="0.6"/>
<text x="384" y="335.5" font-size="6" text-anchor="end" fill="#333" stroke="#333" stroke-width="0.2" textLength="2.78" lengthAdjust="spacingAndGlyphs">4</text>
<line x1="386.3" y1="354" x2="387.9" y2="354" stroke="#555" stroke-width="0.6"/>
<text x="384" y="356.1" font-size="6" text-anchor="end" fill="#333" stroke="#333" stroke-width="0.2" textLength="2.78" lengthAdjust="spacingAndGlyphs">3</text>
<line x1="386.3" y1="374.6" x2="387.9" y2="374.6" stroke="#555" stroke-width="0.6"/>
<text x="384" y="376.7" font-size="6" text-anchor="end" fill="#333" stroke="#333" stroke-width="0.2" textLength="2.78" lengthAdjust="spacingAndGlyphs">2</text>
<line x1="386.3" y1="395.2" x2="387.9" y2="395.2" stroke="#555" stroke-width="0.6"/>
<text x="384" y="397.3" font-size="6" text-anchor="end" fill="#333" stroke="#333" stroke-width="0.2" textLength="2.78" lengthAdjust="spacingAndGlyphs">1</text>
<line x1="386.3" y1="415.8" x2="387.9" y2="415.8" stroke="#555" stroke-width="0.6"/>
<text x="384" y="417.9" font-size="6" text-anchor="end" fill="#333" stroke="#333" stroke-width="0.2" textLength="2.78" lengthAdjust="spacingAndGlyphs">0</text>
<line x1="387.9" y1="415.8" x2="466.5" y2="415.8" stroke="#555" stroke-width="0.8"/>
<rect x="394.9" y="381.5" width="9.6" height="34.3" fill="#97969e"/>
<rect x="409.3" y="366.4" width="9.6" height="49.4" fill="#ffbcbc"/>
<rect x="423.5" y="349.9" width="9.8" height="65.9" fill="#bcbcff"/>
<rect x="437.9" y="383.1" width="9.6" height="32.7" fill="#ffdcbe"/>
<rect x="452.1" y="382" width="9.8" height="33.8" fill="#e6bef6"/>
<line x1="399.7" y1="380.7" x2="399.7" y2="382.3" stroke="#a8a8a8" stroke-width="0.7"/>
<line x1="397.5" y1="380.7" x2="401.9" y2="380.7" stroke="#a8a8a8" stroke-width="0.7"/>
<line x1="397.5" y1="382.3" x2="401.9" y2="382.3" stroke="#a8a8a8" stroke-width="0.7"/>
<circle cx="397.53" cy="380.78" r="1.4" fill="none" stroke="#a8a8a8" stroke-width="0.8"/>
<circle cx="398.77" cy="381.97" r="1.4" fill="none" stroke="#a8a8a8" stroke-width="0.8"/>
<circle cx="399.04" cy="381.65" r="1.4" fill="none" stroke="#a8a8a8" stroke-width="0.8"/>
<circle cx="397.31" cy="381.54" r="1.4" fill="none" stroke="#a8a8a8" stroke-width="0.8"/>
<circle cx="403.08" cy="380.43" r="1.4" fill="none" stroke="#a8a8a8" stroke-width="0.8"/>
<circle cx="397.02" cy="381.21" r="1.4" fill="none" stroke="#a8a8a8" stroke-width="0.8"/>
<circle cx="401.65" cy="381.81" r="1.4" fill="none" stroke="#a8a8a8" stroke-width="0.8"/>
<circle cx="400.36" cy="380.7" r="1.4" fill="none" stroke="#a8a8a8" stroke-width="0.8"/>
<line x1="414.1" y1="365.6" x2="414.1" y2="367.2" stroke="#f23a40" stroke-width="0.7"/>
<line x1="411.9" y1="365.6" x2="416.3" y2="365.6" stroke="#f23a40" stroke-width="0.7"/>
<line x1="411.9" y1="367.2" x2="416.3" y2="367.2" stroke="#f23a40" stroke-width="0.7"/>
<circle cx="414.23" cy="365.84" r="1.4" fill="none" stroke="#f23a40" stroke-width="0.8"/>
<circle cx="410.93" cy="364.67" r="1.4" fill="none" stroke="#f23a40" stroke-width="0.8"/>
<circle cx="416.59" cy="368.17" r="1.4" fill="none" stroke="#f23a40" stroke-width="0.8"/>
<circle cx="414.56" cy="366.35" r="1.4" fill="none" stroke="#f23a40" stroke-width="0.8"/>
<circle cx="416" cy="365.54" r="1.4" fill="none" stroke="#f23a40" stroke-width="0.8"/>
<circle cx="417.14" cy="366.13" r="1.4" fill="none" stroke="#f23a40" stroke-width="0.8"/>
<circle cx="416.27" cy="367.36" r="1.4" fill="none" stroke="#f23a40" stroke-width="0.8"/>
<circle cx="412.43" cy="368.07" r="1.4" fill="none" stroke="#f23a40" stroke-width="0.8"/>
<line x1="428.4" y1="348.85" x2="428.4" y2="350.95" stroke="#3a3af0" stroke-width="0.7"/>
<line x1="426.2" y1="348.85" x2="430.6" y2="348.85" stroke="#3a3af0" stroke-width="0.7"/>
<line x1="426.2" y1="350.95" x2="430.6" y2="350.95" stroke="#3a3af0" stroke-width="0.7"/>
<circle cx="426.37" cy="347.4" r="1.4" fill="none" stroke="#3a3af0" stroke-width="0.8"/>
<circle cx="425.57" cy="348.18" r="1.4" fill="none" stroke="#3a3af0" stroke-width="0.8"/>
<circle cx="428.79" cy="347.48" r="1.4" fill="none" stroke="#3a3af0" stroke-width="0.8"/>
<circle cx="428.12" cy="351.9" r="1.4" fill="none" stroke="#3a3af0" stroke-width="0.8"/>
<circle cx="431.19" cy="352.31" r="1.4" fill="none" stroke="#3a3af0" stroke-width="0.8"/>
<circle cx="429.07" cy="347.55" r="1.4" fill="none" stroke="#3a3af0" stroke-width="0.8"/>
<circle cx="425.82" cy="349.35" r="1.4" fill="none" stroke="#3a3af0" stroke-width="0.8"/>
<circle cx="426.75" cy="352.38" r="1.4" fill="none" stroke="#3a3af0" stroke-width="0.8"/>
<line x1="442.7" y1="382.3" x2="442.7" y2="383.9" stroke="#ff8f24" stroke-width="0.7"/>
<line x1="440.5" y1="382.3" x2="444.9" y2="382.3" stroke="#ff8f24" stroke-width="0.7"/>
<line x1="440.5" y1="383.9" x2="444.9" y2="383.9" stroke="#ff8f24" stroke-width="0.7"/>
<circle cx="443.66" cy="383.26" r="1.4" fill="none" stroke="#ff8f24" stroke-width="0.8"/>
<circle cx="443.85" cy="384.25" r="1.4" fill="none" stroke="#ff8f24" stroke-width="0.8"/>
<circle cx="442.35" cy="382.83" r="1.4" fill="none" stroke="#ff8f24" stroke-width="0.8"/>
<circle cx="445.87" cy="382.24" r="1.4" fill="none" stroke="#ff8f24" stroke-width="0.8"/>
<circle cx="440.81" cy="384.34" r="1.4" fill="none" stroke="#ff8f24" stroke-width="0.8"/>
<circle cx="441.04" cy="381.94" r="1.4" fill="none" stroke="#ff8f24" stroke-width="0.8"/>
<circle cx="445.44" cy="382.73" r="1.4" fill="none" stroke="#ff8f24" stroke-width="0.8"/>
<circle cx="444.99" cy="384.12" r="1.4" fill="none" stroke="#ff8f24" stroke-width="0.8"/>
<line x1="457" y1="381.2" x2="457" y2="382.8" stroke="#b048ea" stroke-width="0.7"/>
<line x1="454.8" y1="381.2" x2="459.2" y2="381.2" stroke="#b048ea" stroke-width="0.7"/>
<line x1="454.8" y1="382.8" x2="459.2" y2="382.8" stroke="#b048ea" stroke-width="0.7"/>
<circle cx="458.95" cy="380.53" r="1.4" fill="none" stroke="#b048ea" stroke-width="0.8"/>
<circle cx="458" cy="382.68" r="1.4" fill="none" stroke="#b048ea" stroke-width="0.8"/>
<circle cx="453.98" cy="383.57" r="1.4" fill="none" stroke="#b048ea" stroke-width="0.8"/>
<circle cx="458.73" cy="380.85" r="1.4" fill="none" stroke="#b048ea" stroke-width="0.8"/>
<circle cx="458.2" cy="383.42" r="1.4" fill="none" stroke="#b048ea" stroke-width="0.8"/>
<circle cx="457.62" cy="381.35" r="1.4" fill="none" stroke="#b048ea" stroke-width="0.8"/>
<circle cx="454.32" cy="382.84" r="1.4" fill="none" stroke="#b048ea" stroke-width="0.8"/>
<circle cx="455.35" cy="381.43" r="1.4" fill="none" stroke="#b048ea" stroke-width="0.8"/>
<text x="392.6" y="336.8" font-size="6.5" fill="#222" stroke="#222" stroke-width="0.2" textLength="22.2" lengthAdjust="spacingAndGlyphs">P&lt;0.0001</text>
<line x1="397.2" y1="338.4" x2="409.7" y2="338.4" stroke="#444" stroke-width="0.6"/>
<text x="420.7" y="336.8" font-size="6.5" fill="#222" stroke="#222" stroke-width="0.2" textLength="22.2" lengthAdjust="spacingAndGlyphs">P&lt;0.0001</text>
<line x1="413.2" y1="338.4" x2="453.2" y2="338.4" stroke="#444" stroke-width="0.6"/>
<text x="404" y="344.1" font-size="6.5" fill="#222" stroke="#222" stroke-width="0.2" textLength="21.8" lengthAdjust="spacingAndGlyphs">P&lt;0.0001</text>
<line x1="408" y1="345.5" x2="422" y2="345.5" stroke="#444" stroke-width="0.6"/>
<text x="426.9" y="344.1" font-size="6.5" fill="#222" stroke="#222" stroke-width="0.2" textLength="21.7" lengthAdjust="spacingAndGlyphs">P&lt;0.0001</text>
<line x1="430" y1="345.5" x2="445" y2="345.5" stroke="#444" stroke-width="0.6"/>
<text x="437.9" y="376.1" font-size="6.5" fill="#222" stroke="#222" stroke-width="0.2" textLength="22.2" lengthAdjust="spacingAndGlyphs">P=0.2320</text>
<line x1="442" y1="377.5" x2="456" y2="377.5" stroke="#444" stroke-width="0.6"/>
<text x="428.5" y="422.6" font-size="7.56" text-anchor="middle" fill="#222" stroke="#222" stroke-width="0.2" textLength="20" lengthAdjust="spacingAndGlyphs">Muscle</text>
<ellipse cx="472.7" cy="332.3" rx="1.95" ry="2.15" fill="none" stroke="#333333" stroke-width="0.9"/>
<text x="477.9" y="334.3" font-size="6.48" fill="#222" stroke="#222" stroke-width="0.2" textLength="12" lengthAdjust="spacingAndGlyphs">CON</text>
<ellipse cx="472.7" cy="339.6" rx="1.95" ry="2.15" fill="none" stroke="#ff5a5a" stroke-width="0.9"/>
<text x="477.9" y="341.6" font-size="6.48" fill="#222" stroke="#222" stroke-width="0.2" textLength="8.7" lengthAdjust="spacingAndGlyphs">IgG</text>
<ellipse cx="472.7" cy="346.5" rx="1.95" ry="2.15" fill="none" stroke="#2424d8" stroke-width="0.9"/>
<text x="477.9" y="348.5" font-size="6.48" fill="#222" stroke="#222" stroke-width="0.2" textLength="18.43" lengthAdjust="spacingAndGlyphs">&#945;PD-L1</text>
<ellipse cx="472.7" cy="353.8" rx="1.95" ry="2.15" fill="none" stroke="#ffb58a" stroke-width="0.9"/>
<text x="477.9" y="355.8" font-size="6.48" fill="#222" stroke="#222" stroke-width="0.2" textLength="38.08" lengthAdjust="spacingAndGlyphs">&#945;PD-L1+ CTSLi</text>
<ellipse cx="472.7" cy="360.7" rx="1.95" ry="2.15" fill="none" stroke="#b456f0" stroke-width="0.9"/>
<text x="477.9" y="362.7" font-size="6.48" fill="#222" stroke="#222" stroke-width="0.2" textLength="15" lengthAdjust="spacingAndGlyphs">CTSLi</text>
<line x1="518.4" y1="336.9" x2="518.4" y2="363.9" stroke="#444" stroke-width="0.7"/>
<text x="521.4" y="350.4" font-size="6.16" text-anchor="middle" fill="#222" stroke="#222" stroke-width="0.2" textLength="18.81" lengthAdjust="spacingAndGlyphs" transform="rotate(90 521.4 350.4)">TB mice</text>
<text x="535.1" y="308" font-size="8.2" fill="#000" font-weight="bold">L</text>
<text x="615.7" y="303.1" font-size="7.56" text-anchor="middle" fill="#222" stroke="#222" stroke-width="0.2" textLength="82.9" lengthAdjust="spacingAndGlyphs">Human Muscle: CAC vs CON</text>
<rect x="561.5" y="308.5" width="116" height="108" fill="none" stroke="#777" stroke-width="0.8"/>
<line x1="559.2" y1="313.4" x2="561.5" y2="313.4" stroke="#666" stroke-width="0.6"/>
<text x="556.8" y="313.4" font-size="6" text-anchor="middle" fill="#333" stroke="#333" stroke-width="0.2" textLength="6.95" lengthAdjust="spacingAndGlyphs" transform="rotate(-90 556.8 313.4)">8.0</text>
<line x1="559.2" y1="330.1" x2="561.5" y2="330.1" stroke="#666" stroke-width="0.6"/>
<text x="556.8" y="330.1" font-size="6" text-anchor="middle" fill="#333" stroke="#333" stroke-width="0.2" textLength="6.95" lengthAdjust="spacingAndGlyphs" transform="rotate(-90 556.8 330.1)">7.5</text>
<line x1="559.2" y1="346.3" x2="561.5" y2="346.3" stroke="#666" stroke-width="0.6"/>
<text x="556.8" y="346.3" font-size="6" text-anchor="middle" fill="#333" stroke="#333" stroke-width="0.2" textLength="6.95" lengthAdjust="spacingAndGlyphs" transform="rotate(-90 556.8 346.3)">7.0</text>
<line x1="559.2" y1="362.5" x2="561.5" y2="362.5" stroke="#666" stroke-width="0.6"/>
<text x="556.8" y="362.5" font-size="6" text-anchor="middle" fill="#333" stroke="#333" stroke-width="0.2" textLength="6.95" lengthAdjust="spacingAndGlyphs" transform="rotate(-90 556.8 362.5)">6.5</text>
<line x1="559.2" y1="379.3" x2="561.5" y2="379.3" stroke="#666" stroke-width="0.6"/>
<text x="556.8" y="379.3" font-size="6" text-anchor="middle" fill="#333" stroke="#333" stroke-width="0.2" textLength="6.95" lengthAdjust="spacingAndGlyphs" transform="rotate(-90 556.8 379.3)">6.0</text>
<line x1="559.2" y1="396.3" x2="561.5" y2="396.3" stroke="#666" stroke-width="0.6"/>
<text x="556.8" y="396.3" font-size="6" text-anchor="middle" fill="#333" stroke="#333" stroke-width="0.2" textLength="6.95" lengthAdjust="spacingAndGlyphs" transform="rotate(-90 556.8 396.3)">5.5</text>
<line x1="559.2" y1="413" x2="561.5" y2="413" stroke="#666" stroke-width="0.6"/>
<text x="556.8" y="413" font-size="6" text-anchor="middle" fill="#333" stroke="#333" stroke-width="0.2" textLength="6.95" lengthAdjust="spacingAndGlyphs" transform="rotate(-90 556.8 413)">5.0</text>
<line x1="565.4" y1="416.5" x2="565.4" y2="418.8" stroke="#666" stroke-width="0.6"/>
<text x="565.4" y="425.4" font-size="6.36" text-anchor="middle" fill="#333" stroke="#333" stroke-width="0.2" textLength="7.37" lengthAdjust="spacingAndGlyphs">4.0</text>
<line x1="601.3" y1="416.5" x2="601.3" y2="418.8" stroke="#666" stroke-width="0.6"/>
<text x="601.3" y="425.4" font-size="6.36" text-anchor="middle" fill="#333" stroke="#333" stroke-width="0.2" textLength="7.37" lengthAdjust="spacingAndGlyphs">4.5</text>
<line x1="637.2" y1="416.5" x2="637.2" y2="418.8" stroke="#666" stroke-width="0.6"/>
<text x="637.2" y="425.4" font-size="6.36" text-anchor="middle" fill="#333" stroke="#333" stroke-width="0.2" textLength="7.37" lengthAdjust="spacingAndGlyphs">5.0</text>
<line x1="673.4" y1="416.5" x2="673.4" y2="418.8" stroke="#666" stroke-width="0.6"/>
<text x="673.4" y="425.4" font-size="6.36" text-anchor="middle" fill="#333" stroke="#333" stroke-width="0.2" textLength="7.37" lengthAdjust="spacingAndGlyphs">5.5</text>
<text x="545.8" y="360.6" font-size="7.56" text-anchor="middle" fill="#222" stroke="#222" stroke-width="0.2" font-style="italic" textLength="17.5" lengthAdjust="spacingAndGlyphs" transform="rotate(-90 545.8 360.6)">HLA-B</text>
<text x="619.8" y="432.7" font-size="7.56" text-anchor="middle" fill="#222" stroke="#222" stroke-width="0.2" font-style="italic" textLength="15.5" lengthAdjust="spacingAndGlyphs">CTSL</text>
<text x="570.8" y="320.1" font-size="6.24" fill="#222" stroke="#222" stroke-width="0.2" textLength="27" lengthAdjust="spacingAndGlyphs">P = 0.02289</text>
<text x="572.4" y="327.4" font-size="6.24" fill="#222" stroke="#222" stroke-width="0.2" textLength="21.5" lengthAdjust="spacingAndGlyphs">r = 0.582</text>
<line x1="561.5" y1="378.6" x2="677.5" y2="333.4" stroke="#222" stroke-width="0.8" stroke-dasharray="1.2 1.2"/>
<circle cx="580.2" cy="376" r="2" fill="#148a8a"/>
<circle cx="586.4" cy="373.6" r="2" fill="#148a8a"/>
<circle cx="604.1" cy="356.3" r="2" fill="#148a8a"/>
<circle cx="607.3" cy="385.1" r="2" fill="#148a8a"/>
<path d="M598.8,343.99 L604,343.99 L601.4,339.41 Z" fill="#2b4b49"/>
<path d="M603.7,348.09 L608.9,348.09 L606.3,343.51 Z" fill="#2b4b49"/>
<path d="M621.8,343.99 L627,343.99 L624.4,339.41 Z" fill="#2b4b49"/>
<path d="M614.4,357.79 L619.6,357.79 L617,353.21 Z" fill="#2b4b49"/>
<path d="M602.6,372.29 L607.8,372.29 L605.2,367.71 Z" fill="#2b4b49"/>
<circle cx="621.6" cy="339.3" r="2" fill="#e274e8"/>
<circle cx="631.4" cy="361.5" r="2" fill="#e274e8"/>
<circle cx="623" cy="366.8" r="2" fill="#e274e8"/>
<path d="M665.4,336.69 L670.6,336.69 L668,332.11 Z" fill="#b52262"/>
<path d="M645,347.29 L650.2,347.29 L647.6,342.71 Z" fill="#b52262"/>
<path d="M632.4,360.09 L637.6,360.09 L635,355.51 Z" fill="#b52262"/>
<rect x="626.4" y="381.2" width="48.1" height="31.6" fill="#fff" stroke="#777" stroke-width="0.7"/>
<circle cx="632.3" cy="385.8" r="2" fill="#148a8a"/>
<text x="637.4" y="388.2" font-size="6.6" fill="#222" stroke="#222" stroke-width="0.2" textLength="11.5" lengthAdjust="spacingAndGlyphs">CON</text>
<path d="M629.7,394.99 L634.9,394.99 L632.3,390.41 Z" fill="#2b4b49"/>
<text x="637.4" y="395.1" font-size="6.6" fill="#222" stroke="#222" stroke-width="0.2" textLength="11" lengthAdjust="spacingAndGlyphs">CAC</text>
<circle cx="632.3" cy="401.4" r="2" fill="#e274e8"/>
<text x="637.4" y="403.8" font-size="6.6" fill="#222" stroke="#222" stroke-width="0.2" textLength="11.5" lengthAdjust="spacingAndGlyphs">CON</text>
<path d="M629.7,410.99 L634.9,410.99 L632.3,406.41 Z" fill="#b52262"/>
<text x="637.4" y="411.1" font-size="6.6" fill="#222" stroke="#222" stroke-width="0.2" textLength="11" lengthAdjust="spacingAndGlyphs">CAC</text>
<line x1="653.4" y1="383.2" x2="653.4" y2="396" stroke="#888" stroke-width="0.6"/>
<line x1="653.4" y1="399.4" x2="653.4" y2="412" stroke="#888" stroke-width="0.6"/>
<text x="655.5" y="391.8" font-size="6.36" fill="#222" stroke="#222" stroke-width="0.2" textLength="17" lengthAdjust="spacingAndGlyphs">NSCLC</text>
<text x="655.5" y="407.8" font-size="6.36" fill="#222" stroke="#222" stroke-width="0.2" textLength="14" lengthAdjust="spacingAndGlyphs">PDAC</text>
<text x="11.4" y="444" font-size="8.2" fill="#000" font-weight="bold">M</text>
<line x1="10.3" y1="455" x2="10.3" y2="570.4" stroke="#000" stroke-width="1.1"/>
<path d="M8.1,456.5 L12.5,456.5 L10.3,450 Z" fill="#000"/>
<line x1="10.3" y1="570.4" x2="268" y2="570.4" stroke="#000" stroke-width="1.1"/>
<path d="M266.5,568.2 L266.5,572.6 L272.8,570.4 Z" fill="#000"/>
<text x="6.3" y="508" font-size="7.2" text-anchor="middle" fill="#222" stroke="#222" stroke-width="0.2" font-style="italic" textLength="16.5" lengthAdjust="spacingAndGlyphs" transform="rotate(-90 6.3 508)">H2-D1</text>
<text x="136.5" y="587.3" font-size="7.56" text-anchor="middle" fill="#222" stroke="#222" stroke-width="0.2" font-style="italic" textLength="10.5" lengthAdjust="spacingAndGlyphs">Ctsl</text>
<rect x="25.4" y="450.6" width="114.4" height="107.5" fill="none" stroke="#888" stroke-width="0.8"/>
<line x1="23.3" y1="469.2" x2="25.4" y2="469.2" stroke="#666" stroke-width="0.6"/>
<text x="18.3" y="469.2" font-size="6" text-anchor="middle" fill="#333" stroke="#333" stroke-width="0.2" textLength="5.19" lengthAdjust="spacingAndGlyphs" transform="rotate(-90 18.3 469.2)">11</text>
<line x1="23.3" y1="497.6" x2="25.4" y2="497.6" stroke="#666" stroke-width="0.6"/>
<text x="18.3" y="497.6" font-size="6" text-anchor="middle" fill="#333" stroke="#333" stroke-width="0.2" textLength="5.56" lengthAdjust="spacingAndGlyphs" transform="rotate(-90 18.3 497.6)">10</text>
<line x1="23.3" y1="526.3" x2="25.4" y2="526.3" stroke="#666" stroke-width="0.6"/>
<text x="18.3" y="526.3" font-size="6" text-anchor="middle" fill="#333" stroke="#333" stroke-width="0.2" textLength="2.78" lengthAdjust="spacingAndGlyphs" transform="rotate(-90 18.3 526.3)">9</text>
<line x1="23.3" y1="554.3" x2="25.4" y2="554.3" stroke="#666" stroke-width="0.6"/>
<text x="18.3" y="554.3" font-size="6" text-anchor="middle" fill="#333" stroke="#333" stroke-width="0.2" textLength="2.78" lengthAdjust="spacingAndGlyphs" transform="rotate(-90 18.3 554.3)">8</text>
<line x1="28.6" y1="558.1" x2="28.6" y2="560.3" stroke="#666" stroke-width="0.6"/>
<text x="28.6" y="566.2" font-size="6.36" text-anchor="middle" fill="#333" stroke="#333" stroke-width="0.2" textLength="2.95" lengthAdjust="spacingAndGlyphs">6</text>
<line x1="55.3" y1="558.1" x2="55.3" y2="560.3" stroke="#666" stroke-width="0.6"/>
<text x="55.3" y="566.2" font-size="6.36" text-anchor="middle" fill="#333" stroke="#333" stroke-width="0.2" textLength="2.95" lengthAdjust="spacingAndGlyphs">7</text>
<line x1="82.2" y1="558.1" x2="82.2" y2="560.3" stroke="#666" stroke-width="0.6"/>
<text x="82.2" y="566.2" font-size="6.36" text-anchor="middle" fill="#333" stroke="#333" stroke-width="0.2" textLength="2.95" lengthAdjust="spacingAndGlyphs">8</text>
<line x1="109.3" y1="558.1" x2="109.3" y2="560.3" stroke="#666" stroke-width="0.6"/>
<text x="109.3" y="566.2" font-size="6.36" text-anchor="middle" fill="#333" stroke="#333" stroke-width="0.2" textLength="2.95" lengthAdjust="spacingAndGlyphs">9</text>
<line x1="135.6" y1="558.1" x2="135.6" y2="560.3" stroke="#666" stroke-width="0.6"/>
<text x="135.6" y="566.2" font-size="6.36" text-anchor="middle" fill="#333" stroke="#333" stroke-width="0.2" textLength="5.89" lengthAdjust="spacingAndGlyphs">10</text>
<text x="33.8" y="459" font-size="6.24" fill="#222" stroke="#222" stroke-width="0.2" textLength="25.4" lengthAdjust="spacingAndGlyphs">P = 0.6808</text>
<text x="33.8" y="466.2" font-size="6.24" fill="#222" stroke="#222" stroke-width="0.2" textLength="20.8" lengthAdjust="spacingAndGlyphs">r = 0.174</text>
<line x1="25.4" y1="519.5" x2="139.8" y2="499.1" stroke="#222" stroke-width="0.8" stroke-dasharray="1.2 1.2"/>
<circle cx="72.9" cy="503" r="1.7" fill="#c4c4c4"/>
<circle cx="68.3" cy="510.6" r="1.9" fill="#c0c0c0"/>
<circle cx="66.3" cy="511.9" r="1.6" fill="#b8b8b8"/>
<circle cx="116.1" cy="541.2" r="2.2" fill="#c4c4c4"/>
<path d="M79.6,483.79 L84.8,483.79 L82.2,479.21 Z" fill="#f79a1c"/>
<path d="M108.6,500.69 L113.8,500.69 L111.2,496.11 Z" fill="#f79a1c"/>
<path d="M94.5,513.69 L99.7,513.69 L97.1,509.11 Z" fill="#f79a1c"/>
<path d="M64.4,523.49 L69.6,523.49 L67,518.91 Z" fill="#f79a1c"/>
<path d="M84.2,538.89 L89.4,538.89 L86.8,534.31 Z" fill="#f79a1c"/>
<path d="M114.1,552.99 L119.3,552.99 L116.7,548.41 Z" fill="#f79a1c"/>
<rect x="27.4" y="533.4" width="32.3" height="21.4" fill="#fff" stroke="#888" stroke-width="0.7"/>
<circle cx="32" cy="539.8" r="2" fill="#6a6a6a"/>
<text x="36.8" y="541.6" font-size="6.36" fill="#222" stroke="#222" stroke-width="0.2" textLength="11" lengthAdjust="spacingAndGlyphs">CON</text>
<path d="M29.5,550.8 L34.5,550.8 L32,546.4 Z" fill="#f79a1c"/>
<text x="36.8" y="550.4" font-size="6.36" fill="#222" stroke="#222" stroke-width="0.2" textLength="6.5" lengthAdjust="spacingAndGlyphs">TB</text>
<rect x="156.1" y="450.6" width="115.7" height="107.5" fill="none" stroke="#888" stroke-width="0.8"/>
<line x1="154" y1="454.4" x2="156.1" y2="454.4" stroke="#666" stroke-width="0.6"/>
<text x="149.6" y="454.4" font-size="6" text-anchor="middle" fill="#333" stroke="#333" stroke-width="0.2" textLength="6.95" lengthAdjust="spacingAndGlyphs" transform="rotate(-90 149.6 454.4)">7.0</text>
<line x1="154" y1="470.7" x2="156.1" y2="470.7" stroke="#666" stroke-width="0.6"/>
<text x="149.6" y="470.7" font-size="6" text-anchor="middle" fill="#333" stroke="#333" stroke-width="0.2" textLength="6.95" lengthAdjust="spacingAndGlyphs" transform="rotate(-90 149.6 470.7)">6.5</text>
<line x1="154" y1="487.5" x2="156.1" y2="487.5" stroke="#666" stroke-width="0.6"/>
<text x="149.6" y="487.5" font-size="6" text-anchor="middle" fill="#333" stroke="#333" stroke-width="0.2" textLength="6.95" lengthAdjust="spacingAndGlyphs" transform="rotate(-90 149.6 487.5)">6.0</text>
<line x1="154" y1="504.1" x2="156.1" y2="504.1" stroke="#666" stroke-width="0.6"/>
<text x="149.6" y="504.1" font-size="6" text-anchor="middle" fill="#333" stroke="#333" stroke-width="0.2" textLength="6.95" lengthAdjust="spacingAndGlyphs" transform="rotate(-90 149.6 504.1)">5.5</text>
<line x1="154" y1="521.4" x2="156.1" y2="521.4" stroke="#666" stroke-width="0.6"/>
<text x="149.6" y="521.4" font-size="6" text-anchor="middle" fill="#333" stroke="#333" stroke-width="0.2" textLength="6.95" lengthAdjust="spacingAndGlyphs" transform="rotate(-90 149.6 521.4)">5.0</text>
<line x1="154" y1="538" x2="156.1" y2="538" stroke="#666" stroke-width="0.6"/>
<text x="149.6" y="538" font-size="6" text-anchor="middle" fill="#333" stroke="#333" stroke-width="0.2" textLength="6.95" lengthAdjust="spacingAndGlyphs" transform="rotate(-90 149.6 538)">4.5</text>
<line x1="154" y1="554.8" x2="156.1" y2="554.8" stroke="#666" stroke-width="0.6"/>
<text x="149.6" y="554.8" font-size="6" text-anchor="middle" fill="#333" stroke="#333" stroke-width="0.2" textLength="6.95" lengthAdjust="spacingAndGlyphs" transform="rotate(-90 149.6 554.8)">4.0</text>
<line x1="159.9" y1="558.1" x2="159.9" y2="560.3" stroke="#666" stroke-width="0.6"/>
<text x="159.9" y="566.2" font-size="6.36" text-anchor="middle" fill="#333" stroke="#333" stroke-width="0.2" textLength="2.95" lengthAdjust="spacingAndGlyphs">4</text>
<line x1="179.1" y1="558.1" x2="179.1" y2="560.3" stroke="#666" stroke-width="0.6"/>
<text x="179.1" y="566.2" font-size="6.36" text-anchor="middle" fill="#333" stroke="#333" stroke-width="0.2" textLength="2.95" lengthAdjust="spacingAndGlyphs">5</text>
<line x1="198.7" y1="558.1" x2="198.7" y2="560.3" stroke="#666" stroke-width="0.6"/>
<text x="198.7" y="566.2" font-size="6.36" text-anchor="middle" fill="#333" stroke="#333" stroke-width="0.2" textLength="2.95" lengthAdjust="spacingAndGlyphs">6</text>
<line x1="217.7" y1="558.1" x2="217.7" y2="560.3" stroke="#666" stroke-width="0.6"/>
<text x="217.7" y="566.2" font-size="6.36" text-anchor="middle" fill="#333" stroke="#333" stroke-width="0.2" textLength="2.95" lengthAdjust="spacingAndGlyphs">7</text>
<line x1="237.2" y1="558.1" x2="237.2" y2="560.3" stroke="#666" stroke-width="0.6"/>
<text x="237.2" y="566.2" font-size="6.36" text-anchor="middle" fill="#333" stroke="#333" stroke-width="0.2" textLength="2.95" lengthAdjust="spacingAndGlyphs">8</text>
<line x1="256.5" y1="558.1" x2="256.5" y2="560.3" stroke="#666" stroke-width="0.6"/>
<text x="256.5" y="566.2" font-size="6.36" text-anchor="middle" fill="#333" stroke="#333" stroke-width="0.2" textLength="2.95" lengthAdjust="spacingAndGlyphs">9</text>
<text x="166.1" y="459" font-size="6.24" fill="#222" stroke="#222" stroke-width="0.2" textLength="27.5" lengthAdjust="spacingAndGlyphs">P = 0.04369</text>
<text x="166.1" y="466.2" font-size="6.24" fill="#222" stroke="#222" stroke-width="0.2" textLength="20.8" lengthAdjust="spacingAndGlyphs">r = 0.527</text>
<line x1="156.1" y1="522.8" x2="271.8" y2="491.8" stroke="#222" stroke-width="0.8" stroke-dasharray="1.2 1.2"/>
<circle cx="197.9" cy="493.8" r="1.9" fill="#c0c0c0"/>
<circle cx="194.1" cy="504.6" r="1.9" fill="#c0c0c0"/>
<circle cx="187.3" cy="510.8" r="1.9" fill="#c0c0c0"/>
<circle cx="188.4" cy="519" r="1.9" fill="#c0c0c0"/>
<circle cx="184.3" cy="523.6" r="1.9" fill="#c0c0c0"/>
<path d="M230.8,505.59 L236,505.59 L233.4,501.01 Z" fill="#f01818"/>
<path d="M246.8,504.19 L252,504.19 L249.4,499.61 Z" fill="#f01818"/>
<path d="M222.7,513.69 L227.9,513.69 L225.3,509.11 Z" fill="#f01818"/>
<path d="M241.4,515.59 L246.6,515.59 L244,511.01 Z" fill="#f01818"/>
<path d="M214.5,490.09 L219.7,490.09 L217.1,485.51 Z" fill="#1818f0"/>
<path d="M238.7,482.99 L243.9,482.99 L241.3,478.41 Z" fill="#1818f0"/>
<path d="M232.7,500.89 L237.9,500.89 L235.3,496.31 Z" fill="#1818f0"/>
<path d="M189.8,510.39 L195,510.39 L192.4,505.81 Z" fill="#9a30e0"/>
<path d="M186.6,523.99 L191.8,523.99 L189.2,519.41 Z" fill="#9a30e0"/>
<path d="M190.7,524.49 L195.9,524.49 L193.3,519.91 Z" fill="#9a30e0"/>
<rect x="224.4" y="524.3" width="43.9" height="30.9" fill="#fff" stroke="#888" stroke-width="0.7"/>
<circle cx="230.4" cy="530.3" r="2.2" fill="#c0c0c0"/>
<text x="234.7" y="532.2" font-size="6.36" fill="#222" stroke="#222" stroke-width="0.2" textLength="11" lengthAdjust="spacingAndGlyphs">CON</text>
<path d="M227.9,540.1 L232.9,540.1 L230.4,535.7 Z" fill="#f01818"/>
<text x="234.7" y="539.8" font-size="6.36" fill="#222" stroke="#222" stroke-width="0.2" textLength="8.5" lengthAdjust="spacingAndGlyphs">IgG</text>
<path d="M227.9,546.6 L232.9,546.6 L230.4,542.2 Z" fill="#1818f0"/>
<text x="234.7" y="546.3" font-size="6.36" fill="#222" stroke="#222" stroke-width="0.2" textLength="17.5" lengthAdjust="spacingAndGlyphs">&#945;PD-L1</text>
<path d="M227.9,553.3 L232.9,553.3 L230.4,548.9 Z" fill="#9a30e0"/>
<text x="234.7" y="553" font-size="6.36" fill="#222" stroke="#222" stroke-width="0.2" textLength="15.5" lengthAdjust="spacingAndGlyphs">&#945;CD8a</text>
<line x1="258.3" y1="533.5" x2="258.3" y2="553.3" stroke="#666" stroke-width="0.6"/>
<text x="261.6" y="543.4" font-size="5.76" text-anchor="middle" fill="#222" stroke="#222" stroke-width="0.2" textLength="16" lengthAdjust="spacingAndGlyphs" transform="rotate(90 261.6 543.4)">TB mice</text>
<text x="290.8" y="444" font-size="8.2" fill="#000" font-weight="bold">N</text>
<text x="392.5" y="460.4" font-size="7.56" text-anchor="middle" fill="#222" stroke="#222" stroke-width="0.2" textLength="20" lengthAdjust="spacingAndGlyphs">Muscle</text>
<line x1="308.4" y1="462.7" x2="474" y2="462.7" stroke="#777" stroke-width="0.9"/>
<text x="323.5" y="471.6" font-size="7.56" text-anchor="middle" fill="#222" stroke="#222" stroke-width="0.2" textLength="14.4" lengthAdjust="spacingAndGlyphs">CON</text>
<line x1="308.4" y1="474" x2="339.2" y2="474" stroke="#777" stroke-width="0.9"/>
<text x="413.3" y="471.6" font-size="7.56" text-anchor="middle" fill="#222" stroke="#222" stroke-width="0.2" textLength="22.8" lengthAdjust="spacingAndGlyphs">TB mice</text>
<line x1="342.9" y1="474" x2="474" y2="474" stroke="#777" stroke-width="0.9"/>
<text x="303" y="484.2" font-size="7.56" text-anchor="end" fill="#222" stroke="#222" stroke-width="0.2" textLength="17.3" lengthAdjust="spacingAndGlyphs">CTSLi</text>
<text x="302.3" y="492" font-size="7.56" text-anchor="end" fill="#222" stroke="#222" stroke-width="0.2" textLength="21.6" lengthAdjust="spacingAndGlyphs">&#945;PD-L1</text>
<text x="303" y="498.5" font-size="7.56" text-anchor="end" fill="#222" stroke="#222" stroke-width="0.2" textLength="10.2" lengthAdjust="spacingAndGlyphs">IgG</text>
<text x="301.1" y="512.7" font-size="7.56" text-anchor="end" fill="#222" stroke="#222" stroke-width="0.2" textLength="18.1" lengthAdjust="spacingAndGlyphs">MHC-I</text>
<text x="301.1" y="528.7" font-size="7.56" text-anchor="end" fill="#222" stroke="#222" stroke-width="0.2" textLength="21.8" lengthAdjust="spacingAndGlyphs">Vinculin</text>
<line x1="322.3" y1="480.7" x2="323.9" y2="480.7" stroke="#333" stroke-width="0.8"/>
<line x1="322.3" y1="488.2" x2="323.9" y2="488.2" stroke="#333" stroke-width="0.8"/>
<line x1="322.3" y1="495.7" x2="323.9" y2="495.7" stroke="#333" stroke-width="0.8"/>
<line x1="357.8" y1="480.7" x2="359.4" y2="480.7" stroke="#333" stroke-width="0.8"/>
<line x1="357.8" y1="488.2" x2="359.4" y2="488.2" stroke="#333" stroke-width="0.8"/>
<text x="358.6" y="497.6" font-size="7.2" text-anchor="middle" stroke="#111" stroke-width="0.2" textLength="3.5" lengthAdjust="spacingAndGlyphs">+</text>
<line x1="391.2" y1="480.7" x2="392.8" y2="480.7" stroke="#333" stroke-width="0.8"/>
<text x="392" y="490.1" font-size="7.2" text-anchor="middle" stroke="#111" stroke-width="0.2" textLength="3.5" lengthAdjust="spacingAndGlyphs">+</text>
<line x1="391.2" y1="495.7" x2="392.8" y2="495.7" stroke="#333" stroke-width="0.8"/>
<text x="426.3" y="482.6" font-size="7.2" text-anchor="middle" stroke="#111" stroke-width="0.2" textLength="3.5" lengthAdjust="spacingAndGlyphs">+</text>
<text x="426.3" y="490.1" font-size="7.2" text-anchor="middle" stroke="#111" stroke-width="0.2" textLength="3.5" lengthAdjust="spacingAndGlyphs">+</text>
<line x1="425.5" y1="495.7" x2="427.1" y2="495.7" stroke="#333" stroke-width="0.8"/>
<text x="460.7" y="482.6" font-size="7.2" text-anchor="middle" stroke="#111" stroke-width="0.2" textLength="3.5" lengthAdjust="spacingAndGlyphs">+</text>
<line x1="459.9" y1="488.2" x2="461.5" y2="488.2" stroke="#333" stroke-width="0.8"/>
<line x1="459.9" y1="495.7" x2="461.5" y2="495.7" stroke="#333" stroke-width="0.8"/>
<line x1="308.1" y1="500" x2="339.2" y2="500" stroke="#333" stroke-width="0.8"/>
<line x1="341.9" y1="500" x2="373.5" y2="500" stroke="#333" stroke-width="0.8"/>
<line x1="376.2" y1="500" x2="407.6" y2="500" stroke="#333" stroke-width="0.8"/>
<line x1="410.3" y1="500" x2="440.5" y2="500" stroke="#333" stroke-width="0.8"/>
<line x1="443.2" y1="500" x2="474.3" y2="500" stroke="#333" stroke-width="0.8"/>
<rect x="305.4" y="501.8" width="174.2" height="14.3" fill="url(#gN1)" stroke="#555" stroke-width="0.9"/>
<rect x="305.4" y="518" width="174.2" height="14.3" fill="url(#gN2)" stroke="#555" stroke-width="0.9"/>
<ellipse cx="317.6" cy="507.6" rx="6.75" ry="2.1" fill="#000" fill-opacity="0.05" filter="url(#bl2)"/>
<ellipse cx="333.8" cy="507.6" rx="6.75" ry="2.1" fill="#000" fill-opacity="0.1" filter="url(#bl2)"/>
<ellipse cx="351.3" cy="507.6" rx="6.75" ry="2.1" fill="#000" fill-opacity="0.55" filter="url(#bl2)"/>
<ellipse cx="366.2" cy="507.6" rx="6.75" ry="2.1" fill="#000" fill-opacity="0.4" filter="url(#bl2)"/>
<ellipse cx="384.3" cy="507.6" rx="6.75" ry="2.1" fill="#000" fill-opacity="0.8" filter="url(#bl2)"/>
<ellipse cx="402.1" cy="507.6" rx="7.75" ry="2.6" fill="#000" fill-opacity="1" filter="url(#bl2)"/>
<ellipse cx="416.7" cy="507.6" rx="6.75" ry="2.1" fill="#000" fill-opacity="0.3" filter="url(#bl2)"/>
<ellipse cx="432.9" cy="507.6" rx="6.75" ry="2.1" fill="#000" fill-opacity="0.15" filter="url(#bl2)"/>
<ellipse cx="449.9" cy="507.6" rx="6.75" ry="2.1" fill="#000" fill-opacity="0.1" filter="url(#bl2)"/>
<ellipse cx="465.3" cy="507.6" rx="6.75" ry="2.1" fill="#000" fill-opacity="0.08" filter="url(#bl2)"/>
<ellipse cx="317.6" cy="524.4" rx="6.75" ry="1.6" fill="#000" fill-opacity="0.8" filter="url(#bl1)"/>
<ellipse cx="333.8" cy="524.4" rx="6.75" ry="1.6" fill="#000" fill-opacity="0.8" filter="url(#bl1)"/>
<ellipse cx="351.3" cy="524.4" rx="6.75" ry="1.6" fill="#000" fill-opacity="0.8" filter="url(#bl1)"/>
<ellipse cx="366.2" cy="524.4" rx="6.75" ry="1.6" fill="#000" fill-opacity="0.8" filter="url(#bl1)"/>
<ellipse cx="384.3" cy="524.4" rx="6.75" ry="1.6" fill="#000" fill-opacity="0.8" filter="url(#bl1)"/>
<ellipse cx="402.1" cy="524.4" rx="6.75" ry="1.6" fill="#000" fill-opacity="0.8" filter="url(#bl1)"/>
<ellipse cx="416.7" cy="524.4" rx="6.75" ry="1.6" fill="#000" fill-opacity="0.8" filter="url(#bl1)"/>
<ellipse cx="432.9" cy="524.4" rx="6.75" ry="1.6" fill="#000" fill-opacity="0.8" filter="url(#bl1)"/>
<ellipse cx="449.9" cy="524.4" rx="6.75" ry="1.6" fill="#000" fill-opacity="0.8" filter="url(#bl1)"/>
<ellipse cx="465.3" cy="524.4" rx="6.75" ry="1.6" fill="#000" fill-opacity="0.8" filter="url(#bl1)"/>
<line x1="480.6" y1="506.7" x2="482.6" y2="506.7" stroke="#333" stroke-width="0.6"/>
<text x="484" y="508.5" font-size="6.24" fill="#222" stroke="#222" stroke-width="0.2" textLength="5.78" lengthAdjust="spacingAndGlyphs">50</text>
<line x1="480.6" y1="519.2" x2="482.6" y2="519.2" stroke="#333" stroke-width="0.6"/>
<text x="484" y="521" font-size="6.24" fill="#222" stroke="#222" stroke-width="0.2" textLength="8.68" lengthAdjust="spacingAndGlyphs">150</text>
<line x1="480.6" y1="527.2" x2="482.6" y2="527.2" stroke="#333" stroke-width="0.6"/>
<text x="484" y="529" font-size="6.24" fill="#222" stroke="#222" stroke-width="0.2" textLength="8.68" lengthAdjust="spacingAndGlyphs">100</text>
<text x="505.8" y="444" font-size="8.2" fill="#000" font-weight="bold">O</text>
<text x="542" y="475.7" font-size="7.56" text-anchor="middle" fill="#222" stroke="#222" stroke-width="0.2" textLength="19.5" lengthAdjust="spacingAndGlyphs">C2C12</text>
<line x1="525.8" y1="478.2" x2="558.8" y2="478.2" stroke="#777" stroke-width="0.9"/>
<text x="523" y="484.1" font-size="7.56" text-anchor="end" fill="#222" stroke="#222" stroke-width="0.2" textLength="18.5" lengthAdjust="spacingAndGlyphs">si-Ctsl</text>
<line x1="535.4" y1="482.4" x2="536.6" y2="482.4" stroke="#333" stroke-width="0.7"/>
<text x="550.4" y="484.1" font-size="7.2" text-anchor="middle" stroke="#111" stroke-width="0.2" textLength="3.5" lengthAdjust="spacingAndGlyphs">+</text>
<text x="523" y="497.1" font-size="7.56" text-anchor="end" fill="#222" stroke="#222" stroke-width="0.2" textLength="10.5" lengthAdjust="spacingAndGlyphs">Ctsl</text>
<text x="523" y="511.7" font-size="7.56" text-anchor="end" fill="#222" stroke="#222" stroke-width="0.2" textLength="18" lengthAdjust="spacingAndGlyphs">MHC-I</text>
<text x="523" y="527" font-size="7.56" text-anchor="end" fill="#222" stroke="#222" stroke-width="0.2" textLength="22" lengthAdjust="spacingAndGlyphs">Vinculin</text>
<rect x="524.5" y="486" width="36.7" height="14.9" fill="#efefef" stroke="#666" stroke-width="0.7"/>
<rect x="524.5" y="501.8" width="36.7" height="14.5" fill="#ececec" stroke="#666" stroke-width="0.7"/>
<rect x="524.5" y="517.3" width="36.7" height="14.9" fill="#e9e9e9" stroke="#666" stroke-width="0.7"/>
<ellipse cx="534.2" cy="493.4" rx="6.5" ry="1.8" fill="#000" fill-opacity="0.95" filter="url(#bl1)"/>
<ellipse cx="552.5" cy="493.6" rx="5.5" ry="1.2" fill="#000" fill-opacity="0.12" filter="url(#bl1)"/>
<ellipse cx="534.2" cy="509.8" rx="6.5" ry="1.9" fill="#000" fill-opacity="0.95" filter="url(#bl1)"/>
<ellipse cx="552.5" cy="509.8" rx="6" ry="1.5" fill="#000" fill-opacity="0.6" filter="url(#bl1)"/>
<ellipse cx="534.2" cy="525.1" rx="7.5" ry="2.8" fill="#000" fill-opacity="1" filter="url(#bl1)"/>
<ellipse cx="552.2" cy="525.1" rx="7.25" ry="2.6" fill="#000" fill-opacity="1" filter="url(#bl1)"/>
<line x1="562" y1="490.4" x2="564" y2="490.4" stroke="#333" stroke-width="0.6"/>
<text x="565.3" y="492.2" font-size="6.24" fill="#222" stroke="#222" stroke-width="0.2" textLength="5.78" lengthAdjust="spacingAndGlyphs">25</text>
<line x1="562" y1="505.9" x2="564" y2="505.9" stroke="#333" stroke-width="0.6"/>
<text x="565.3" y="507.7" font-size="6.24" fill="#222" stroke="#222" stroke-width="0.2" textLength="5.78" lengthAdjust="spacingAndGlyphs">50</text>
<line x1="562" y1="518.5" x2="564" y2="518.5" stroke="#333" stroke-width="0.6"/>
<text x="565.3" y="520.3" font-size="6.24" fill="#222" stroke="#222" stroke-width="0.2" textLength="8.68" lengthAdjust="spacingAndGlyphs">150</text>
<line x1="562" y1="526.5" x2="564" y2="526.5" stroke="#333" stroke-width="0.6"/>
<text x="565.3" y="528.3" font-size="6.24" fill="#222" stroke="#222" stroke-width="0.2" textLength="8.68" lengthAdjust="spacingAndGlyphs">100</text>
<text x="587.2" y="443.8" font-size="8.2" fill="#000" font-weight="bold">P</text>
<line x1="611.6" y1="461.2" x2="611.6" y2="529.7" stroke="#555" stroke-width="0.7"/>
<line x1="610" y1="461.2" x2="611.6" y2="461.2" stroke="#555" stroke-width="0.6"/>
<text x="607.7" y="463.3" font-size="6" text-anchor="end" fill="#333" stroke="#333" stroke-width="0.2" textLength="5.56" lengthAdjust="spacingAndGlyphs">25</text>
<line x1="610" y1="474.7" x2="611.6" y2="474.7" stroke="#555" stroke-width="0.6"/>
<text x="607.7" y="476.8" font-size="6" text-anchor="end" fill="#333" stroke="#333" stroke-width="0.2" textLength="5.56" lengthAdjust="spacingAndGlyphs">20</text>
<line x1="610" y1="488.3" x2="611.6" y2="488.3" stroke="#555" stroke-width="0.6"/>
<text x="607.7" y="490.4" font-size="6" text-anchor="end" fill="#333" stroke="#333" stroke-width="0.2" textLength="5.56" lengthAdjust="spacingAndGlyphs">15</text>
<line x1="610" y1="502.4" x2="611.6" y2="502.4" stroke="#555" stroke-width="0.6"/>
<text x="607.7" y="504.5" font-size="6" text-anchor="end" fill="#333" stroke="#333" stroke-width="0.2" textLength="5.56" lengthAdjust="spacingAndGlyphs">10</text>
<line x1="610" y1="516.2" x2="611.6" y2="516.2" stroke="#555" stroke-width="0.6"/>
<text x="607.7" y="518.3" font-size="6" text-anchor="end" fill="#333" stroke="#333" stroke-width="0.2" textLength="2.78" lengthAdjust="spacingAndGlyphs">5</text>
<line x1="610" y1="529.7" x2="611.6" y2="529.7" stroke="#555" stroke-width="0.6"/>
<text x="607.7" y="531.8" font-size="6" text-anchor="end" fill="#333" stroke="#333" stroke-width="0.2" textLength="2.78" lengthAdjust="spacingAndGlyphs">0</text>
<line x1="611.6" y1="529.7" x2="668.5" y2="529.7" stroke="#555" stroke-width="0.8"/>
<rect x="615.7" y="483.4" width="9.4" height="46.3" fill="#97969e"/>
<rect x="629.7" y="472.8" width="9.8" height="56.9" fill="#c9dbdb"/>
<rect x="643.3" y="501" width="9.7" height="28.7" fill="#ffbcbc"/>
<rect x="656.8" y="491" width="9.8" height="38.7" fill="#bcbcff"/>
<line x1="620.4" y1="482.4" x2="620.4" y2="484.4" stroke="#a8a8a8" stroke-width="0.7"/>
<line x1="618.4" y1="482.4" x2="622.4" y2="482.4" stroke="#a8a8a8" stroke-width="0.7"/>
<circle cx="618.14" cy="482.49" r="1.2" fill="none" stroke="#a8a8a8" stroke-width="0.65"/>
<circle cx="618.83" cy="483.51" r="1.2" fill="none" stroke="#a8a8a8" stroke-width="0.65"/>
<circle cx="618.26" cy="483.3" r="1.2" fill="none" stroke="#a8a8a8" stroke-width="0.65"/>
<line x1="634.6" y1="471.8" x2="634.6" y2="473.8" stroke="#5aa0a0" stroke-width="0.7"/>
<line x1="632.6" y1="471.8" x2="636.6" y2="471.8" stroke="#5aa0a0" stroke-width="0.7"/>
<circle cx="635.9" cy="472.69" r="1.2" fill="none" stroke="#5aa0a0" stroke-width="0.65"/>
<circle cx="632.77" cy="474.59" r="1.2" fill="none" stroke="#5aa0a0" stroke-width="0.65"/>
<circle cx="632.92" cy="473.21" r="1.2" fill="none" stroke="#5aa0a0" stroke-width="0.65"/>
<line x1="648.15" y1="500" x2="648.15" y2="502" stroke="#f23a40" stroke-width="0.7"/>
<line x1="646.15" y1="500" x2="650.15" y2="500" stroke="#f23a40" stroke-width="0.7"/>
<circle cx="650.75" cy="502.68" r="1.2" fill="none" stroke="#f23a40" stroke-width="0.65"/>
<circle cx="645.99" cy="499.13" r="1.2" fill="none" stroke="#f23a40" stroke-width="0.65"/>
<circle cx="647.83" cy="503.26" r="1.2" fill="none" stroke="#f23a40" stroke-width="0.65"/>
<line x1="661.7" y1="490" x2="661.7" y2="492" stroke="#3a3af0" stroke-width="0.7"/>
<line x1="659.7" y1="490" x2="663.7" y2="490" stroke="#3a3af0" stroke-width="0.7"/>
<circle cx="663.75" cy="492.05" r="1.2" fill="none" stroke="#3a3af0" stroke-width="0.65"/>
<circle cx="662.47" cy="490.3" r="1.2" fill="none" stroke="#3a3af0" stroke-width="0.65"/>
<circle cx="663.64" cy="491.22" r="1.2" fill="none" stroke="#3a3af0" stroke-width="0.65"/>
<text x="626" y="460.7" font-size="6.5" fill="#222" stroke="#222" stroke-width="0.2" textLength="21.9" lengthAdjust="spacingAndGlyphs">P=0.0011</text>
<line x1="618.8" y1="461.5" x2="647.9" y2="461.5" stroke="#444" stroke-width="0.6"/>
<text x="614" y="467.9" font-size="6.5" fill="#222" stroke="#222" stroke-width="0.2" textLength="22.7" lengthAdjust="spacingAndGlyphs">P=0.0106</text>
<line x1="619.3" y1="469" x2="634.6" y2="469" stroke="#444" stroke-width="0.6"/>
<text x="641.3" y="467.9" font-size="6.5" fill="#222" stroke="#222" stroke-width="0.2" textLength="21.9" lengthAdjust="spacingAndGlyphs">P&lt;0.0001</text>
<line x1="634.6" y1="469" x2="663.2" y2="469" stroke="#444" stroke-width="0.6"/>
<text x="640.8" y="486.3" font-size="6.5" fill="#222" stroke="#222" stroke-width="0.2" textLength="23" lengthAdjust="spacingAndGlyphs">P=0.0015</text>
<line x1="647.4" y1="487.6" x2="660.2" y2="487.6" stroke="#444" stroke-width="0.6"/>
<text x="594.6" y="496.4" font-size="7.56" text-anchor="middle" fill="#222" stroke="#222" stroke-width="0.2" textLength="62" lengthAdjust="spacingAndGlyphs" transform="rotate(-90 594.6 496.4)">Myotube diameter (&#956;m)</text>
<text x="611.6" y="537.6" font-size="7.56" text-anchor="end" fill="#222" stroke="#222" stroke-width="0.2" textLength="19.5" lengthAdjust="spacingAndGlyphs">si-Cont</text>
<text x="611.6" y="545.7" font-size="7.56" text-anchor="end" fill="#222" stroke="#222" stroke-width="0.2" textLength="17.5" lengthAdjust="spacingAndGlyphs">si-Ctsl</text>
<text x="620.4" y="537" font-size="7.2" text-anchor="middle" stroke="#111" stroke-width="0.2" textLength="3.5" lengthAdjust="spacingAndGlyphs">+</text>
<line x1="619.6" y1="543.3" x2="621.2" y2="543.3" stroke="#333" stroke-width="0.8"/>
<line x1="633.8" y1="535.1" x2="635.4" y2="535.1" stroke="#333" stroke-width="0.8"/>
<text x="634.6" y="545.2" font-size="7.2" text-anchor="middle" stroke="#111" stroke-width="0.2" textLength="3.5" lengthAdjust="spacingAndGlyphs">+</text>
<text x="648.1" y="537" font-size="7.2" text-anchor="middle" stroke="#111" stroke-width="0.2" textLength="3.5" lengthAdjust="spacingAndGlyphs">+</text>
<line x1="647.3" y1="543.3" x2="648.9" y2="543.3" stroke="#333" stroke-width="0.8"/>
<line x1="660.9" y1="535.1" x2="662.5" y2="535.1" stroke="#333" stroke-width="0.8"/>
<text x="661.7" y="545.2" font-size="7.2" text-anchor="middle" stroke="#111" stroke-width="0.2" textLength="3.5" lengthAdjust="spacingAndGlyphs">+</text>
<line x1="615.7" y1="551" x2="637.3" y2="551" stroke="#333" stroke-width="0.8"/>
<line x1="642.8" y1="551" x2="664.4" y2="551" stroke="#333" stroke-width="0.8"/>
<text x="613" y="558.6" font-size="7.05" stroke="#222" stroke-width="0.2" fill="#222" textLength="52.8" lengthAdjust="spacingAndGlyphs">- CD8<tspan font-size="4.5" dy="-2.2">+</tspan><tspan dy="2.2"> T + CD8</tspan><tspan font-size="4.5" dy="-2.2">+</tspan><tspan dy="2.2"> T</tspan></text>
<line x1="615.7" y1="562.2" x2="665.8" y2="562.2" stroke="#333" stroke-width="0.8"/>
<text x="639.5" y="568.2" font-size="7.56" text-anchor="middle" fill="#222" stroke="#222" stroke-width="0.2" textLength="14" lengthAdjust="spacingAndGlyphs">+ CM</text>
</svg></body></html>
